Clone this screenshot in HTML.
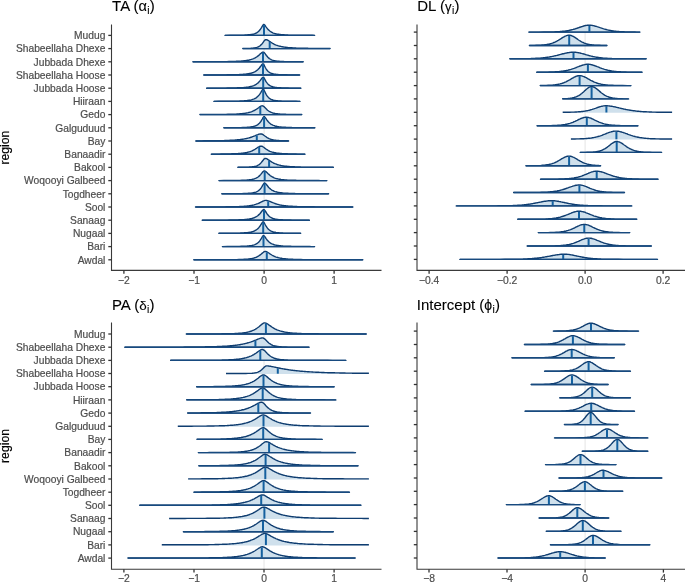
<!DOCTYPE html>
<html lang="en">
<head>
<meta charset="utf-8">
<title>Region posterior distributions</title>
<style>
html,body{margin:0;padding:0;background:#fff;}
body{width:685px;height:583px;overflow:hidden;font-family:"Liberation Sans",sans-serif;}
svg{display:block;}
</style>
</head>
<body>
<svg width="685" height="583" viewBox="0 0 685 583" font-family="Liberation Sans, sans-serif">
<rect width="685" height="583" fill="#ffffff"/>
<g id="panel1">
<text x="112.1" y="11.2" font-size="15" fill="#000" stroke="#000" stroke-width="0.1">TA (<tspan font-size="14.6">α</tspan><tspan font-size="10.3" dx="0.3" dy="2.8">i</tspan><tspan font-size="15" dx="0.3" dy="-2.8">)</tspan></text>
<line x1="264.1" x2="264.1" y1="24.4" y2="270.4" stroke="#e4e4e4" stroke-width="1"/>
<path d="M225,35.4 L230,35.3 L232,35.3 L234,35.3 L236,35.3 L238,35.2 L240,35.2 L242,35.1 L242.8,35.1 L243.5,35.1 L244.2,35.1 L245,35 L245.8,35 L246.5,35 L247.2,34.9 L248,34.8 L248.8,34.8 L249.5,34.7 L250.2,34.6 L251,34.5 L251.8,34.4 L252.5,34.3 L253.2,34.1 L254,33.9 L254.8,33.6 L255.5,33.3 L256.2,33 L257,32.6 L257.8,32 L258.5,31.4 L259.2,30.8 L260,29.8 L260.8,28.7 L261.5,27.6 L262.2,26.3 L263,25 L263.8,24.4 L264.5,24.8 L265.2,25.6 L266,26.8 L266.8,27.9 L267.5,28.8 L268.2,29.6 L269,30.3 L269.8,31 L270.5,31.5 L271.2,32 L272,32.4 L272.8,32.8 L273.5,33.1 L274.2,33.3 L275,33.6 L275.8,33.8 L276.5,33.9 L277.2,34.1 L278,34.2 L278.8,34.3 L279.5,34.4 L280.2,34.5 L281,34.6 L281.8,34.7 L282.5,34.7 L283.2,34.8 L284,34.8 L284.8,34.9 L285.5,34.9 L286.2,35 L287,35 L287.8,35 L288.5,35.1 L289.2,35.1 L290,35.1 L290.8,35.1 L291.5,35.1 L292.2,35.2 L294.2,35.2 L296.2,35.2 L298.2,35.2 L300.2,35.3 L302.2,35.3 L304.2,35.3 L306.2,35.3 L308.2,35.3 L310.2,35.3 L312.2,35.3 L314.2,35.4 L314.6,35.4 L314.6,35.4 L225,35.4 Z" fill="#cfe0ec" stroke="#0f3d70" stroke-width="1.4" stroke-linejoin="round"/>
<line x1="264" x2="264" y1="35" y2="24.9" stroke="#14609f" stroke-width="2.0"/>
<line x1="225" x2="314.6" y1="35.4" y2="35.4" stroke="#174a7f" stroke-width="1.4"/>
<path d="M242.8,48.5 L244.8,48.5 L246.8,48.4 L248.8,48.4 L250.8,48.3 L251.5,48.2 L252.3,48.1 L253,48.1 L253.8,48 L254.5,47.9 L255.3,47.8 L256,47.6 L256.8,47.4 L257.5,47.2 L258.3,46.8 L259,46.5 L259.8,46 L260.5,45.4 L261.3,44.6 L262,43.9 L262.8,42.8 L263.5,41.8 L264.3,40.7 L265,40 L265.8,39.6 L265.9,39.6 L266.5,39.7 L267.3,39.9 L268,40.3 L268.8,40.8 L269.5,41.3 L270.3,41.8 L271,42.3 L271.8,42.8 L272.5,43.3 L273.3,43.7 L274,44.1 L274.8,44.5 L275.5,44.8 L276.3,45.1 L277,45.3 L277.8,45.6 L278.5,45.8 L279.3,46.1 L280,46.2 L280.8,46.4 L281.5,46.6 L282.3,46.7 L283,46.9 L283.8,47 L284.5,47.1 L285.3,47.2 L286,47.3 L286.8,47.4 L287.5,47.5 L288.3,47.6 L289,47.6 L289.8,47.7 L290.5,47.7 L291.3,47.8 L292,47.8 L292.8,47.9 L293.5,47.9 L294.3,48 L295,48 L295.8,48 L296.5,48.1 L297.3,48.1 L298,48.1 L298.8,48.2 L299.5,48.2 L300.3,48.2 L301,48.2 L301.8,48.2 L302.5,48.2 L303.3,48.3 L304,48.3 L304.8,48.3 L305.5,48.3 L306.3,48.3 L307,48.3 L307.8,48.3 L308.5,48.4 L310.5,48.4 L312.5,48.4 L314.5,48.4 L316.5,48.4 L318.5,48.5 L320.5,48.5 L322.5,48.5 L324.5,48.5 L326.5,48.5 L328.5,48.5 L330.1,48.5 L330.1,48.6 L242.8,48.6 Z" fill="#cfe0ec" stroke="#0f3d70" stroke-width="1.4" stroke-linejoin="round"/>
<line x1="269.7" x2="269.7" y1="48.2" y2="41.9" stroke="#14609f" stroke-width="2.0"/>
<line x1="242.8" x2="330.1" y1="48.6" y2="48.6" stroke="#174a7f" stroke-width="1.4"/>
<path d="M192.9,61.8 L197.9,61.8 L202.9,61.7 L204.9,61.7 L206.9,61.7 L208.9,61.7 L210.9,61.7 L212.9,61.7 L214.9,61.7 L216.9,61.7 L218.9,61.7 L220.9,61.6 L222.9,61.6 L224.9,61.6 L226.9,61.6 L228.9,61.5 L229.7,61.5 L230.4,61.5 L231.2,61.5 L231.9,61.5 L232.7,61.5 L233.4,61.4 L234.2,61.4 L234.9,61.4 L235.7,61.4 L236.4,61.3 L237.2,61.3 L237.9,61.3 L238.7,61.2 L239.4,61.2 L240.2,61.1 L240.9,61.1 L241.7,61 L242.4,61 L243.2,60.9 L243.9,60.8 L244.7,60.7 L245.4,60.6 L246.2,60.5 L246.9,60.4 L247.7,60.3 L248.4,60.2 L249.2,60 L249.9,59.8 L250.7,59.6 L251.4,59.4 L252.2,59.1 L252.9,58.9 L253.7,58.6 L254.4,58.2 L255.2,57.8 L255.9,57.4 L256.6,57 L257.4,56.4 L258.1,55.9 L258.9,55.2 L259.6,54.6 L260.4,53.8 L261.1,53.2 L261.9,52.6 L262.6,52.2 L263.2,52.1 L263.4,52.1 L264.1,52.5 L264.9,53.4 L265.6,54.4 L266.4,55.5 L267.1,56.3 L267.9,57.2 L268.6,57.9 L269.4,58.6 L270.1,59 L270.9,59.5 L271.6,59.8 L272.4,60.1 L273.1,60.3 L273.9,60.6 L274.6,60.7 L275.4,60.9 L276.1,61 L276.9,61.1 L277.6,61.2 L278.4,61.2 L279.1,61.3 L279.9,61.4 L280.6,61.4 L281.4,61.4 L282.1,61.5 L282.9,61.5 L283.6,61.5 L284.4,61.6 L286.4,61.6 L288.4,61.6 L290.4,61.7 L292.4,61.7 L294.4,61.7 L296.4,61.7 L298.4,61.7 L300.4,61.8 L303.2,61.8 L303.2,61.8 L192.9,61.8 Z" fill="#cfe0ec" stroke="#0f3d70" stroke-width="1.4" stroke-linejoin="round"/>
<line x1="263" x2="263" y1="61.4" y2="52.6" stroke="#14609f" stroke-width="2.0"/>
<line x1="192.9" x2="303.2" y1="61.8" y2="61.8" stroke="#174a7f" stroke-width="1.4"/>
<path d="M203.7,75 L208.7,75 L213.7,74.9 L215.7,74.9 L217.7,74.9 L219.7,74.9 L221.7,74.9 L223.7,74.9 L225.7,74.9 L227.7,74.8 L229.7,74.8 L231.7,74.8 L233.7,74.7 L234.4,74.7 L235.2,74.7 L235.9,74.7 L236.7,74.6 L237.4,74.6 L238.2,74.6 L238.9,74.6 L239.7,74.5 L240.4,74.5 L241.2,74.5 L241.9,74.4 L242.7,74.4 L243.4,74.3 L244.2,74.2 L244.9,74.2 L245.7,74.1 L246.4,74 L247.2,73.9 L247.9,73.8 L248.7,73.7 L249.4,73.5 L250.2,73.4 L250.9,73.2 L251.7,73 L252.4,72.7 L253.2,72.5 L253.9,72.2 L254.7,71.8 L255.4,71.4 L256.2,70.9 L256.9,70.4 L257.7,69.7 L258.4,69 L259.2,68.2 L259.9,67.3 L260.7,66.3 L261.4,65.3 L262.2,64.3 L262.9,63.8 L263,63.8 L263.7,64.4 L264.4,65.7 L265.2,67.3 L265.9,68.5 L266.7,69.8 L267.4,70.6 L268.2,71.5 L268.9,72 L269.7,72.6 L270.4,72.9 L271.2,73.3 L271.9,73.5 L272.7,73.8 L273.4,73.9 L274.2,74.1 L274.9,74.2 L275.7,74.3 L276.4,74.4 L277.2,74.5 L277.9,74.5 L278.7,74.6 L279.4,74.6 L280.2,74.7 L280.9,74.7 L281.7,74.7 L282.4,74.8 L284.4,74.8 L286.4,74.8 L288.4,74.9 L290.4,74.9 L292.4,74.9 L294.4,74.9 L296.4,75 L299.7,75 L299.7,75 L203.7,75 Z" fill="#cfe0ec" stroke="#0f3d70" stroke-width="1.4" stroke-linejoin="round"/>
<line x1="263" x2="263" y1="74.6" y2="64.3" stroke="#14609f" stroke-width="2.0"/>
<line x1="203.7" x2="299.7" y1="75" y2="75" stroke="#174a7f" stroke-width="1.4"/>
<path d="M206.6,88.2 L211.6,88.1 L213.6,88.1 L215.6,88.1 L217.6,88.1 L219.6,88.1 L221.6,88.1 L223.6,88.1 L225.6,88.1 L227.6,88 L229.6,88 L231.6,88 L233.6,87.9 L234.3,87.9 L235.1,87.9 L235.8,87.9 L236.6,87.9 L237.3,87.8 L238.1,87.8 L238.8,87.8 L239.6,87.8 L240.3,87.7 L241.1,87.7 L241.8,87.7 L242.6,87.6 L243.3,87.6 L244.1,87.5 L244.8,87.4 L245.6,87.4 L246.3,87.3 L247.1,87.2 L247.8,87.1 L248.6,87 L249.3,86.8 L250.1,86.7 L250.8,86.5 L251.6,86.3 L252.3,86.1 L253.1,85.8 L253.8,85.6 L254.6,85.2 L255.3,84.8 L256.1,84.4 L256.9,83.8 L257.6,83.3 L258.4,82.6 L259.1,81.8 L259.9,80.9 L260.6,80 L261.4,78.9 L262.1,78 L262.9,77.3 L263.2,77.2 L263.6,77.4 L264.4,78.5 L265.1,79.8 L265.9,81.3 L266.6,82.4 L267.4,83.4 L268.1,84.2 L268.9,84.9 L269.6,85.4 L270.4,85.9 L271.1,86.2 L271.9,86.5 L272.6,86.8 L273.4,87 L274.1,87.1 L274.9,87.3 L275.6,87.4 L276.4,87.5 L277.1,87.6 L277.9,87.6 L278.6,87.7 L279.4,87.8 L280.1,87.8 L280.9,87.8 L281.6,87.9 L282.4,87.9 L283.1,87.9 L283.9,88 L285.9,88 L287.9,88 L289.9,88.1 L291.9,88.1 L293.9,88.1 L295.9,88.1 L297.9,88.1 L299.9,88.2 L300.9,88.2 L300.9,88.2 L206.6,88.2 Z" fill="#cfe0ec" stroke="#0f3d70" stroke-width="1.4" stroke-linejoin="round"/>
<line x1="263.2" x2="263.2" y1="87.8" y2="77.7" stroke="#14609f" stroke-width="2.0"/>
<line x1="206.6" x2="300.9" y1="88.2" y2="88.2" stroke="#174a7f" stroke-width="1.4"/>
<path d="M213.9,101.4 L218.9,101.3 L220.9,101.3 L222.9,101.3 L224.9,101.3 L226.9,101.3 L228.9,101.3 L230.9,101.2 L232.9,101.2 L234.9,101.2 L236.9,101.1 L237.7,101.1 L238.4,101.1 L239.2,101.1 L239.9,101 L240.7,101 L241.4,101 L242.2,100.9 L242.9,100.9 L243.7,100.9 L244.4,100.8 L245.2,100.7 L245.9,100.7 L246.7,100.6 L247.4,100.5 L248.2,100.4 L248.9,100.3 L249.7,100.2 L250.4,100.1 L251.2,99.9 L251.9,99.7 L252.7,99.4 L253.4,99.2 L254.2,98.9 L254.9,98.5 L255.7,98.1 L256.4,97.6 L257.1,97 L257.9,96.3 L258.6,95.6 L259.4,94.6 L260.1,93.6 L260.9,92.3 L261.6,91.1 L262.4,89.8 L263.1,89.2 L263.2,89.2 L263.9,89.8 L264.6,91.2 L265.4,92.9 L266.1,94.3 L266.9,95.6 L267.6,96.5 L268.4,97.4 L269.1,98.1 L269.9,98.7 L270.6,99.1 L271.4,99.5 L272.1,99.7 L272.9,100 L273.6,100.2 L274.4,100.4 L275.1,100.5 L275.9,100.6 L276.6,100.7 L277.4,100.8 L278.1,100.9 L278.9,100.9 L279.6,101 L280.4,101 L281.1,101 L281.9,101.1 L282.6,101.1 L283.4,101.1 L284.1,101.2 L286.1,101.2 L288.1,101.3 L290.1,101.3 L292.1,101.3 L294.1,101.3 L296.1,101.3 L298.1,101.4 L300,101.4 L300,101.4 L213.9,101.4 Z" fill="#cfe0ec" stroke="#0f3d70" stroke-width="1.4" stroke-linejoin="round"/>
<line x1="263.2" x2="263.2" y1="101" y2="89.7" stroke="#14609f" stroke-width="2.0"/>
<line x1="213.9" x2="300" y1="101.4" y2="101.4" stroke="#174a7f" stroke-width="1.4"/>
<path d="M199.9,114.5 L201.9,114.5 L203.9,114.5 L205.9,114.5 L207.9,114.5 L209.9,114.5 L211.9,114.5 L213.9,114.5 L215.9,114.5 L217.9,114.5 L219.9,114.4 L221.9,114.4 L223.9,114.4 L225.9,114.4 L227.9,114.3 L228.7,114.3 L229.4,114.3 L230.2,114.3 L230.9,114.2 L231.7,114.2 L232.4,114.2 L233.2,114.2 L233.9,114.1 L234.7,114.1 L235.4,114.1 L236.2,114.1 L236.9,114 L237.7,114 L238.4,113.9 L239.2,113.9 L239.9,113.8 L240.7,113.8 L241.4,113.7 L242.2,113.6 L242.9,113.5 L243.7,113.5 L244.4,113.4 L245.2,113.2 L245.9,113.1 L246.7,113 L247.4,112.9 L248.2,112.7 L248.9,112.5 L249.7,112.3 L250.4,112.1 L251.2,111.8 L251.9,111.6 L252.7,111.2 L253.4,110.9 L254.2,110.5 L254.9,110.2 L255.7,109.7 L256.4,109.2 L257.1,108.8 L257.9,108.2 L258.6,107.7 L259.4,107.1 L260.1,106.6 L260.9,106.1 L261.6,105.9 L262.2,105.8 L262.4,105.8 L263.1,106 L263.9,106.6 L264.6,107.3 L265.4,108.1 L266.1,108.8 L266.9,109.6 L267.6,110.2 L268.4,110.8 L269.1,111.3 L269.9,111.7 L270.6,112.1 L271.4,112.4 L272.1,112.7 L272.9,113 L273.6,113.2 L274.4,113.3 L275.1,113.5 L275.9,113.6 L276.6,113.7 L277.4,113.8 L278.1,113.9 L278.9,114 L279.6,114 L280.4,114.1 L281.1,114.1 L281.9,114.2 L282.6,114.2 L283.4,114.3 L284.1,114.3 L284.9,114.3 L285.6,114.3 L286.4,114.4 L288.4,114.4 L290.4,114.4 L292.4,114.5 L294.4,114.5 L296.4,114.5 L298.4,114.5 L300.4,114.5 L301.8,114.5 L301.8,114.6 L199.9,114.6 Z" fill="#cfe0ec" stroke="#0f3d70" stroke-width="1.4" stroke-linejoin="round"/>
<line x1="260.3" x2="260.3" y1="114.2" y2="106.9" stroke="#14609f" stroke-width="2.0"/>
<line x1="199.9" x2="301.8" y1="114.6" y2="114.6" stroke="#174a7f" stroke-width="1.4"/>
<path d="M223.8,127.8 L228.8,127.7 L230.8,127.7 L232.8,127.7 L234.8,127.7 L236.8,127.7 L238.8,127.6 L240.8,127.6 L242.8,127.5 L243.5,127.5 L244.3,127.5 L245,127.4 L245.8,127.4 L246.5,127.4 L247.3,127.3 L248,127.3 L248.8,127.2 L249.5,127.1 L250.3,127 L251,126.9 L251.8,126.8 L252.5,126.7 L253.3,126.5 L254,126.3 L254.8,126.1 L255.5,125.8 L256.3,125.5 L257,125.1 L257.8,124.6 L258.5,124 L259.3,123.3 L260,122.5 L260.8,121.5 L261.5,120.4 L262.3,119 L263,117.7 L263.8,116.7 L264.1,116.6 L264.5,116.7 L265.3,117.6 L266,118.7 L266.8,119.9 L267.5,120.8 L268.3,121.8 L269,122.5 L269.8,123.2 L270.5,123.8 L271.3,124.3 L272,124.7 L272.8,125.1 L273.5,125.4 L274.3,125.7 L275,126 L275.8,126.2 L276.5,126.3 L277.3,126.5 L278,126.6 L278.8,126.8 L279.5,126.9 L280.3,126.9 L281,127 L281.8,127.1 L282.5,127.2 L283.3,127.2 L284,127.3 L284.8,127.3 L285.5,127.3 L286.3,127.4 L287,127.4 L287.8,127.4 L288.5,127.5 L289.3,127.5 L290,127.5 L290.8,127.5 L291.5,127.5 L292.3,127.6 L294.3,127.6 L296.3,127.6 L298.3,127.7 L300.3,127.7 L302.3,127.7 L304.3,127.7 L306.3,127.7 L308.3,127.7 L310.3,127.7 L312.3,127.8 L314.9,127.8 L314.9,127.8 L223.8,127.8 Z" fill="#cfe0ec" stroke="#0f3d70" stroke-width="1.4" stroke-linejoin="round"/>
<line x1="264.1" x2="264.1" y1="127.4" y2="117.1" stroke="#14609f" stroke-width="2.0"/>
<line x1="223.8" x2="314.9" y1="127.8" y2="127.8" stroke="#174a7f" stroke-width="1.4"/>
<path d="M195.8,140.9 L197.8,140.9 L199.8,140.9 L201.8,140.9 L203.8,140.8 L205.8,140.8 L207.8,140.8 L209.8,140.8 L211.8,140.8 L213.8,140.8 L215.8,140.7 L216.5,140.7 L217.3,140.7 L218,140.7 L218.8,140.7 L219.5,140.7 L220.3,140.6 L221,140.6 L221.8,140.6 L222.5,140.6 L223.3,140.6 L224,140.6 L224.8,140.5 L225.5,140.5 L226.3,140.5 L227,140.5 L227.8,140.4 L228.5,140.4 L229.3,140.4 L230,140.3 L230.8,140.3 L231.5,140.3 L232.3,140.2 L233,140.2 L233.8,140.1 L234.5,140.1 L235.3,140 L236,140 L236.8,139.9 L237.5,139.8 L238.3,139.8 L239,139.7 L239.8,139.6 L240.5,139.5 L241.3,139.4 L242,139.3 L242.8,139.2 L243.5,139.1 L244.3,138.9 L245,138.8 L245.8,138.6 L246.5,138.5 L247.3,138.3 L248,138.1 L248.8,137.9 L249.5,137.7 L250.3,137.5 L251,137.2 L251.8,137 L252.5,136.7 L253.3,136.4 L254,136.1 L254.8,135.8 L255.5,135.5 L256.3,135.2 L257,134.9 L257.8,134.6 L258.5,134.3 L259.3,134.1 L260,134 L260.8,133.9 L260.9,133.9 L261.5,134 L262.3,134.2 L263,134.6 L263.8,135.2 L264.5,135.7 L265.3,136.3 L266,136.8 L266.8,137.4 L267.5,137.8 L268.3,138.2 L269,138.6 L269.8,138.9 L270.5,139.2 L271.3,139.4 L272,139.6 L272.8,139.8 L273.5,139.9 L274.3,140.1 L275,140.2 L275.8,140.3 L276.5,140.4 L277.3,140.4 L278,140.5 L278.8,140.5 L279.5,140.6 L280.3,140.6 L281,140.7 L281.8,140.7 L282.5,140.7 L283.3,140.7 L284,140.8 L286,140.8 L288,140.8 L288.6,140.9 L288.6,141 L195.8,141 Z" fill="#cfe0ec" stroke="#0f3d70" stroke-width="1.4" stroke-linejoin="round"/>
<line x1="256.8" x2="256.8" y1="140.6" y2="135.5" stroke="#14609f" stroke-width="2.0"/>
<line x1="195.8" x2="288.6" y1="141" y2="141" stroke="#174a7f" stroke-width="1.4"/>
<path d="M211.3,154.1 L213.3,154.1 L215.3,154.1 L217.3,154.1 L219.3,154.1 L221.3,154 L223.3,154 L225.3,154 L227.3,153.9 L228,153.9 L228.8,153.9 L229.5,153.9 L230.3,153.9 L231,153.9 L231.8,153.8 L232.5,153.8 L233.3,153.8 L234,153.8 L234.8,153.7 L235.5,153.7 L236.3,153.7 L237,153.6 L237.8,153.6 L238.5,153.5 L239.3,153.5 L240,153.4 L240.8,153.4 L241.5,153.3 L242.3,153.2 L243,153.1 L243.8,153 L244.5,152.9 L245.3,152.8 L246,152.7 L246.8,152.5 L247.5,152.3 L248.3,152.1 L249,151.9 L249.8,151.7 L250.5,151.5 L251.3,151.2 L252,150.9 L252.8,150.5 L253.5,150.1 L254.3,149.7 L255,149.3 L255.8,148.7 L256.5,148.3 L257.3,147.7 L258,147.2 L258.8,146.8 L259.5,146.4 L260.3,146.2 L260.9,146.1 L261,146.1 L261.8,146.2 L262.5,146.5 L263.3,147 L264,147.5 L264.8,148.1 L265.5,148.6 L266.3,149.2 L267,149.7 L267.8,150.2 L268.5,150.6 L269.3,151 L270,151.3 L270.8,151.6 L271.5,151.9 L272.3,152.1 L273,152.3 L273.8,152.5 L274.5,152.7 L275.3,152.8 L276,152.9 L276.8,153.1 L277.5,153.2 L278.3,153.3 L279,153.3 L279.8,153.4 L280.5,153.5 L281.3,153.5 L282,153.6 L282.8,153.6 L283.5,153.7 L284.3,153.7 L285,153.8 L285.8,153.8 L286.5,153.8 L287.3,153.8 L288,153.9 L288.8,153.9 L289.5,153.9 L290.3,153.9 L291,153.9 L291.8,154 L293.8,154 L295.8,154 L297.8,154.1 L299.8,154.1 L301.8,154.1 L303.8,154.1 L305,154.1 L305,154.2 L211.3,154.2 Z" fill="#cfe0ec" stroke="#0f3d70" stroke-width="1.4" stroke-linejoin="round"/>
<line x1="259.2" x2="259.2" y1="153.8" y2="147" stroke="#14609f" stroke-width="2.0"/>
<line x1="211.3" x2="305" y1="154.2" y2="154.2" stroke="#174a7f" stroke-width="1.4"/>
<path d="M237.9,167.3 L239.9,167.3 L241.9,167.3 L243.9,167.2 L245.9,167.2 L247.9,167.1 L248.7,167.1 L249.4,167 L250.2,167 L250.9,166.9 L251.7,166.9 L252.4,166.8 L253.2,166.7 L253.9,166.6 L254.7,166.4 L255.4,166.3 L256.1,166.1 L256.9,165.8 L257.6,165.5 L258.4,165 L259.1,164.6 L259.9,164 L260.6,163.3 L261.4,162.4 L262.1,161.5 L262.9,160.5 L263.6,159.6 L264.4,158.8 L265.1,158.4 L265.3,158.4 L265.9,158.5 L266.6,158.7 L267.4,159.1 L268.1,159.6 L268.9,160.1 L269.6,160.6 L270.4,161.2 L271.1,161.6 L271.9,162.1 L272.6,162.5 L273.4,163 L274.1,163.3 L274.9,163.7 L275.6,163.9 L276.4,164.2 L277.1,164.5 L277.9,164.7 L278.6,164.9 L279.4,165.1 L280.1,165.3 L280.9,165.5 L281.6,165.6 L282.4,165.8 L283.1,165.9 L283.9,166 L284.6,166.1 L285.4,166.2 L286.1,166.3 L286.9,166.3 L287.6,166.4 L288.4,166.5 L289.1,166.5 L289.9,166.6 L290.6,166.6 L291.4,166.7 L292.1,166.7 L292.9,166.8 L293.6,166.8 L294.4,166.8 L295.1,166.9 L295.9,166.9 L296.6,166.9 L297.4,167 L298.1,167 L298.9,167 L299.6,167 L300.4,167 L301.1,167.1 L301.9,167.1 L302.6,167.1 L303.4,167.1 L304.1,167.1 L304.9,167.1 L305.6,167.1 L306.4,167.2 L308.4,167.2 L310.4,167.2 L312.4,167.2 L314.4,167.2 L316.4,167.3 L318.4,167.3 L320.4,167.3 L322.4,167.3 L324.4,167.3 L326.4,167.3 L328.4,167.3 L330.4,167.3 L332.4,167.3 L333.3,167.3 L333.3,167.4 L237.9,167.4 Z" fill="#cfe0ec" stroke="#0f3d70" stroke-width="1.4" stroke-linejoin="round"/>
<line x1="269.1" x2="269.1" y1="167" y2="160.8" stroke="#14609f" stroke-width="2.0"/>
<line x1="237.9" x2="333.3" y1="167.4" y2="167.4" stroke="#174a7f" stroke-width="1.4"/>
<path d="M218.9,180.6 L223.9,180.5 L225.9,180.5 L227.9,180.5 L229.9,180.5 L231.9,180.5 L233.9,180.5 L235.9,180.4 L237.9,180.4 L239.9,180.4 L241.9,180.3 L242.7,180.3 L243.4,180.3 L244.2,180.2 L244.9,180.2 L245.7,180.1 L246.4,180.1 L247.2,180 L247.9,180 L248.7,179.9 L249.4,179.8 L250.2,179.7 L250.9,179.6 L251.7,179.5 L252.4,179.3 L253.2,179.2 L253.9,179 L254.7,178.7 L255.4,178.4 L256.1,178.1 L256.9,177.7 L257.6,177.3 L258.4,176.7 L259.1,176.1 L259.9,175.4 L260.6,174.6 L261.4,173.6 L262.1,172.8 L262.9,171.8 L263.6,171.2 L264.4,170.9 L265.1,171.1 L265.9,171.6 L266.6,172.2 L267.4,173 L268.1,173.7 L268.9,174.4 L269.6,175 L270.4,175.7 L271.1,176.2 L271.9,176.7 L272.6,177 L273.4,177.4 L274.1,177.8 L274.9,178.1 L275.6,178.3 L276.4,178.6 L277.1,178.7 L277.9,178.9 L278.6,179.1 L279.4,179.2 L280.1,179.3 L280.9,179.5 L281.6,179.6 L282.4,179.7 L283.1,179.7 L283.9,179.8 L284.6,179.9 L285.4,179.9 L286.1,180 L286.9,180 L287.6,180.1 L288.4,180.1 L289.1,180.1 L289.9,180.2 L290.6,180.2 L291.4,180.2 L292.1,180.2 L292.9,180.3 L293.6,180.3 L294.4,180.3 L295.1,180.3 L295.9,180.3 L296.6,180.4 L298.6,180.4 L300.6,180.4 L302.6,180.4 L304.6,180.5 L306.6,180.5 L308.6,180.5 L310.6,180.5 L312.6,180.5 L314.6,180.5 L316.6,180.5 L318.6,180.5 L320.6,180.6 L325.6,180.6 L326.9,180.6 L326.9,180.6 L218.9,180.6 Z" fill="#cfe0ec" stroke="#0f3d70" stroke-width="1.4" stroke-linejoin="round"/>
<line x1="264.7" x2="264.7" y1="180.2" y2="171.4" stroke="#14609f" stroke-width="2.0"/>
<line x1="218.9" x2="326.9" y1="180.6" y2="180.6" stroke="#174a7f" stroke-width="1.4"/>
<path d="M221.8,193.8 L226.8,193.8 L231.8,193.7 L233.8,193.7 L235.8,193.7 L237.8,193.7 L239.8,193.6 L241.8,193.6 L243.8,193.5 L244.5,193.5 L245.3,193.5 L246,193.5 L246.8,193.4 L247.5,193.4 L248.3,193.3 L249,193.3 L249.8,193.2 L250.5,193.2 L251.3,193.1 L252,193 L252.8,192.9 L253.5,192.7 L254.3,192.5 L255,192.4 L255.8,192.1 L256.5,191.8 L257.3,191.4 L258,191 L258.8,190.4 L259.5,189.8 L260.3,189 L261,188.1 L261.8,186.9 L262.5,185.7 L263.3,184.3 L264,183.3 L264.6,183 L264.8,183 L265.5,183.5 L266.3,184.4 L267,185.3 L267.8,186.3 L268.5,187.2 L269.3,188 L270,188.6 L270.8,189.3 L271.5,189.8 L272.3,190.3 L273,190.6 L273.8,191 L274.5,191.3 L275.3,191.6 L276,191.8 L276.8,192 L277.5,192.2 L278.3,192.4 L279,192.5 L279.8,192.6 L280.5,192.7 L281.3,192.8 L282,192.9 L282.8,193 L283.5,193.1 L284.3,193.1 L285,193.2 L285.8,193.2 L286.5,193.3 L287.3,193.3 L288,193.3 L288.8,193.4 L289.5,193.4 L290.3,193.4 L291,193.5 L291.8,193.5 L292.5,193.5 L293.3,193.5 L294,193.5 L294.8,193.5 L295.5,193.6 L297.5,193.6 L299.5,193.6 L301.5,193.7 L303.5,193.7 L305.5,193.7 L307.5,193.7 L309.5,193.7 L311.5,193.7 L313.5,193.7 L315.5,193.7 L317.5,193.8 L322.5,193.8 L327.5,193.8 L328.6,193.8 L328.6,193.8 L221.8,193.8 Z" fill="#cfe0ec" stroke="#0f3d70" stroke-width="1.4" stroke-linejoin="round"/>
<line x1="264.6" x2="264.6" y1="193.4" y2="183.5" stroke="#14609f" stroke-width="2.0"/>
<line x1="221.8" x2="328.6" y1="193.8" y2="193.8" stroke="#174a7f" stroke-width="1.4"/>
<path d="M195.5,207 L200.5,207 L205.5,207 L210.5,206.9 L212.5,206.9 L214.5,206.9 L216.5,206.9 L218.5,206.9 L220.5,206.9 L222.5,206.9 L224.5,206.9 L226.5,206.8 L228.5,206.8 L230.5,206.8 L232.5,206.8 L234.5,206.7 L235.2,206.7 L236,206.7 L236.8,206.7 L237.5,206.6 L238.2,206.6 L239,206.6 L239.8,206.5 L240.5,206.5 L241.2,206.5 L242,206.4 L242.8,206.4 L243.5,206.4 L244.2,206.3 L245,206.2 L245.8,206.2 L246.5,206.1 L247.2,206 L248,206 L248.8,205.9 L249.5,205.8 L250.2,205.7 L251,205.5 L251.8,205.4 L252.5,205.2 L253.2,205.1 L254,204.9 L254.8,204.6 L255.5,204.4 L256.2,204.2 L257,203.9 L257.8,203.6 L258.5,203.3 L259.2,203 L260,202.6 L260.8,202.2 L261.5,201.8 L262.2,201.5 L263,201.1 L263.8,200.8 L264.5,200.6 L265.2,200.4 L265.9,200.4 L266,200.4 L266.8,200.5 L267.5,200.6 L268.2,200.8 L269,201.1 L269.8,201.4 L270.5,201.7 L271.2,202 L272,202.3 L272.8,202.7 L273.5,202.9 L274.2,203.2 L275,203.5 L275.8,203.8 L276.5,204 L277.2,204.2 L278,204.4 L278.8,204.6 L279.5,204.8 L280.2,205 L281,205.1 L281.8,205.3 L282.5,205.4 L283.2,205.5 L284,205.6 L284.8,205.7 L285.5,205.8 L286.2,205.9 L287,205.9 L287.8,206 L288.5,206.1 L289.2,206.1 L290,206.2 L290.8,206.3 L291.5,206.3 L292.2,206.3 L293,206.4 L293.8,206.4 L294.5,206.4 L295.2,206.5 L296,206.5 L296.8,206.5 L297.5,206.6 L298.2,206.6 L299,206.6 L299.8,206.6 L300.5,206.6 L301.2,206.7 L302,206.7 L302.8,206.7 L303.5,206.7 L304.2,206.7 L305,206.7 L305.8,206.8 L307.8,206.8 L309.8,206.8 L311.8,206.8 L313.8,206.8 L315.8,206.9 L317.8,206.9 L319.8,206.9 L321.8,206.9 L323.8,206.9 L325.8,206.9 L327.8,206.9 L329.8,206.9 L331.8,206.9 L333.8,206.9 L335.8,206.9 L337.8,207 L342.8,207 L347.8,207 L352.8,207 L352.9,207 L352.9,207 L195.5,207 Z" fill="#cfe0ec" stroke="#0f3d70" stroke-width="1.4" stroke-linejoin="round"/>
<line x1="268.2" x2="268.2" y1="206.6" y2="201.3" stroke="#14609f" stroke-width="2.0"/>
<line x1="195.5" x2="352.9" y1="207" y2="207" stroke="#174a7f" stroke-width="1.4"/>
<path d="M202.2,220.2 L207.2,220.2 L212.2,220.2 L217.2,220.1 L219.2,220.1 L221.2,220.1 L223.2,220.1 L225.2,220.1 L227.2,220.1 L229.2,220 L231.2,220 L233.2,220 L235.2,219.9 L235.9,219.9 L236.7,219.9 L237.4,219.9 L238.2,219.9 L238.9,219.8 L239.7,219.8 L240.4,219.8 L241.2,219.7 L241.9,219.7 L242.7,219.7 L243.4,219.6 L244.2,219.6 L244.9,219.5 L245.7,219.4 L246.4,219.4 L247.2,219.3 L247.9,219.2 L248.7,219.1 L249.4,219 L250.2,218.8 L250.9,218.7 L251.7,218.5 L252.4,218.3 L253.2,218 L253.9,217.8 L254.7,217.5 L255.4,217.1 L256.2,216.7 L256.9,216.3 L257.7,215.7 L258.4,215.1 L259.2,214.4 L259.9,213.7 L260.7,212.7 L261.4,211.8 L262.2,210.8 L262.9,210 L263.7,209.5 L263.8,209.5 L264.4,209.8 L265.2,210.9 L265.9,212 L266.7,213.3 L267.4,214.3 L268.2,215.2 L268.9,216 L269.7,216.7 L270.4,217.2 L271.2,217.6 L271.9,218 L272.7,218.3 L273.4,218.6 L274.2,218.8 L274.9,219 L275.7,219.1 L276.4,219.3 L277.2,219.4 L277.9,219.5 L278.7,219.6 L279.4,219.6 L280.2,219.7 L280.9,219.7 L281.7,219.8 L282.4,219.8 L283.2,219.9 L283.9,219.9 L284.7,219.9 L285.4,219.9 L286.2,220 L288.2,220 L290.2,220 L292.2,220.1 L294.2,220.1 L296.2,220.1 L298.2,220.1 L300.2,220.1 L302.2,220.2 L307.2,220.2 L309.4,220.2 L309.4,220.2 L202.2,220.2 Z" fill="#cfe0ec" stroke="#0f3d70" stroke-width="1.4" stroke-linejoin="round"/>
<line x1="264" x2="264" y1="219.8" y2="210" stroke="#14609f" stroke-width="2.0"/>
<line x1="202.2" x2="309.4" y1="220.2" y2="220.2" stroke="#174a7f" stroke-width="1.4"/>
<path d="M218.9,233.3 L220.9,233.3 L222.9,233.3 L224.9,233.3 L226.9,233.3 L228.9,233.3 L230.9,233.3 L232.9,233.2 L234.9,233.2 L236.9,233.1 L237.7,233.1 L238.4,233.1 L239.2,233.1 L239.9,233.1 L240.7,233 L241.4,233 L242.2,233 L242.9,232.9 L243.7,232.9 L244.4,232.8 L245.2,232.8 L245.9,232.7 L246.7,232.7 L247.4,232.6 L248.2,232.5 L248.9,232.4 L249.7,232.3 L250.4,232.1 L251.2,232 L251.9,231.8 L252.7,231.6 L253.4,231.3 L254.2,231 L254.9,230.7 L255.7,230.2 L256.4,229.8 L257.1,229.3 L257.9,228.6 L258.6,227.9 L259.4,226.9 L260.1,226 L260.9,224.7 L261.6,223.6 L262.4,222.4 L263.1,221.8 L263.2,221.8 L263.9,222.3 L264.6,223.5 L265.4,225 L266.1,226.2 L266.9,227.4 L267.6,228.3 L268.4,229.2 L269.1,229.8 L269.9,230.4 L270.6,230.8 L271.4,231.2 L272.1,231.5 L272.9,231.8 L273.6,232 L274.4,232.2 L275.1,232.3 L275.9,232.5 L276.6,232.6 L277.4,232.7 L278.1,232.7 L278.9,232.8 L279.6,232.9 L280.4,232.9 L281.1,233 L281.9,233 L282.6,233 L283.4,233.1 L284.1,233.1 L284.9,233.1 L285.6,233.1 L286.4,233.2 L288.4,233.2 L290.4,233.2 L292.4,233.3 L294.4,233.3 L296.4,233.3 L298.4,233.3 L300.4,233.3 L300.6,233.3 L300.6,233.4 L218.9,233.4 Z" fill="#cfe0ec" stroke="#0f3d70" stroke-width="1.4" stroke-linejoin="round"/>
<line x1="263.2" x2="263.2" y1="233" y2="222.3" stroke="#14609f" stroke-width="2.0"/>
<line x1="218.9" x2="300.6" y1="233.4" y2="233.4" stroke="#174a7f" stroke-width="1.4"/>
<path d="M222.4,246.6 L227.4,246.5 L229.4,246.5 L231.4,246.5 L233.4,246.5 L235.4,246.5 L237.4,246.4 L239.4,246.4 L241.4,246.3 L242.2,246.3 L242.9,246.3 L243.7,246.3 L244.4,246.2 L245.2,246.2 L245.9,246.1 L246.7,246.1 L247.4,246 L248.2,246 L248.9,245.9 L249.7,245.8 L250.4,245.7 L251.2,245.6 L251.9,245.5 L252.7,245.3 L253.4,245.1 L254.2,244.9 L254.9,244.6 L255.7,244.2 L256.4,243.9 L257.1,243.4 L257.9,242.8 L258.6,242.2 L259.4,241.3 L260.1,240.4 L260.9,239.2 L261.6,238 L262.4,236.6 L263.1,235.7 L263.5,235.5 L263.9,235.6 L264.6,236.4 L265.4,237.5 L266.1,238.6 L266.9,239.7 L267.6,240.5 L268.4,241.4 L269.1,242 L269.9,242.6 L270.6,243.1 L271.4,243.6 L272.1,243.9 L272.9,244.2 L273.6,244.5 L274.4,244.8 L275.1,245 L275.9,245.1 L276.6,245.3 L277.4,245.4 L278.1,245.5 L278.9,245.7 L279.6,245.7 L280.4,245.8 L281.1,245.9 L281.9,246 L282.6,246 L283.4,246.1 L284.1,246.1 L284.9,246.1 L285.6,246.2 L286.4,246.2 L287.1,246.2 L287.9,246.3 L288.6,246.3 L289.4,246.3 L290.1,246.3 L290.9,246.3 L291.6,246.4 L293.6,246.4 L295.6,246.4 L297.6,246.5 L299.6,246.5 L301.6,246.5 L303.6,246.5 L305.6,246.5 L307.6,246.5 L309.6,246.5 L311.6,246.6 L314.6,246.6 L314.6,246.6 L222.4,246.6 Z" fill="#cfe0ec" stroke="#0f3d70" stroke-width="1.4" stroke-linejoin="round"/>
<line x1="263.5" x2="263.5" y1="246.2" y2="236" stroke="#14609f" stroke-width="2.0"/>
<line x1="222.4" x2="314.6" y1="246.6" y2="246.6" stroke="#174a7f" stroke-width="1.4"/>
<path d="M193.8,259.8 L198.8,259.8 L203.8,259.8 L208.8,259.8 L213.8,259.8 L218.8,259.7 L220.8,259.7 L222.8,259.7 L224.8,259.7 L226.8,259.7 L228.8,259.7 L230.8,259.7 L232.8,259.6 L234.8,259.6 L236.8,259.6 L238.8,259.5 L239.5,259.5 L240.3,259.5 L241,259.5 L241.8,259.4 L242.5,259.4 L243.3,259.4 L244,259.3 L244.8,259.3 L245.5,259.3 L246.3,259.2 L247,259.1 L247.8,259.1 L248.5,259 L249.3,258.9 L250,258.8 L250.8,258.7 L251.5,258.6 L252.3,258.4 L253,258.3 L253.8,258.1 L254.5,257.8 L255.3,257.6 L256,257.3 L256.8,257 L257.5,256.6 L258.3,256.2 L259,255.7 L259.8,255.2 L260.5,254.6 L261.3,254 L262,253.4 L262.8,252.7 L263.5,252.2 L264.3,251.7 L265,251.5 L265.3,251.5 L265.8,251.5 L266.5,251.7 L267.3,252.1 L268,252.5 L268.8,253 L269.5,253.5 L270.3,254.1 L271,254.5 L271.8,255 L272.5,255.4 L273.3,255.8 L274,256.2 L274.8,256.5 L275.5,256.8 L276.3,257.1 L277,257.3 L277.8,257.5 L278.5,257.7 L279.3,257.9 L280,258.1 L280.8,258.2 L281.5,258.3 L282.3,258.5 L283,258.6 L283.8,258.7 L284.5,258.8 L285.3,258.8 L286,258.9 L286.8,259 L287.5,259 L288.3,259.1 L289,259.1 L289.8,259.2 L290.5,259.2 L291.3,259.3 L292,259.3 L292.8,259.3 L293.5,259.4 L294.3,259.4 L295,259.4 L295.8,259.4 L296.5,259.5 L297.3,259.5 L298,259.5 L298.8,259.5 L299.5,259.5 L300.3,259.5 L301,259.5 L303,259.6 L305,259.6 L307,259.6 L309,259.7 L311,259.7 L313,259.7 L315,259.7 L317,259.7 L319,259.7 L321,259.7 L323,259.7 L325,259.7 L327,259.7 L329,259.8 L334,259.8 L339,259.8 L344,259.8 L349,259.8 L354,259.8 L359,259.8 L362.8,259.8 L362.8,259.8 L193.8,259.8 Z" fill="#cfe0ec" stroke="#0f3d70" stroke-width="1.4" stroke-linejoin="round"/>
<line x1="266.8" x2="266.8" y1="259.4" y2="252.4" stroke="#14609f" stroke-width="2.0"/>
<line x1="193.8" x2="362.8" y1="259.8" y2="259.8" stroke="#174a7f" stroke-width="1.4"/>
<path d="M111.5,24.4 V270.4 H381.5" fill="none" stroke="#3a3a3a" stroke-width="1.1"/>
<line x1="108.3" x2="111.5" y1="35.4" y2="35.4" stroke="#333" stroke-width="1.3"/>
<text x="105.4" y="39.1" font-size="10.25" fill="#4d4d4d" stroke="#4d4d4d" stroke-width="0.2" text-anchor="end">Mudug</text>
<line x1="108.3" x2="111.5" y1="48.6" y2="48.6" stroke="#333" stroke-width="1.3"/>
<text x="105.4" y="52.3" font-size="10.25" fill="#4d4d4d" stroke="#4d4d4d" stroke-width="0.2" text-anchor="end">Shabeellaha Dhexe</text>
<line x1="108.3" x2="111.5" y1="61.8" y2="61.8" stroke="#333" stroke-width="1.3"/>
<text x="105.4" y="65.5" font-size="10.25" fill="#4d4d4d" stroke="#4d4d4d" stroke-width="0.2" text-anchor="end">Jubbada Dhexe</text>
<line x1="108.3" x2="111.5" y1="75" y2="75" stroke="#333" stroke-width="1.3"/>
<text x="105.4" y="78.7" font-size="10.25" fill="#4d4d4d" stroke="#4d4d4d" stroke-width="0.2" text-anchor="end">Shabeellaha Hoose</text>
<line x1="108.3" x2="111.5" y1="88.2" y2="88.2" stroke="#333" stroke-width="1.3"/>
<text x="105.4" y="91.9" font-size="10.25" fill="#4d4d4d" stroke="#4d4d4d" stroke-width="0.2" text-anchor="end">Jubbada Hoose</text>
<line x1="108.3" x2="111.5" y1="101.4" y2="101.4" stroke="#333" stroke-width="1.3"/>
<text x="105.4" y="105.1" font-size="10.25" fill="#4d4d4d" stroke="#4d4d4d" stroke-width="0.2" text-anchor="end">Hiiraan</text>
<line x1="108.3" x2="111.5" y1="114.6" y2="114.6" stroke="#333" stroke-width="1.3"/>
<text x="105.4" y="118.3" font-size="10.25" fill="#4d4d4d" stroke="#4d4d4d" stroke-width="0.2" text-anchor="end">Gedo</text>
<line x1="108.3" x2="111.5" y1="127.8" y2="127.8" stroke="#333" stroke-width="1.3"/>
<text x="105.4" y="131.5" font-size="10.25" fill="#4d4d4d" stroke="#4d4d4d" stroke-width="0.2" text-anchor="end">Galguduud</text>
<line x1="108.3" x2="111.5" y1="141" y2="141" stroke="#333" stroke-width="1.3"/>
<text x="105.4" y="144.7" font-size="10.25" fill="#4d4d4d" stroke="#4d4d4d" stroke-width="0.2" text-anchor="end">Bay</text>
<line x1="108.3" x2="111.5" y1="154.2" y2="154.2" stroke="#333" stroke-width="1.3"/>
<text x="105.4" y="157.9" font-size="10.25" fill="#4d4d4d" stroke="#4d4d4d" stroke-width="0.2" text-anchor="end">Banaadir</text>
<line x1="108.3" x2="111.5" y1="167.4" y2="167.4" stroke="#333" stroke-width="1.3"/>
<text x="105.4" y="171.1" font-size="10.25" fill="#4d4d4d" stroke="#4d4d4d" stroke-width="0.2" text-anchor="end">Bakool</text>
<line x1="108.3" x2="111.5" y1="180.6" y2="180.6" stroke="#333" stroke-width="1.3"/>
<text x="105.4" y="184.3" font-size="10.25" fill="#4d4d4d" stroke="#4d4d4d" stroke-width="0.2" text-anchor="end">Woqooyi Galbeed</text>
<line x1="108.3" x2="111.5" y1="193.8" y2="193.8" stroke="#333" stroke-width="1.3"/>
<text x="105.4" y="197.5" font-size="10.25" fill="#4d4d4d" stroke="#4d4d4d" stroke-width="0.2" text-anchor="end">Togdheer</text>
<line x1="108.3" x2="111.5" y1="207" y2="207" stroke="#333" stroke-width="1.3"/>
<text x="105.4" y="210.7" font-size="10.25" fill="#4d4d4d" stroke="#4d4d4d" stroke-width="0.2" text-anchor="end">Sool</text>
<line x1="108.3" x2="111.5" y1="220.2" y2="220.2" stroke="#333" stroke-width="1.3"/>
<text x="105.4" y="223.9" font-size="10.25" fill="#4d4d4d" stroke="#4d4d4d" stroke-width="0.2" text-anchor="end">Sanaag</text>
<line x1="108.3" x2="111.5" y1="233.4" y2="233.4" stroke="#333" stroke-width="1.3"/>
<text x="105.4" y="237.1" font-size="10.25" fill="#4d4d4d" stroke="#4d4d4d" stroke-width="0.2" text-anchor="end">Nugaal</text>
<line x1="108.3" x2="111.5" y1="246.6" y2="246.6" stroke="#333" stroke-width="1.3"/>
<text x="105.4" y="250.3" font-size="10.25" fill="#4d4d4d" stroke="#4d4d4d" stroke-width="0.2" text-anchor="end">Bari</text>
<line x1="108.3" x2="111.5" y1="259.8" y2="259.8" stroke="#333" stroke-width="1.3"/>
<text x="105.4" y="263.5" font-size="10.25" fill="#4d4d4d" stroke="#4d4d4d" stroke-width="0.2" text-anchor="end">Awdal</text>
<line x1="123.9" x2="123.9" y1="270.4" y2="273.7" stroke="#333" stroke-width="1.3"/>
<text x="123.9" y="283.5" font-size="10.3" fill="#4d4d4d" stroke="#4d4d4d" stroke-width="0.2" text-anchor="middle">−2</text>
<line x1="194.0" x2="194.0" y1="270.4" y2="273.7" stroke="#333" stroke-width="1.3"/>
<text x="194.0" y="283.5" font-size="10.3" fill="#4d4d4d" stroke="#4d4d4d" stroke-width="0.2" text-anchor="middle">−1</text>
<line x1="264.1" x2="264.1" y1="270.4" y2="273.7" stroke="#333" stroke-width="1.3"/>
<text x="264.1" y="283.5" font-size="10.3" fill="#4d4d4d" stroke="#4d4d4d" stroke-width="0.2" text-anchor="middle">0</text>
<line x1="334.1" x2="334.1" y1="270.4" y2="273.7" stroke="#333" stroke-width="1.3"/>
<text x="334.1" y="283.5" font-size="10.3" fill="#4d4d4d" stroke="#4d4d4d" stroke-width="0.2" text-anchor="middle">1</text>
<text transform="translate(9.1,147.6) rotate(-90)" font-size="12.2" fill="#000" stroke="#000" stroke-width="0.2" text-anchor="middle">region</text>
</g>
<g id="panel2">
<text x="417.2" y="11.2" font-size="15" fill="#000" stroke="#000" stroke-width="0.1">DL (<tspan font-size="13.2">γ</tspan><tspan font-size="10.3" dx="0.3" dy="2.8">i</tspan><tspan font-size="15" dx="0.3" dy="-2.8">)</tspan></text>
<line x1="585.1" x2="585.1" y1="24.4" y2="270.4" stroke="#e4e4e4" stroke-width="1"/>
<path d="M528.8,32.1 L533.8,32.1 L538.8,32.1 L543.8,32 L545.8,32 L547.8,32 L549.8,32 L551.8,31.9 L553.8,31.9 L555.8,31.8 L556.6,31.8 L557.3,31.7 L558.1,31.7 L558.8,31.6 L559.6,31.6 L560.3,31.5 L561.1,31.5 L561.8,31.4 L562.6,31.3 L563.3,31.3 L564.1,31.2 L564.8,31.1 L565.6,31 L566.3,30.9 L567.1,30.7 L567.8,30.6 L568.6,30.5 L569.3,30.3 L570.1,30.2 L570.8,30 L571.6,29.8 L572.3,29.6 L573.1,29.4 L573.8,29.2 L574.6,29 L575.3,28.8 L576.1,28.5 L576.8,28.3 L577.6,28 L578.3,27.8 L579.1,27.5 L579.8,27.2 L580.6,27 L581.3,26.7 L582.1,26.5 L582.8,26.3 L583.6,26 L584.3,25.8 L585.1,25.7 L585.8,25.5 L586.6,25.4 L587.3,25.3 L588.1,25.2 L588.8,25.2 L589.2,25.2 L589.6,25.2 L590.3,25.2 L591.1,25.3 L591.8,25.4 L592.6,25.5 L593.3,25.6 L594.1,25.8 L594.8,26 L595.6,26.2 L596.3,26.4 L597.1,26.7 L597.8,26.9 L598.6,27.2 L599.3,27.4 L600.1,27.7 L600.8,27.9 L601.6,28.2 L602.3,28.4 L603.1,28.7 L603.8,28.9 L604.6,29.1 L605.3,29.3 L606.1,29.5 L606.8,29.7 L607.6,29.9 L608.3,30.1 L609.1,30.2 L609.8,30.4 L610.6,30.5 L611.3,30.7 L612.1,30.8 L612.8,30.9 L613.6,31 L614.3,31.1 L615.1,31.2 L615.8,31.3 L616.6,31.4 L617.3,31.4 L618.1,31.5 L618.8,31.5 L619.6,31.6 L620.3,31.6 L621.1,31.7 L621.8,31.7 L622.6,31.8 L623.3,31.8 L624.1,31.8 L624.8,31.9 L626.8,31.9 L628.8,32 L630.8,32 L632.8,32 L634.8,32 L636.8,32.1 L640,32.1 L640,32.1 L528.8,32.1 Z" fill="#cfe0ec" stroke="#0f3d70" stroke-width="1.4" stroke-linejoin="round"/>
<line x1="589.4" x2="589.4" y1="31.7" y2="25.7" stroke="#14609f" stroke-width="2.0"/>
<line x1="528.8" x2="640" y1="32.1" y2="32.1" stroke="#174a7f" stroke-width="1.4"/>
<path d="M529.4,45.4 L534.4,45.4 L536.4,45.3 L538.4,45.2 L540.4,45.1 L541.1,45.1 L541.9,45 L542.6,45 L543.4,44.9 L544.1,44.9 L544.9,44.8 L545.6,44.7 L546.4,44.6 L547.1,44.4 L547.9,44.3 L548.6,44.2 L549.4,44 L550.1,43.8 L550.9,43.6 L551.6,43.4 L552.4,43.1 L553.1,42.9 L553.9,42.5 L554.6,42.3 L555.4,41.9 L556.1,41.5 L556.9,41.1 L557.6,40.7 L558.4,40.3 L559.1,39.8 L559.9,39.3 L560.6,38.9 L561.4,38.4 L562.1,37.9 L562.9,37.4 L563.6,37 L564.4,36.6 L565.1,36.2 L565.9,35.9 L566.6,35.6 L567.4,35.4 L568.1,35.3 L568.9,35.2 L569.2,35.2 L569.6,35.2 L570.4,35.3 L571.1,35.5 L571.9,35.8 L572.6,36.1 L573.4,36.5 L574.1,36.9 L574.9,37.4 L575.6,37.9 L576.4,38.4 L577.1,38.9 L577.9,39.5 L578.6,40 L579.4,40.5 L580.1,40.9 L580.9,41.4 L581.6,41.8 L582.4,42.2 L583.1,42.5 L583.9,42.9 L584.6,43.2 L585.4,43.4 L586.1,43.7 L586.9,43.9 L587.6,44.1 L588.4,44.3 L589.1,44.4 L589.9,44.6 L590.6,44.7 L591.4,44.8 L592.1,44.9 L592.9,44.9 L593.6,45 L594.4,45.1 L595.1,45.1 L595.9,45.2 L596.6,45.2 L597.4,45.3 L599.4,45.3 L601.4,45.4 L603.4,45.4 L605.4,45.4 L607,45.4 L607,45.5 L529.4,45.5 Z" fill="#cfe0ec" stroke="#0f3d70" stroke-width="1.4" stroke-linejoin="round"/>
<line x1="569.2" x2="569.2" y1="45.1" y2="35.7" stroke="#14609f" stroke-width="2.0"/>
<line x1="529.4" x2="607" y1="45.5" y2="45.5" stroke="#174a7f" stroke-width="1.4"/>
<path d="M509.8,58.8 L514.8,58.8 L519.8,58.8 L521.8,58.7 L523.8,58.7 L525.8,58.7 L527.8,58.6 L529.8,58.6 L530.5,58.6 L531.3,58.5 L532,58.5 L532.8,58.5 L533.5,58.5 L534.3,58.4 L535,58.4 L535.8,58.3 L536.5,58.3 L537.3,58.3 L538,58.2 L538.8,58.2 L539.5,58.1 L540.3,58.1 L541,58 L541.8,57.9 L542.5,57.9 L543.3,57.8 L544,57.7 L544.8,57.6 L545.5,57.5 L546.3,57.4 L547,57.3 L547.8,57.2 L548.5,57.1 L549.3,57 L550,56.8 L550.8,56.7 L551.5,56.6 L552.3,56.4 L553,56.3 L553.8,56.1 L554.5,55.9 L555.3,55.7 L556,55.6 L556.8,55.4 L557.5,55.2 L558.3,55 L559,54.8 L559.8,54.6 L560.5,54.4 L561.3,54.2 L562,54 L562.8,53.8 L563.5,53.7 L564.3,53.5 L565,53.3 L565.8,53.1 L566.5,53 L567.3,52.8 L568,52.7 L568.8,52.6 L569.5,52.5 L570.3,52.4 L571,52.3 L571.8,52.2 L572.5,52.2 L573.3,52.2 L573.5,52.2 L574,52.2 L574.8,52.2 L575.5,52.3 L576.3,52.4 L577,52.5 L577.8,52.6 L578.5,52.7 L579.3,52.9 L580,53 L580.8,53.2 L581.5,53.4 L582.3,53.6 L583,53.8 L583.8,54 L584.5,54.2 L585.3,54.5 L586,54.7 L586.8,54.9 L587.5,55.1 L588.3,55.3 L589,55.5 L589.8,55.7 L590.5,55.9 L591.3,56.1 L592,56.3 L592.8,56.5 L593.5,56.6 L594.3,56.8 L595,56.9 L595.8,57.1 L596.5,57.2 L597.3,57.3 L598,57.4 L598.8,57.5 L599.5,57.6 L600.3,57.7 L601,57.8 L601.8,57.9 L602.5,58 L603.3,58.1 L604,58.1 L604.8,58.2 L605.5,58.2 L606.3,58.3 L607,58.3 L607.8,58.4 L608.5,58.4 L609.3,58.5 L610,58.5 L610.8,58.5 L611.5,58.5 L612.3,58.6 L613,58.6 L615,58.7 L617,58.7 L619,58.7 L621,58.8 L623,58.8 L625,58.8 L627,58.8 L632,58.8 L637,58.8 L642,58.8 L646.2,58.8 L646.2,58.8 L509.8,58.8 Z" fill="#cfe0ec" stroke="#0f3d70" stroke-width="1.4" stroke-linejoin="round"/>
<line x1="573.5" x2="573.5" y1="58.4" y2="52.7" stroke="#14609f" stroke-width="2.0"/>
<line x1="509.8" x2="646.2" y1="58.8" y2="58.8" stroke="#174a7f" stroke-width="1.4"/>
<path d="M536.7,72.2 L541.7,72.2 L543.7,72.1 L545.7,72.1 L547.7,72.1 L549.7,72 L551.7,72 L553.7,71.9 L554.5,71.9 L555.2,71.8 L556,71.8 L556.7,71.7 L557.5,71.7 L558.2,71.6 L559,71.6 L559.7,71.5 L560.5,71.4 L561.2,71.3 L562,71.2 L562.7,71.1 L563.5,71 L564.2,70.9 L565,70.8 L565.7,70.7 L566.5,70.5 L567.2,70.4 L568,70.2 L568.7,70 L569.5,69.8 L570.2,69.6 L571,69.4 L571.7,69.1 L572.5,68.9 L573.2,68.6 L574,68.4 L574.7,68.1 L575.5,67.8 L576.2,67.5 L577,67.2 L577.7,66.9 L578.5,66.6 L579.2,66.3 L580,66 L580.7,65.8 L581.5,65.5 L582.2,65.3 L583,65 L583.7,64.9 L584.5,64.7 L585.2,64.5 L586,64.4 L586.7,64.3 L587.5,64.3 L587.9,64.3 L588.2,64.3 L589,64.3 L589.7,64.4 L590.5,64.5 L591.2,64.7 L592,64.8 L592.7,65 L593.5,65.3 L594.2,65.5 L595,65.8 L595.7,66 L596.5,66.3 L597.2,66.6 L598,66.9 L598.7,67.2 L599.5,67.5 L600.2,67.8 L601,68.1 L601.7,68.4 L602.5,68.7 L603.2,68.9 L604,69.2 L604.7,69.4 L605.5,69.6 L606.2,69.8 L607,70 L607.7,70.2 L608.5,70.4 L609.2,70.5 L610,70.7 L610.7,70.8 L611.5,70.9 L612.2,71.1 L613,71.2 L613.7,71.3 L614.5,71.4 L615.2,71.4 L616,71.5 L616.7,71.6 L617.5,71.6 L618.2,71.7 L619,71.7 L619.7,71.8 L620.5,71.8 L621.2,71.9 L622,71.9 L622.7,71.9 L623.5,72 L625.5,72 L627.5,72.1 L629.5,72.1 L631.5,72.1 L633.5,72.2 L635.5,72.2 L640.5,72.2 L642.1,72.2 L642.1,72.2 L536.7,72.2 Z" fill="#cfe0ec" stroke="#0f3d70" stroke-width="1.4" stroke-linejoin="round"/>
<line x1="587.9" x2="587.9" y1="71.8" y2="64.8" stroke="#14609f" stroke-width="2.0"/>
<line x1="536.7" x2="642.1" y1="72.2" y2="72.2" stroke="#174a7f" stroke-width="1.4"/>
<path d="M540.2,85.5 L542.2,85.5 L544.2,85.5 L546.2,85.4 L548.2,85.3 L550.2,85.2 L551,85.2 L551.7,85.1 L552.5,85.1 L553.2,85 L554,84.9 L554.7,84.9 L555.5,84.8 L556.2,84.7 L557,84.5 L557.7,84.4 L558.5,84.2 L559.2,84.1 L560,83.9 L560.7,83.7 L561.5,83.5 L562.2,83.3 L563,83 L563.7,82.8 L564.5,82.4 L565.2,82.1 L566,81.8 L566.7,81.4 L567.5,81 L568.2,80.6 L569,80.2 L569.7,79.8 L570.5,79.3 L571.2,78.9 L572,78.4 L572.7,78 L573.5,77.6 L574.2,77.2 L575,76.8 L575.7,76.5 L576.5,76.2 L577.2,76 L578,75.8 L578.7,75.7 L579.5,75.7 L579.6,75.7 L580.2,75.7 L581,75.8 L581.7,75.9 L582.5,76.1 L583.2,76.4 L584,76.7 L584.7,77 L585.5,77.4 L586.2,77.7 L587,78.2 L587.7,78.6 L588.5,79 L589.2,79.4 L590,79.9 L590.7,80.3 L591.5,80.7 L592.2,81 L593,81.4 L593.7,81.8 L594.5,82.1 L595.2,82.4 L596,82.7 L596.7,83 L597.5,83.2 L598.2,83.5 L599,83.7 L599.7,83.9 L600.5,84 L601.2,84.2 L602,84.4 L602.7,84.5 L603.5,84.6 L604.2,84.7 L605,84.8 L605.7,84.9 L606.5,85 L607.2,85 L608,85.1 L608.7,85.1 L609.5,85.2 L610.2,85.2 L611,85.3 L611.7,85.3 L612.5,85.3 L614.5,85.4 L616.5,85.5 L618.5,85.5 L620.5,85.5 L622.5,85.5 L627.5,85.6 L631,85.6 L631,85.6 L540.2,85.6 Z" fill="#cfe0ec" stroke="#0f3d70" stroke-width="1.4" stroke-linejoin="round"/>
<line x1="579.6" x2="579.6" y1="85.2" y2="76.2" stroke="#14609f" stroke-width="2.0"/>
<line x1="540.2" x2="631" y1="85.6" y2="85.6" stroke="#174a7f" stroke-width="1.4"/>
<path d="M562.7,98.8 L564.7,98.7 L566.7,98.6 L567.5,98.6 L568.2,98.5 L569,98.4 L569.7,98.4 L570.5,98.2 L571.2,98.1 L572,98 L572.7,97.8 L573.5,97.7 L574.2,97.5 L575,97.2 L575.7,97 L576.5,96.7 L577.2,96.3 L578,95.9 L578.7,95.6 L579.5,95.1 L580.2,94.6 L581,94 L581.7,93.5 L582.5,92.8 L583.2,92.2 L584,91.5 L584.7,90.8 L585.5,90.1 L586.2,89.4 L587,88.8 L587.7,88.2 L588.5,87.6 L589.2,87.2 L590,86.9 L590.7,86.7 L591.5,86.6 L591.6,86.6 L592.2,86.6 L593,86.8 L593.7,87 L594.5,87.4 L595.2,87.8 L596,88.4 L596.7,88.9 L597.5,89.5 L598.2,90.1 L599,90.8 L599.7,91.4 L600.5,92.1 L601.2,92.7 L602,93.3 L602.7,93.8 L603.5,94.4 L604.2,94.8 L605,95.3 L605.7,95.7 L606.5,96.1 L607.2,96.4 L608,96.7 L608.7,97 L609.5,97.2 L610.2,97.4 L611,97.7 L611.7,97.8 L612.5,98 L613.2,98.1 L614,98.2 L614.7,98.3 L615.5,98.4 L616.2,98.5 L617,98.5 L617.7,98.6 L618.5,98.6 L619.2,98.7 L620,98.7 L622,98.8 L624,98.9 L626,98.9 L628,98.9 L628.6,98.9 L628.6,98.9 L562.7,98.9 Z" fill="#cfe0ec" stroke="#0f3d70" stroke-width="1.4" stroke-linejoin="round"/>
<line x1="591.6" x2="591.6" y1="98.5" y2="87.1" stroke="#14609f" stroke-width="2.0"/>
<line x1="562.7" x2="628.6" y1="98.9" y2="98.9" stroke="#174a7f" stroke-width="1.4"/>
<path d="M562.7,112.3 L567.7,112.2 L569.7,112.2 L571.7,112.1 L573.7,112.1 L575.7,112 L576.5,112 L577.2,111.9 L578,111.9 L578.7,111.8 L579.5,111.8 L580.2,111.7 L581,111.6 L581.7,111.5 L582.5,111.5 L583.2,111.4 L584,111.3 L584.7,111.1 L585.5,111 L586.2,110.9 L587,110.7 L587.7,110.6 L588.5,110.4 L589.2,110.2 L590,110 L590.7,109.8 L591.5,109.6 L592.2,109.4 L593,109.1 L593.7,108.9 L594.5,108.6 L595.2,108.4 L596,108.1 L596.7,107.8 L597.5,107.5 L598.2,107.3 L599,107 L599.7,106.8 L600.5,106.6 L601.2,106.4 L602,106.2 L602.7,106.1 L603.5,105.9 L604.2,105.9 L605,105.8 L605.6,105.8 L605.7,105.8 L606.5,105.8 L607.2,105.8 L608,105.9 L608.7,105.9 L609.5,106 L610.2,106.1 L611,106.2 L611.7,106.3 L612.5,106.4 L613.2,106.6 L614,106.7 L614.7,106.9 L615.5,107 L616.2,107.2 L617,107.4 L617.7,107.6 L618.5,107.7 L619.2,107.9 L620,108.1 L620.7,108.3 L621.5,108.5 L622.2,108.6 L623,108.8 L623.7,109 L624.5,109.1 L625.2,109.3 L626,109.5 L626.7,109.6 L627.5,109.8 L628.2,109.9 L629,110 L629.7,110.2 L630.5,110.3 L631.2,110.4 L632,110.5 L632.7,110.6 L633.5,110.8 L634.2,110.8 L635,110.9 L635.7,111 L636.5,111.1 L637.2,111.2 L638,111.3 L638.7,111.3 L639.5,111.4 L640.2,111.5 L641,111.5 L641.7,111.6 L642.5,111.6 L643.2,111.7 L644,111.7 L644.7,111.8 L645.5,111.8 L646.2,111.8 L647,111.9 L647.7,111.9 L648.5,111.9 L649.2,112 L650,112 L650.7,112 L651.5,112 L652.2,112.1 L653,112.1 L655,112.1 L657,112.2 L659,112.2 L661,112.2 L663,112.2 L665,112.3 L667,112.3 L669,112.3 L672.1,112.3 L672.1,112.8 L562.7,112.8 Z" fill="#cfe0ec" stroke="none"/>
<line x1="606.4" x2="606.4" y1="112.5" y2="106.3" stroke="#14609f" stroke-width="2.0"/>
<path d="M562.7,112.3 L567.7,112.2 L569.7,112.2 L571.7,112.1 L573.7,112.1 L575.7,112 L576.5,112 L577.2,111.9 L578,111.9 L578.7,111.8 L579.5,111.8 L580.2,111.7 L581,111.6 L581.7,111.5 L582.5,111.5 L583.2,111.4 L584,111.3 L584.7,111.1 L585.5,111 L586.2,110.9 L587,110.7 L587.7,110.6 L588.5,110.4 L589.2,110.2 L590,110 L590.7,109.8 L591.5,109.6 L592.2,109.4 L593,109.1 L593.7,108.9 L594.5,108.6 L595.2,108.4 L596,108.1 L596.7,107.8 L597.5,107.5 L598.2,107.3 L599,107 L599.7,106.8 L600.5,106.6 L601.2,106.4 L602,106.2 L602.7,106.1 L603.5,105.9 L604.2,105.9 L605,105.8 L605.6,105.8 L605.7,105.8 L606.5,105.8 L607.2,105.8 L608,105.9 L608.7,105.9 L609.5,106 L610.2,106.1 L611,106.2 L611.7,106.3 L612.5,106.4 L613.2,106.6 L614,106.7 L614.7,106.9 L615.5,107 L616.2,107.2 L617,107.4 L617.7,107.6 L618.5,107.7 L619.2,107.9 L620,108.1 L620.7,108.3 L621.5,108.5 L622.2,108.6 L623,108.8 L623.7,109 L624.5,109.1 L625.2,109.3 L626,109.5 L626.7,109.6 L627.5,109.8 L628.2,109.9 L629,110 L629.7,110.2 L630.5,110.3 L631.2,110.4 L632,110.5 L632.7,110.6 L633.5,110.8 L634.2,110.8 L635,110.9 L635.7,111 L636.5,111.1 L637.2,111.2 L638,111.3 L638.7,111.3 L639.5,111.4 L640.2,111.5 L641,111.5 L641.7,111.6 L642.5,111.6 L643.2,111.7 L644,111.7 L644.7,111.8 L645.5,111.8 L646.2,111.8 L647,111.9 L647.7,111.9 L648.5,111.9 L649.2,112 L650,112 L650.7,112 L651.5,112 L652.2,112.1 L653,112.1 L655,112.1 L657,112.2 L659,112.2 L661,112.2 L663,112.2 L665,112.3 L667,112.3 L669,112.3 L672.1,112.3" fill="none" stroke="#0f3d70" stroke-width="1.4" stroke-linejoin="round"/>
<path d="M537,125.7 L542,125.7 L547,125.6 L549,125.6 L551,125.6 L553,125.5 L555,125.5 L557,125.4 L557.8,125.3 L558.5,125.3 L559.2,125.2 L560,125.2 L560.8,125.1 L561.5,125 L562.2,124.9 L563,124.8 L563.8,124.7 L564.5,124.6 L565.2,124.5 L566,124.3 L566.8,124.2 L567.5,124 L568.2,123.8 L569,123.6 L569.8,123.4 L570.5,123.2 L571.2,122.9 L572,122.6 L572.8,122.3 L573.5,122 L574.2,121.7 L575,121.4 L575.8,121 L576.5,120.6 L577.2,120.3 L578,119.9 L578.8,119.5 L579.5,119.2 L580.2,118.9 L581,118.5 L581.8,118.2 L582.5,118 L583.2,117.7 L584,117.5 L584.8,117.4 L585.5,117.3 L586.2,117.3 L586.3,117.3 L587,117.3 L587.8,117.4 L588.5,117.5 L589.2,117.7 L590,117.9 L590.8,118.2 L591.5,118.5 L592.2,118.8 L593,119.2 L593.8,119.6 L594.5,119.9 L595.2,120.3 L596,120.7 L596.8,121 L597.5,121.4 L598.2,121.7 L599,122.1 L599.8,122.4 L600.5,122.7 L601.2,122.9 L602,123.2 L602.8,123.5 L603.5,123.7 L604.2,123.9 L605,124.1 L605.8,124.2 L606.5,124.4 L607.2,124.5 L608,124.6 L608.8,124.8 L609.5,124.9 L610.2,124.9 L611,125 L611.8,125.1 L612.5,125.2 L613.2,125.2 L614,125.3 L614.8,125.3 L615.5,125.4 L616.2,125.4 L617,125.4 L619,125.5 L621,125.6 L623,125.6 L625,125.6 L627,125.6 L632,125.7 L637,125.7 L638,125.7 L638,125.7 L537,125.7 Z" fill="#cfe0ec" stroke="#0f3d70" stroke-width="1.4" stroke-linejoin="round"/>
<line x1="586.8" x2="586.8" y1="125.3" y2="117.8" stroke="#14609f" stroke-width="2.0"/>
<line x1="537" x2="638" y1="125.7" y2="125.7" stroke="#174a7f" stroke-width="1.4"/>
<path d="M570.9,139 L572.9,139 L574.9,139 L576.9,138.9 L578.9,138.9 L580.9,138.8 L581.6,138.8 L582.4,138.7 L583.1,138.7 L583.9,138.7 L584.6,138.6 L585.4,138.6 L586.1,138.5 L586.9,138.5 L587.6,138.4 L588.4,138.3 L589.1,138.2 L589.9,138.2 L590.6,138.1 L591.4,138 L592.1,137.8 L592.9,137.7 L593.6,137.6 L594.4,137.4 L595.1,137.3 L595.9,137.1 L596.6,136.9 L597.4,136.7 L598.1,136.5 L598.9,136.3 L599.6,136.1 L600.4,135.8 L601.1,135.6 L601.9,135.3 L602.6,135 L603.4,134.7 L604.1,134.4 L604.9,134.1 L605.6,133.8 L606.4,133.5 L607.1,133.2 L607.9,132.9 L608.6,132.6 L609.4,132.3 L610.1,132.1 L610.9,131.9 L611.6,131.7 L612.4,131.5 L613.1,131.3 L613.9,131.2 L614.6,131.1 L615.4,131.1 L615.7,131.1 L616.1,131.1 L616.9,131.1 L617.6,131.2 L618.4,131.3 L619.1,131.4 L619.9,131.6 L620.6,131.8 L621.4,132 L622.1,132.2 L622.9,132.4 L623.6,132.7 L624.4,132.9 L625.1,133.2 L625.9,133.5 L626.6,133.7 L627.4,134 L628.1,134.3 L628.9,134.6 L629.6,134.8 L630.4,135.1 L631.1,135.4 L631.9,135.6 L632.6,135.8 L633.4,136.1 L634.1,136.3 L634.9,136.5 L635.6,136.7 L636.4,136.9 L637.1,137 L637.9,137.2 L638.6,137.3 L639.4,137.5 L640.1,137.6 L640.9,137.7 L641.6,137.8 L642.4,137.9 L643.1,138 L643.9,138.1 L644.6,138.2 L645.4,138.3 L646.1,138.4 L646.9,138.4 L647.6,138.5 L648.4,138.5 L649.1,138.6 L649.9,138.6 L650.6,138.7 L651.4,138.7 L652.1,138.7 L652.9,138.8 L653.6,138.8 L654.4,138.8 L656.4,138.9 L658.4,138.9 L660.4,139 L662.4,139 L664.4,139 L666.4,139 L671.4,139 L672.1,139 L672.1,139.6 L570.9,139.6 Z" fill="#cfe0ec" stroke="none"/>
<line x1="616.4" x2="616.4" y1="139.3" y2="131.6" stroke="#14609f" stroke-width="2.0"/>
<path d="M570.9,139 L572.9,139 L574.9,139 L576.9,138.9 L578.9,138.9 L580.9,138.8 L581.6,138.8 L582.4,138.7 L583.1,138.7 L583.9,138.7 L584.6,138.6 L585.4,138.6 L586.1,138.5 L586.9,138.5 L587.6,138.4 L588.4,138.3 L589.1,138.2 L589.9,138.2 L590.6,138.1 L591.4,138 L592.1,137.8 L592.9,137.7 L593.6,137.6 L594.4,137.4 L595.1,137.3 L595.9,137.1 L596.6,136.9 L597.4,136.7 L598.1,136.5 L598.9,136.3 L599.6,136.1 L600.4,135.8 L601.1,135.6 L601.9,135.3 L602.6,135 L603.4,134.7 L604.1,134.4 L604.9,134.1 L605.6,133.8 L606.4,133.5 L607.1,133.2 L607.9,132.9 L608.6,132.6 L609.4,132.3 L610.1,132.1 L610.9,131.9 L611.6,131.7 L612.4,131.5 L613.1,131.3 L613.9,131.2 L614.6,131.1 L615.4,131.1 L615.7,131.1 L616.1,131.1 L616.9,131.1 L617.6,131.2 L618.4,131.3 L619.1,131.4 L619.9,131.6 L620.6,131.8 L621.4,132 L622.1,132.2 L622.9,132.4 L623.6,132.7 L624.4,132.9 L625.1,133.2 L625.9,133.5 L626.6,133.7 L627.4,134 L628.1,134.3 L628.9,134.6 L629.6,134.8 L630.4,135.1 L631.1,135.4 L631.9,135.6 L632.6,135.8 L633.4,136.1 L634.1,136.3 L634.9,136.5 L635.6,136.7 L636.4,136.9 L637.1,137 L637.9,137.2 L638.6,137.3 L639.4,137.5 L640.1,137.6 L640.9,137.7 L641.6,137.8 L642.4,137.9 L643.1,138 L643.9,138.1 L644.6,138.2 L645.4,138.3 L646.1,138.4 L646.9,138.4 L647.6,138.5 L648.4,138.5 L649.1,138.6 L649.9,138.6 L650.6,138.7 L651.4,138.7 L652.1,138.7 L652.9,138.8 L653.6,138.8 L654.4,138.8 L656.4,138.9 L658.4,138.9 L660.4,139 L662.4,139 L664.4,139 L666.4,139 L671.4,139 L672.1,139" fill="none" stroke="#0f3d70" stroke-width="1.4" stroke-linejoin="round"/>
<path d="M580.2,152.4 L585.2,152.4 L587.2,152.3 L589.2,152.3 L591.2,152.2 L592,152.1 L592.7,152.1 L593.5,152 L594.2,151.9 L595,151.9 L595.7,151.8 L596.5,151.6 L597.2,151.5 L598,151.4 L598.7,151.2 L599.5,151 L600.2,150.8 L601,150.6 L601.7,150.3 L602.5,150 L603.2,149.6 L604,149.2 L604.7,148.9 L605.5,148.4 L606.2,147.9 L607,147.4 L607.7,146.8 L608.5,146.2 L609.2,145.6 L610,145 L610.7,144.4 L611.5,143.8 L612.2,143.3 L613,142.8 L613.7,142.4 L614.5,142 L615.2,141.7 L616,141.5 L616.7,141.5 L617.5,141.5 L618.2,141.7 L619,141.9 L619.7,142.2 L620.5,142.6 L621.2,142.9 L622,143.4 L622.7,143.9 L623.5,144.5 L624.2,145 L625,145.5 L625.7,146 L626.5,146.6 L627.2,147.1 L628,147.6 L628.7,148 L629.5,148.5 L630.2,148.8 L631,149.2 L631.7,149.5 L632.5,149.9 L633.2,150.1 L634,150.4 L634.7,150.6 L635.5,150.9 L636.2,151 L637,151.2 L637.7,151.4 L638.5,151.5 L639.2,151.6 L640,151.7 L640.7,151.8 L641.5,151.9 L642.2,151.9 L643,152 L643.7,152.1 L644.5,152.1 L645.2,152.2 L646,152.2 L648,152.3 L650,152.3 L652,152.4 L654,152.4 L659,152.4 L661.6,152.4 L661.6,152.4 L580.2,152.4 Z" fill="#cfe0ec" stroke="#0f3d70" stroke-width="1.4" stroke-linejoin="round"/>
<line x1="616.7" x2="616.7" y1="152" y2="142" stroke="#14609f" stroke-width="2.0"/>
<line x1="580.2" x2="661.6" y1="152.4" y2="152.4" stroke="#174a7f" stroke-width="1.4"/>
<path d="M525.9,165.8 L530.9,165.7 L532.9,165.7 L534.9,165.7 L536.9,165.6 L538.9,165.6 L540.9,165.5 L541.6,165.4 L542.4,165.3 L543.1,165.3 L543.9,165.2 L544.6,165.1 L545.4,165 L546.1,165 L546.9,164.8 L547.6,164.7 L548.4,164.6 L549.1,164.4 L549.9,164.2 L550.6,164.1 L551.4,163.8 L552.1,163.6 L552.9,163.3 L553.6,163.1 L554.4,162.8 L555.1,162.5 L555.9,162.1 L556.6,161.8 L557.4,161.3 L558.1,161 L558.9,160.5 L559.6,160.1 L560.4,159.6 L561.1,159.2 L561.9,158.7 L562.6,158.3 L563.4,157.9 L564.1,157.5 L564.9,157.1 L565.6,156.8 L566.4,156.5 L567.1,156.3 L567.9,156.2 L568.6,156.1 L569.1,156.1 L569.4,156.1 L570.1,156.2 L570.9,156.3 L571.6,156.5 L572.4,156.8 L573.1,157.1 L573.9,157.4 L574.6,157.8 L575.4,158.2 L576.1,158.7 L576.9,159.1 L577.6,159.6 L578.4,160.1 L579.1,160.5 L579.9,160.9 L580.6,161.3 L581.4,161.7 L582.1,162.1 L582.9,162.5 L583.6,162.8 L584.4,163.1 L585.1,163.4 L585.9,163.6 L586.6,163.8 L587.4,164.1 L588.1,164.3 L588.9,164.4 L589.6,164.6 L590.4,164.7 L591.1,164.9 L591.9,165 L592.6,165.1 L593.4,165.2 L594.1,165.2 L594.9,165.3 L595.6,165.4 L596.4,165.4 L597.1,165.5 L597.9,165.5 L598.6,165.5 L599.4,165.6 L600.6,165.6 L600.6,165.8 L525.9,165.8 Z" fill="#cfe0ec" stroke="#0f3d70" stroke-width="1.4" stroke-linejoin="round"/>
<line x1="569.1" x2="569.1" y1="165.4" y2="156.6" stroke="#14609f" stroke-width="2.0"/>
<line x1="525.9" x2="600.6" y1="165.8" y2="165.8" stroke="#174a7f" stroke-width="1.4"/>
<path d="M540.5,179.2 L545.5,179.2 L550.5,179.1 L555.5,179.1 L557.5,179.1 L559.5,179 L561.5,179 L563.5,178.9 L564.2,178.9 L565,178.8 L565.8,178.8 L566.5,178.8 L567.2,178.7 L568,178.7 L568.8,178.6 L569.5,178.5 L570.2,178.5 L571,178.4 L571.8,178.3 L572.5,178.2 L573.2,178.1 L574,178 L574.8,177.8 L575.5,177.7 L576.2,177.5 L577,177.4 L577.8,177.2 L578.5,177 L579.2,176.8 L580,176.6 L580.8,176.3 L581.5,176.1 L582.2,175.8 L583,175.5 L583.8,175.2 L584.5,174.9 L585.2,174.6 L586,174.3 L586.8,174 L587.5,173.7 L588.2,173.4 L589,173 L589.8,172.7 L590.5,172.4 L591.2,172.2 L592,171.9 L592.8,171.7 L593.5,171.5 L594.2,171.4 L595,171.3 L595.8,171.2 L596.5,171.2 L597.2,171.2 L598,171.3 L598.8,171.4 L599.5,171.5 L600.2,171.6 L601,171.8 L601.8,172 L602.5,172.2 L603.2,172.4 L604,172.7 L604.8,173 L605.5,173.2 L606.2,173.5 L607,173.8 L607.8,174.1 L608.5,174.4 L609.2,174.6 L610,174.9 L610.8,175.2 L611.5,175.5 L612.2,175.7 L613,176 L613.8,176.2 L614.5,176.4 L615.2,176.6 L616,176.8 L616.8,177 L617.5,177.2 L618.2,177.3 L619,177.5 L619.8,177.6 L620.5,177.8 L621.2,177.9 L622,178 L622.8,178.1 L623.5,178.2 L624.2,178.3 L625,178.4 L625.8,178.4 L626.5,178.5 L627.2,178.6 L628,178.6 L628.8,178.7 L629.5,178.7 L630.2,178.8 L631,178.8 L631.8,178.8 L632.5,178.9 L633.2,178.9 L634,178.9 L636,179 L638,179 L640,179.1 L642,179.1 L644,179.1 L646,179.1 L651,179.1 L656,179.2 L658.1,179.2 L658.1,179.2 L540.5,179.2 Z" fill="#cfe0ec" stroke="#0f3d70" stroke-width="1.4" stroke-linejoin="round"/>
<line x1="596.7" x2="596.7" y1="178.8" y2="171.7" stroke="#14609f" stroke-width="2.0"/>
<line x1="540.5" x2="658.1" y1="179.2" y2="179.2" stroke="#174a7f" stroke-width="1.4"/>
<path d="M513.6,192.5 L518.6,192.5 L523.6,192.5 L528.6,192.5 L533.6,192.5 L535.6,192.4 L537.6,192.4 L539.6,192.4 L541.6,192.3 L543.6,192.3 L544.4,192.2 L545.1,192.2 L545.9,192.2 L546.6,192.1 L547.4,192.1 L548.1,192 L548.9,192 L549.6,191.9 L550.4,191.8 L551.1,191.8 L551.9,191.7 L552.6,191.6 L553.4,191.5 L554.1,191.4 L554.9,191.3 L555.6,191.2 L556.4,191.1 L557.1,191 L557.9,190.8 L558.6,190.7 L559.4,190.5 L560.1,190.3 L560.9,190.1 L561.6,189.9 L562.4,189.7 L563.1,189.5 L563.9,189.3 L564.6,189 L565.4,188.8 L566.1,188.5 L566.9,188.2 L567.6,188 L568.4,187.7 L569.1,187.4 L569.9,187.1 L570.6,186.9 L571.4,186.6 L572.1,186.4 L572.9,186.1 L573.6,185.9 L574.4,185.7 L575.1,185.5 L575.9,185.3 L576.6,185.2 L577.4,185.1 L578.1,185 L578.9,185 L579.4,185 L579.6,185 L580.4,185 L581.1,185.1 L581.9,185.2 L582.6,185.4 L583.4,185.6 L584.1,185.8 L584.9,186.1 L585.6,186.4 L586.4,186.7 L587.1,187 L587.9,187.3 L588.6,187.6 L589.4,188 L590.1,188.3 L590.9,188.6 L591.6,188.9 L592.4,189.2 L593.1,189.4 L593.9,189.7 L594.6,190 L595.4,190.2 L596.1,190.4 L596.9,190.6 L597.6,190.8 L598.4,191 L599.1,191.1 L599.9,191.3 L600.6,191.4 L601.4,191.5 L602.1,191.6 L602.9,191.7 L603.6,191.8 L604.4,191.9 L605.1,192 L605.9,192 L606.6,192.1 L607.4,192.1 L608.1,192.2 L608.9,192.2 L609.6,192.3 L610.4,192.3 L611.1,192.3 L613.1,192.4 L615.1,192.4 L617.1,192.5 L619.1,192.5 L621.1,192.5 L624.5,192.5 L624.5,192.5 L513.6,192.5 Z" fill="#cfe0ec" stroke="#0f3d70" stroke-width="1.4" stroke-linejoin="round"/>
<line x1="579.4" x2="579.4" y1="192.1" y2="185.5" stroke="#14609f" stroke-width="2.0"/>
<line x1="513.6" x2="624.5" y1="192.5" y2="192.5" stroke="#174a7f" stroke-width="1.4"/>
<path d="M456.2,205.9 L461.2,205.9 L466.2,205.9 L471.2,205.9 L476.2,205.9 L481.2,205.9 L486.2,205.9 L491.2,205.9 L496.2,205.9 L498.2,205.8 L500.2,205.8 L502.2,205.8 L504.2,205.8 L506.2,205.7 L508.2,205.7 L510.2,205.6 L511,205.6 L511.7,205.6 L512.5,205.6 L513.2,205.5 L514,205.5 L514.7,205.5 L515.5,205.4 L516.2,205.4 L517,205.4 L517.7,205.3 L518.5,205.3 L519.2,205.2 L520,205.2 L520.7,205.1 L521.5,205.1 L522.2,205 L523,204.9 L523.7,204.9 L524.5,204.8 L525.2,204.7 L526,204.6 L526.7,204.5 L527.5,204.4 L528.2,204.3 L529,204.2 L529.7,204.1 L530.5,204 L531.2,203.9 L532,203.7 L532.7,203.6 L533.5,203.4 L534.2,203.3 L535,203.2 L535.7,203 L536.5,202.9 L537.2,202.7 L538,202.6 L538.7,202.4 L539.5,202.3 L540.2,202.1 L541,202 L541.7,201.8 L542.5,201.7 L543.2,201.5 L544,201.4 L544.7,201.3 L545.5,201.2 L546.2,201.1 L547,201 L547.7,200.9 L548.5,200.8 L549.2,200.8 L550,200.7 L550.7,200.7 L551.5,200.7 L551.6,200.7 L552.2,200.7 L553,200.7 L553.7,200.8 L554.5,200.8 L555.2,200.9 L556,201 L556.7,201.1 L557.5,201.2 L558.2,201.3 L559,201.5 L559.7,201.6 L560.5,201.7 L561.2,201.9 L562,202.1 L562.7,202.2 L563.5,202.4 L564.2,202.5 L565,202.7 L565.7,202.9 L566.5,203 L567.2,203.2 L568,203.3 L568.7,203.5 L569.5,203.6 L570.2,203.8 L571,203.9 L571.7,204 L572.5,204.2 L573.2,204.3 L574,204.4 L574.7,204.5 L575.5,204.6 L576.2,204.7 L577,204.8 L577.7,204.9 L578.5,204.9 L579.2,205 L580,205.1 L580.7,205.1 L581.5,205.2 L582.2,205.3 L583,205.3 L583.7,205.4 L584.5,205.4 L585.2,205.4 L586,205.5 L586.7,205.5 L587.5,205.5 L588.2,205.6 L589,205.6 L589.7,205.6 L590.5,205.7 L591.2,205.7 L593.2,205.7 L595.2,205.8 L597.2,205.8 L599.2,205.8 L601.2,205.8 L603.2,205.9 L605.2,205.9 L610.2,205.9 L615.2,205.9 L620.2,205.9 L625.2,205.9 L630.2,205.9 L631.8,205.9 L631.8,205.9 L456.2,205.9 Z" fill="#cfe0ec" stroke="#0f3d70" stroke-width="1.4" stroke-linejoin="round"/>
<line x1="552.7" x2="552.7" y1="205.5" y2="201.2" stroke="#14609f" stroke-width="2.0"/>
<line x1="456.2" x2="631.8" y1="205.9" y2="205.9" stroke="#174a7f" stroke-width="1.4"/>
<path d="M517.7,219.3 L522.7,219.3 L527.7,219.3 L532.7,219.2 L537.7,219.2 L539.7,219.2 L541.7,219.1 L543.7,219.1 L545.7,219 L546.5,218.9 L547.2,218.9 L548,218.9 L548.7,218.8 L549.5,218.8 L550.2,218.7 L551,218.6 L551.7,218.6 L552.5,218.5 L553.2,218.4 L554,218.3 L554.7,218.2 L555.5,218.1 L556.2,218 L557,217.8 L557.7,217.7 L558.5,217.5 L559.2,217.4 L560,217.2 L560.7,217 L561.5,216.7 L562.2,216.5 L563,216.3 L563.7,216 L564.5,215.8 L565.2,215.5 L566,215.2 L566.7,214.9 L567.5,214.6 L568.2,214.3 L569,214 L569.7,213.7 L570.5,213.3 L571.2,213.1 L572,212.7 L572.7,212.5 L573.5,212.2 L574.2,212 L575,211.8 L575.7,211.6 L576.5,211.4 L577.2,211.3 L578,211.2 L578.7,211.2 L579,211.2 L579.5,211.2 L580.2,211.3 L581,211.3 L581.7,211.5 L582.5,211.6 L583.2,211.8 L584,212 L584.7,212.2 L585.5,212.5 L586.2,212.8 L587,213.1 L587.7,213.4 L588.5,213.7 L589.2,214 L590,214.3 L590.7,214.6 L591.5,214.9 L592.2,215.2 L593,215.5 L593.7,215.8 L594.5,216.1 L595.2,216.3 L596,216.5 L596.7,216.7 L597.5,217 L598.2,217.2 L599,217.3 L599.7,217.5 L600.5,217.7 L601.2,217.8 L602,218 L602.7,218.1 L603.5,218.2 L604.2,218.3 L605,218.4 L605.7,218.5 L606.5,218.6 L607.2,218.6 L608,218.7 L608.7,218.7 L609.5,218.8 L610.2,218.8 L611,218.9 L611.7,218.9 L612.5,219 L613.2,219 L614,219 L614.7,219.1 L616.7,219.1 L618.7,219.2 L620.7,219.2 L622.7,219.2 L624.7,219.2 L629.7,219.3 L634.7,219.3 L636.8,219.3 L636.8,219.3 L517.7,219.3 Z" fill="#cfe0ec" stroke="#0f3d70" stroke-width="1.4" stroke-linejoin="round"/>
<line x1="579" x2="579" y1="218.9" y2="211.7" stroke="#14609f" stroke-width="2.0"/>
<line x1="517.7" x2="636.8" y1="219.3" y2="219.3" stroke="#174a7f" stroke-width="1.4"/>
<path d="M538.2,232.6 L543.2,232.6 L548.2,232.6 L550.2,232.5 L552.2,232.5 L554.2,232.4 L556.2,232.3 L557,232.3 L557.7,232.2 L558.5,232.1 L559.2,232.1 L560,232 L560.7,231.9 L561.5,231.8 L562.2,231.7 L563,231.6 L563.7,231.5 L564.5,231.3 L565.2,231.2 L566,231 L566.7,230.8 L567.5,230.6 L568.2,230.4 L569,230.1 L569.7,229.9 L570.5,229.6 L571.2,229.3 L572,229 L572.7,228.7 L573.5,228.3 L574.2,228 L575,227.6 L575.7,227.2 L576.5,226.8 L577.2,226.5 L578,226.1 L578.7,225.8 L579.5,225.4 L580.2,225.2 L581,224.9 L581.7,224.7 L582.5,224.6 L583.2,224.5 L584,224.4 L584.3,224.4 L584.7,224.4 L585.5,224.5 L586.2,224.6 L587,224.8 L587.7,224.9 L588.5,225.2 L589.2,225.5 L590,225.8 L590.7,226.1 L591.5,226.5 L592.2,226.9 L593,227.3 L593.7,227.6 L594.5,228 L595.2,228.3 L596,228.7 L596.7,229 L597.5,229.4 L598.2,229.6 L599,229.9 L599.7,230.2 L600.5,230.4 L601.2,230.6 L602,230.9 L602.7,231 L603.5,231.2 L604.2,231.4 L605,231.5 L605.7,231.6 L606.5,231.7 L607.2,231.8 L608,231.9 L608.7,232 L609.5,232.1 L610.2,232.2 L611,232.2 L611.7,232.3 L612.5,232.3 L613.2,232.4 L614,232.4 L614.7,232.4 L616.7,232.5 L618.7,232.5 L620.7,232.6 L622.7,232.6 L624.7,232.6 L629.7,232.6 L629.8,232.6 L629.8,232.6 L538.2,232.6 Z" fill="#cfe0ec" stroke="#0f3d70" stroke-width="1.4" stroke-linejoin="round"/>
<line x1="584.3" x2="584.3" y1="232.2" y2="224.9" stroke="#14609f" stroke-width="2.0"/>
<line x1="538.2" x2="629.8" y1="232.6" y2="232.6" stroke="#174a7f" stroke-width="1.4"/>
<path d="M527.1,246 L532.1,246 L537.1,246 L542.1,246 L547.1,246 L552.1,245.9 L554.1,245.9 L556.1,245.8 L558.1,245.7 L558.9,245.7 L559.6,245.6 L560.4,245.6 L561.1,245.5 L561.9,245.5 L562.6,245.4 L563.4,245.3 L564.1,245.3 L564.9,245.2 L565.6,245.1 L566.4,244.9 L567.1,244.8 L567.9,244.7 L568.6,244.6 L569.4,244.4 L570.1,244.2 L570.9,244 L571.6,243.8 L572.4,243.6 L573.1,243.4 L573.9,243.1 L574.6,242.8 L575.4,242.5 L576.1,242.3 L576.9,241.9 L577.6,241.6 L578.4,241.3 L579.1,241 L579.9,240.6 L580.6,240.3 L581.4,239.9 L582.1,239.6 L582.9,239.3 L583.6,239.1 L584.4,238.8 L585.1,238.6 L585.9,238.4 L586.6,238.3 L587.4,238.2 L588.1,238.1 L588.6,238.1 L588.9,238.1 L589.6,238.1 L590.4,238.2 L591.1,238.3 L591.9,238.5 L592.6,238.7 L593.4,238.9 L594.1,239.1 L594.9,239.4 L595.6,239.7 L596.4,240 L597.1,240.3 L597.9,240.6 L598.6,240.9 L599.4,241.2 L600.1,241.5 L600.9,241.8 L601.6,242.1 L602.4,242.4 L603.1,242.7 L603.9,243 L604.6,243.2 L605.4,243.4 L606.1,243.6 L606.9,243.9 L607.6,244 L608.4,244.2 L609.1,244.4 L609.9,244.5 L610.6,244.7 L611.4,244.8 L612.1,244.9 L612.9,245 L613.6,245.1 L614.4,245.2 L615.1,245.3 L615.9,245.4 L616.6,245.4 L617.4,245.5 L618.1,245.5 L618.9,245.6 L619.6,245.6 L620.4,245.7 L621.1,245.7 L621.9,245.8 L622.6,245.8 L624.6,245.8 L626.6,245.9 L628.6,245.9 L630.6,245.9 L632.6,246 L634.6,246 L639.6,246 L644.6,246 L649.6,246 L651.4,246 L651.4,246 L527.1,246 Z" fill="#cfe0ec" stroke="#0f3d70" stroke-width="1.4" stroke-linejoin="round"/>
<line x1="588.6" x2="588.6" y1="245.6" y2="238.6" stroke="#14609f" stroke-width="2.0"/>
<line x1="527.1" x2="651.4" y1="246" y2="246" stroke="#174a7f" stroke-width="1.4"/>
<path d="M459.9,259.4 L464.9,259.4 L469.9,259.4 L474.9,259.4 L479.9,259.4 L484.9,259.4 L489.9,259.4 L494.9,259.4 L499.9,259.4 L504.9,259.3 L509.9,259.3 L511.9,259.3 L513.9,259.3 L515.9,259.2 L517.9,259.2 L519.9,259.1 L521.9,259.1 L522.7,259.1 L523.4,259 L524.2,259 L524.9,259 L525.7,258.9 L526.4,258.9 L527.2,258.9 L527.9,258.8 L528.7,258.8 L529.4,258.8 L530.2,258.7 L530.9,258.7 L531.7,258.6 L532.4,258.5 L533.2,258.5 L533.9,258.4 L534.7,258.3 L535.4,258.3 L536.2,258.2 L536.9,258.1 L537.7,258 L538.4,258 L539.2,257.9 L539.9,257.8 L540.7,257.7 L541.4,257.6 L542.2,257.4 L542.9,257.3 L543.7,257.2 L544.4,257.1 L545.2,256.9 L545.9,256.8 L546.7,256.7 L547.4,256.5 L548.2,256.4 L548.9,256.3 L549.7,256.1 L550.4,256 L551.2,255.8 L551.9,255.7 L552.7,255.5 L553.4,255.4 L554.2,255.3 L554.9,255.1 L555.7,255 L556.4,254.9 L557.2,254.8 L557.9,254.7 L558.7,254.6 L559.4,254.5 L560.2,254.4 L560.9,254.3 L561.7,254.3 L562.4,254.2 L563.2,254.2 L563.9,254.2 L564.4,254.2 L564.7,254.2 L565.4,254.2 L566.2,254.2 L566.9,254.3 L567.7,254.4 L568.4,254.4 L569.2,254.5 L569.9,254.6 L570.7,254.8 L571.4,254.9 L572.2,255 L572.9,255.2 L573.7,255.3 L574.4,255.5 L575.2,255.6 L575.9,255.8 L576.7,256 L577.4,256.1 L578.2,256.3 L578.9,256.4 L579.7,256.6 L580.4,256.7 L581.2,256.9 L581.9,257 L582.7,257.2 L583.4,257.3 L584.2,257.4 L584.9,257.6 L585.7,257.7 L586.4,257.8 L587.2,257.9 L587.9,258 L588.7,258.1 L589.4,258.2 L590.2,258.3 L590.9,258.4 L591.7,258.4 L592.4,258.5 L593.2,258.6 L593.9,258.6 L594.7,258.7 L595.4,258.8 L596.2,258.8 L596.9,258.8 L597.7,258.9 L598.4,258.9 L599.2,259 L599.9,259 L600.7,259 L601.4,259.1 L602.2,259.1 L602.9,259.1 L603.7,259.1 L604.4,259.2 L606.4,259.2 L608.4,259.2 L610.4,259.3 L612.4,259.3 L614.4,259.3 L616.4,259.3 L618.4,259.3 L623.4,259.4 L628.4,259.4 L633.4,259.4 L638.4,259.4 L643.4,259.4 L648.4,259.4 L653.4,259.4 L657.5,259.4 L657.5,259.4 L459.9,259.4 Z" fill="#cfe0ec" stroke="#0f3d70" stroke-width="1.4" stroke-linejoin="round"/>
<line x1="563.2" x2="563.2" y1="259" y2="254.7" stroke="#14609f" stroke-width="2.0"/>
<line x1="459.9" x2="657.5" y1="259.4" y2="259.4" stroke="#174a7f" stroke-width="1.4"/>
<path d="M417.0,24.4 V270.4 H685" fill="none" stroke="#3a3a3a" stroke-width="1.1"/>
<line x1="413.8" x2="417.0" y1="32.1" y2="32.1" stroke="#333" stroke-width="1.3"/>
<line x1="413.8" x2="417.0" y1="45.5" y2="45.5" stroke="#333" stroke-width="1.3"/>
<line x1="413.8" x2="417.0" y1="58.8" y2="58.8" stroke="#333" stroke-width="1.3"/>
<line x1="413.8" x2="417.0" y1="72.2" y2="72.2" stroke="#333" stroke-width="1.3"/>
<line x1="413.8" x2="417.0" y1="85.6" y2="85.6" stroke="#333" stroke-width="1.3"/>
<line x1="413.8" x2="417.0" y1="98.9" y2="98.9" stroke="#333" stroke-width="1.3"/>
<line x1="413.8" x2="417.0" y1="112.3" y2="112.3" stroke="#333" stroke-width="1.3"/>
<line x1="413.8" x2="417.0" y1="125.7" y2="125.7" stroke="#333" stroke-width="1.3"/>
<line x1="413.8" x2="417.0" y1="139.1" y2="139.1" stroke="#333" stroke-width="1.3"/>
<line x1="413.8" x2="417.0" y1="152.4" y2="152.4" stroke="#333" stroke-width="1.3"/>
<line x1="413.8" x2="417.0" y1="165.8" y2="165.8" stroke="#333" stroke-width="1.3"/>
<line x1="413.8" x2="417.0" y1="179.2" y2="179.2" stroke="#333" stroke-width="1.3"/>
<line x1="413.8" x2="417.0" y1="192.5" y2="192.5" stroke="#333" stroke-width="1.3"/>
<line x1="413.8" x2="417.0" y1="205.9" y2="205.9" stroke="#333" stroke-width="1.3"/>
<line x1="413.8" x2="417.0" y1="219.3" y2="219.3" stroke="#333" stroke-width="1.3"/>
<line x1="413.8" x2="417.0" y1="232.6" y2="232.6" stroke="#333" stroke-width="1.3"/>
<line x1="413.8" x2="417.0" y1="246" y2="246" stroke="#333" stroke-width="1.3"/>
<line x1="413.8" x2="417.0" y1="259.4" y2="259.4" stroke="#333" stroke-width="1.3"/>
<line x1="429.1" x2="429.1" y1="270.4" y2="273.7" stroke="#333" stroke-width="1.3"/>
<text x="429.1" y="283.5" font-size="10.3" fill="#4d4d4d" stroke="#4d4d4d" stroke-width="0.2" text-anchor="middle">−0.4</text>
<line x1="507.1" x2="507.1" y1="270.4" y2="273.7" stroke="#333" stroke-width="1.3"/>
<text x="507.1" y="283.5" font-size="10.3" fill="#4d4d4d" stroke="#4d4d4d" stroke-width="0.2" text-anchor="middle">−0.2</text>
<line x1="585.1" x2="585.1" y1="270.4" y2="273.7" stroke="#333" stroke-width="1.3"/>
<text x="585.1" y="283.5" font-size="10.3" fill="#4d4d4d" stroke="#4d4d4d" stroke-width="0.2" text-anchor="middle">0.0</text>
<line x1="663.1" x2="663.1" y1="270.4" y2="273.7" stroke="#333" stroke-width="1.3"/>
<text x="663.1" y="283.5" font-size="10.3" fill="#4d4d4d" stroke="#4d4d4d" stroke-width="0.2" text-anchor="middle">0.2</text>
</g>
<g id="panel3">
<text x="111.9" y="309.7" font-size="15" fill="#000" stroke="#000" stroke-width="0.1">PA (<tspan font-size="13.4">δ</tspan><tspan font-size="10.3" dx="0.3" dy="2.8">i</tspan><tspan font-size="15" dx="0.3" dy="-2.8">)</tspan></text>
<line x1="264.0" x2="264.0" y1="322.4" y2="569.3" stroke="#e4e4e4" stroke-width="1"/>
<path d="M186.3,334 L191.3,334 L196.3,334 L201.3,334 L206.3,333.9 L208.3,333.9 L210.3,333.9 L212.3,333.9 L214.3,333.9 L216.3,333.9 L218.3,333.9 L220.3,333.9 L222.3,333.8 L224.3,333.8 L226.3,333.8 L228.3,333.7 L229,333.7 L229.8,333.7 L230.5,333.7 L231.3,333.7 L232,333.6 L232.8,333.6 L233.5,333.6 L234.3,333.6 L235,333.5 L235.8,333.5 L236.5,333.5 L237.3,333.4 L238,333.4 L238.8,333.3 L239.5,333.3 L240.3,333.2 L241,333.1 L241.8,333.1 L242.5,333 L243.3,332.9 L244,332.8 L244.8,332.7 L245.5,332.6 L246.3,332.4 L247,332.3 L247.8,332.1 L248.5,331.9 L249.3,331.7 L250,331.5 L250.8,331.3 L251.5,331 L252.3,330.7 L253,330.4 L253.8,330.1 L254.5,329.7 L255.3,329.3 L256,328.8 L256.8,328.3 L257.5,327.8 L258.3,327.2 L259,326.7 L259.8,326 L260.5,325.4 L261.3,324.7 L262,324.1 L262.8,323.6 L263.5,323.2 L264.3,322.9 L264.7,322.9 L265,322.9 L265.8,323.1 L266.5,323.4 L267.3,323.8 L268,324.3 L268.8,324.9 L269.5,325.4 L270.3,325.9 L271,326.4 L271.8,327 L272.5,327.4 L273.3,327.9 L274,328.3 L274.8,328.8 L275.5,329.1 L276.3,329.5 L277,329.8 L277.8,330.1 L278.5,330.4 L279.3,330.6 L280,330.9 L280.8,331.1 L281.5,331.3 L282.3,331.5 L283,331.7 L283.8,331.8 L284.5,332 L285.3,332.1 L286,332.3 L286.8,332.4 L287.5,332.5 L288.3,332.6 L289,332.7 L289.8,332.8 L290.5,332.9 L291.3,332.9 L292,333 L292.8,333.1 L293.5,333.1 L294.3,333.2 L295,333.2 L295.8,333.3 L296.5,333.3 L297.3,333.4 L298,333.4 L298.8,333.4 L299.5,333.5 L300.3,333.5 L301,333.5 L301.8,333.6 L302.5,333.6 L303.3,333.6 L304,333.6 L304.8,333.6 L305.5,333.7 L306.3,333.7 L307,333.7 L307.8,333.7 L308.5,333.7 L309.3,333.7 L310,333.8 L312,333.8 L314,333.8 L316,333.8 L318,333.8 L320,333.9 L322,333.9 L324,333.9 L326,333.9 L328,333.9 L330,333.9 L332,333.9 L334,333.9 L336,333.9 L338,333.9 L340,333.9 L342,334 L347,334 L352,334 L357,334 L362,334 L366.3,334 L366.3,334 L186.3,334 Z" fill="#cfe0ec" stroke="#0f3d70" stroke-width="1.4" stroke-linejoin="round"/>
<line x1="265.9" x2="265.9" y1="333.6" y2="323.6" stroke="#14609f" stroke-width="2.0"/>
<line x1="186.3" x2="366.3" y1="334" y2="334" stroke="#174a7f" stroke-width="1.4"/>
<path d="M124.8,347.2 L129.8,347.2 L134.8,347.1 L139.8,347.1 L144.8,347.1 L149.8,347.1 L154.8,347.1 L156.8,347.1 L158.8,347.1 L160.8,347.1 L162.8,347.1 L164.8,347.1 L166.8,347.1 L168.8,347.1 L170.8,347.1 L172.8,347.1 L174.8,347.1 L176.8,347.1 L178.8,347.1 L180.8,347.1 L182.8,347.1 L184.8,347 L186.8,347 L188.8,347 L190.8,347 L192.8,347 L194.8,347 L196.8,347 L198.8,346.9 L200.8,346.9 L201.6,346.9 L202.3,346.9 L203.1,346.9 L203.8,346.9 L204.6,346.9 L205.3,346.8 L206.1,346.8 L206.8,346.8 L207.6,346.8 L208.3,346.8 L209.1,346.8 L209.8,346.8 L210.6,346.7 L211.3,346.7 L212.1,346.7 L212.8,346.7 L213.6,346.7 L214.3,346.6 L215.1,346.6 L215.8,346.6 L216.6,346.6 L217.3,346.5 L218.1,346.5 L218.8,346.5 L219.6,346.5 L220.3,346.4 L221.1,346.4 L221.8,346.4 L222.6,346.3 L223.3,346.3 L224.1,346.2 L224.8,346.2 L225.6,346.2 L226.3,346.1 L227.1,346.1 L227.8,346 L228.6,345.9 L229.3,345.9 L230.1,345.8 L230.8,345.8 L231.6,345.7 L232.3,345.6 L233.1,345.5 L233.8,345.5 L234.6,345.4 L235.3,345.3 L236.1,345.2 L236.8,345.1 L237.6,345 L238.3,344.9 L239.1,344.8 L239.8,344.7 L240.6,344.5 L241.3,344.4 L242.1,344.2 L242.8,344.1 L243.6,343.9 L244.3,343.8 L245.1,343.6 L245.8,343.4 L246.6,343.2 L247.3,343 L248.1,342.8 L248.8,342.6 L249.6,342.4 L250.3,342.1 L251.1,341.9 L251.8,341.6 L252.6,341.3 L253.3,341 L254.1,340.7 L254.8,340.4 L255.6,340.1 L256.3,339.8 L257.1,339.5 L257.8,339.2 L258.6,338.9 L259.3,338.6 L260.1,338.3 L260.8,338.1 L261.6,338 L262.3,337.9 L262.6,337.9 L263.1,338 L263.8,338.3 L264.6,338.8 L265.3,339.5 L266.1,340.3 L266.8,341 L267.6,341.9 L268.3,342.5 L269.1,343.2 L269.8,343.7 L270.6,344.2 L271.3,344.6 L272.1,345 L272.8,345.3 L273.6,345.6 L274.3,345.8 L275.1,346 L275.8,346.2 L276.6,346.3 L277.3,346.4 L278.1,346.5 L278.8,346.6 L279.6,346.7 L280.3,346.8 L281.1,346.8 L281.8,346.9 L282.6,346.9 L283.3,346.9 L284.1,347 L286.1,347 L288.1,347.1 L290.1,347.1 L292.1,347.1 L294.1,347.1 L296.1,347.1 L298.1,347.1 L303.1,347.2 L308.1,347.2 L309.1,347.2 L309.1,347.2 L124.8,347.2 Z" fill="#cfe0ec" stroke="#0f3d70" stroke-width="1.4" stroke-linejoin="round"/>
<line x1="255.4" x2="255.4" y1="346.8" y2="340.7" stroke="#14609f" stroke-width="2.0"/>
<line x1="124.8" x2="309.1" y1="347.2" y2="347.2" stroke="#174a7f" stroke-width="1.4"/>
<path d="M170.7,360.3 L175.7,360.3 L180.7,360.3 L185.7,360.3 L190.7,360.3 L192.7,360.3 L194.7,360.3 L196.7,360.3 L198.7,360.3 L200.7,360.3 L202.7,360.3 L204.7,360.3 L206.7,360.2 L208.7,360.2 L210.7,360.2 L212.7,360.2 L214.7,360.2 L216.7,360.1 L218.7,360.1 L220.7,360.1 L221.4,360.1 L222.2,360 L222.9,360 L223.7,360 L224.4,360 L225.2,360 L225.9,359.9 L226.7,359.9 L227.4,359.9 L228.2,359.9 L228.9,359.8 L229.7,359.8 L230.4,359.8 L231.2,359.7 L231.9,359.7 L232.7,359.6 L233.4,359.6 L234.2,359.5 L234.9,359.5 L235.7,359.4 L236.4,359.3 L237.2,359.2 L237.9,359.2 L238.7,359.1 L239.4,359 L240.2,358.9 L240.9,358.8 L241.7,358.6 L242.4,358.5 L243.2,358.4 L243.9,358.2 L244.7,358 L245.4,357.9 L246.2,357.7 L246.9,357.5 L247.7,357.2 L248.4,357 L249.2,356.7 L249.9,356.4 L250.7,356.1 L251.4,355.8 L252.2,355.4 L252.9,355 L253.7,354.6 L254.4,354.2 L255.2,353.7 L255.9,353.2 L256.7,352.6 L257.4,352.1 L258.2,351.5 L258.9,351 L259.7,350.5 L260.4,350.1 L261.2,349.7 L261.9,349.5 L262.4,349.5 L262.7,349.5 L263.4,349.8 L264.2,350.3 L264.9,350.9 L265.7,351.8 L266.4,352.5 L267.2,353.4 L267.9,354.1 L268.7,354.8 L269.4,355.4 L270.2,356 L270.9,356.5 L271.7,357 L272.4,357.3 L273.2,357.7 L273.9,358 L274.7,358.3 L275.4,358.5 L276.2,358.8 L276.9,358.9 L277.7,359.1 L278.4,359.2 L279.2,359.4 L279.9,359.5 L280.7,359.6 L281.4,359.6 L282.2,359.7 L282.9,359.8 L283.7,359.8 L284.4,359.9 L285.2,359.9 L285.9,360 L286.7,360 L287.4,360 L288.2,360.1 L288.9,360.1 L289.7,360.1 L291.7,360.2 L293.7,360.2 L295.7,360.2 L297.7,360.3 L299.7,360.3 L301.7,360.3 L303.7,360.3 L305.7,360.3 L307.7,360.3 L312.7,360.3 L317.7,360.3 L322.7,360.3 L327.7,360.3 L332.7,360.4 L337.7,360.4 L342.7,360.4 L345.9,360.4 L345.9,360.4 L170.7,360.4 Z" fill="#cfe0ec" stroke="#0f3d70" stroke-width="1.4" stroke-linejoin="round"/>
<line x1="260.3" x2="260.3" y1="360" y2="350.6" stroke="#14609f" stroke-width="2.0"/>
<line x1="170.7" x2="345.9" y1="360.4" y2="360.4" stroke="#174a7f" stroke-width="1.4"/>
<path d="M226,373.5 L231,373.5 L236,373.5 L241,373.5 L246,373.5 L248,373.4 L250,373.4 L252,373.3 L252.8,373.2 L253.5,373.1 L254.2,373 L255,372.9 L255.8,372.8 L256.5,372.6 L257.2,372.4 L258,372.1 L258.8,371.7 L259.5,371.4 L260.2,370.9 L261,370.3 L261.8,369.6 L262.5,368.9 L263.2,368.2 L264,367.4 L264.8,366.7 L265.5,366.2 L266.2,365.9 L266.6,365.9 L267,365.9 L267.8,365.9 L268.5,366 L269.2,366.1 L270,366.2 L270.8,366.3 L271.5,366.5 L272.2,366.6 L273,366.8 L273.8,366.9 L274.5,367.1 L275.2,367.2 L276,367.4 L276.8,367.6 L277.5,367.7 L278.2,367.9 L279,368 L279.8,368.2 L280.5,368.3 L281.2,368.5 L282,368.6 L282.8,368.8 L283.5,368.9 L284.2,369 L285,369.2 L285.8,369.3 L286.5,369.4 L287.2,369.5 L288,369.6 L288.8,369.8 L289.5,369.9 L290.2,370 L291,370.1 L291.8,370.2 L292.5,370.3 L293.2,370.4 L294,370.5 L294.8,370.5 L295.5,370.6 L296.2,370.7 L297,370.8 L297.8,370.9 L298.5,370.9 L299.2,371 L300,371.1 L300.8,371.2 L301.5,371.2 L302.2,371.3 L303,371.4 L303.8,371.4 L304.5,371.5 L305.2,371.5 L306,371.6 L306.8,371.6 L307.5,371.7 L308.2,371.7 L309,371.8 L309.8,371.9 L310.5,371.9 L311.2,371.9 L312,372 L312.8,372 L313.5,372.1 L314.2,372.1 L315,372.1 L315.8,372.2 L316.5,372.2 L317.2,372.3 L318,372.3 L318.8,372.3 L319.5,372.4 L320.2,372.4 L321,372.4 L321.8,372.5 L322.5,372.5 L323.2,372.5 L324,372.5 L324.8,372.6 L325.5,372.6 L326.2,372.6 L327,372.6 L327.8,372.7 L328.5,372.7 L329.2,372.7 L330,372.7 L330.8,372.7 L331.5,372.8 L332.2,372.8 L333,372.8 L333.8,372.8 L334.5,372.8 L335.2,372.9 L336,372.9 L336.8,372.9 L337.5,372.9 L338.2,372.9 L339,372.9 L339.8,373 L340.5,373 L341.2,373 L342,373 L342.8,373 L343.5,373 L344.2,373 L345,373 L345.8,373.1 L346.5,373.1 L347.2,373.1 L348,373.1 L348.8,373.1 L349.5,373.1 L350.2,373.1 L351,373.1 L351.8,373.1 L352.5,373.2 L353.2,373.2 L354,373.2 L354.8,373.2 L355.5,373.2 L356.2,373.2 L357,373.2 L357.8,373.2 L358.5,373.2 L359.2,373.2 L360,373.2 L360.8,373.2 L361.5,373.2 L362.2,373.2 L363,373.3 L363.8,373.3 L364.5,373.3 L365.2,373.3 L366,373.3 L366.8,373.3 L367.5,373.3 L368.2,373.3 L368.9,373.3 L368.9,374 L226,374 Z" fill="#cfe0ec" stroke="none"/>
<line x1="277.8" x2="277.8" y1="373.7" y2="368.3" stroke="#14609f" stroke-width="2.0"/>
<path d="M226,373.5 L231,373.5 L236,373.5 L241,373.5 L246,373.5 L248,373.4 L250,373.4 L252,373.3 L252.8,373.2 L253.5,373.1 L254.2,373 L255,372.9 L255.8,372.8 L256.5,372.6 L257.2,372.4 L258,372.1 L258.8,371.7 L259.5,371.4 L260.2,370.9 L261,370.3 L261.8,369.6 L262.5,368.9 L263.2,368.2 L264,367.4 L264.8,366.7 L265.5,366.2 L266.2,365.9 L266.6,365.9 L267,365.9 L267.8,365.9 L268.5,366 L269.2,366.1 L270,366.2 L270.8,366.3 L271.5,366.5 L272.2,366.6 L273,366.8 L273.8,366.9 L274.5,367.1 L275.2,367.2 L276,367.4 L276.8,367.6 L277.5,367.7 L278.2,367.9 L279,368 L279.8,368.2 L280.5,368.3 L281.2,368.5 L282,368.6 L282.8,368.8 L283.5,368.9 L284.2,369 L285,369.2 L285.8,369.3 L286.5,369.4 L287.2,369.5 L288,369.6 L288.8,369.8 L289.5,369.9 L290.2,370 L291,370.1 L291.8,370.2 L292.5,370.3 L293.2,370.4 L294,370.5 L294.8,370.5 L295.5,370.6 L296.2,370.7 L297,370.8 L297.8,370.9 L298.5,370.9 L299.2,371 L300,371.1 L300.8,371.2 L301.5,371.2 L302.2,371.3 L303,371.4 L303.8,371.4 L304.5,371.5 L305.2,371.5 L306,371.6 L306.8,371.6 L307.5,371.7 L308.2,371.7 L309,371.8 L309.8,371.9 L310.5,371.9 L311.2,371.9 L312,372 L312.8,372 L313.5,372.1 L314.2,372.1 L315,372.1 L315.8,372.2 L316.5,372.2 L317.2,372.3 L318,372.3 L318.8,372.3 L319.5,372.4 L320.2,372.4 L321,372.4 L321.8,372.5 L322.5,372.5 L323.2,372.5 L324,372.5 L324.8,372.6 L325.5,372.6 L326.2,372.6 L327,372.6 L327.8,372.7 L328.5,372.7 L329.2,372.7 L330,372.7 L330.8,372.7 L331.5,372.8 L332.2,372.8 L333,372.8 L333.8,372.8 L334.5,372.8 L335.2,372.9 L336,372.9 L336.8,372.9 L337.5,372.9 L338.2,372.9 L339,372.9 L339.8,373 L340.5,373 L341.2,373 L342,373 L342.8,373 L343.5,373 L344.2,373 L345,373 L345.8,373.1 L346.5,373.1 L347.2,373.1 L348,373.1 L348.8,373.1 L349.5,373.1 L350.2,373.1 L351,373.1 L351.8,373.1 L352.5,373.2 L353.2,373.2 L354,373.2 L354.8,373.2 L355.5,373.2 L356.2,373.2 L357,373.2 L357.8,373.2 L358.5,373.2 L359.2,373.2 L360,373.2 L360.8,373.2 L361.5,373.2 L362.2,373.2 L363,373.3 L363.8,373.3 L364.5,373.3 L365.2,373.3 L366,373.3 L366.8,373.3 L367.5,373.3 L368.2,373.3 L368.9,373.3" fill="none" stroke="#0f3d70" stroke-width="1.4" stroke-linejoin="round"/>
<path d="M196.6,386.7 L198.6,386.6 L200.6,386.6 L202.6,386.6 L204.6,386.6 L206.6,386.6 L208.6,386.6 L210.6,386.6 L212.6,386.6 L214.6,386.5 L216.6,386.5 L218.6,386.5 L220.6,386.5 L221.3,386.4 L222.1,386.4 L222.8,386.4 L223.6,386.4 L224.3,386.4 L225.1,386.4 L225.8,386.3 L226.6,386.3 L227.3,386.3 L228.1,386.3 L228.8,386.2 L229.6,386.2 L230.3,386.2 L231.1,386.1 L231.8,386.1 L232.6,386 L233.3,386 L234.1,385.9 L234.8,385.9 L235.6,385.8 L236.3,385.8 L237.1,385.7 L237.8,385.6 L238.6,385.5 L239.3,385.5 L240.1,385.4 L240.8,385.3 L241.6,385.1 L242.3,385 L243.1,384.9 L243.8,384.8 L244.6,384.6 L245.3,384.4 L246.1,384.2 L246.8,384 L247.6,383.8 L248.3,383.6 L249.1,383.3 L249.8,383.1 L250.6,382.7 L251.3,382.4 L252.1,382.1 L252.8,381.7 L253.6,381.3 L254.3,380.9 L255.1,380.4 L255.8,379.9 L256.6,379.3 L257.4,378.7 L258.1,378.2 L258.9,377.5 L259.6,376.9 L260.4,376.3 L261.1,375.8 L261.9,375.3 L262.6,375 L263.4,374.9 L263.5,374.9 L264.1,375 L264.9,375.3 L265.6,375.7 L266.4,376.3 L267.1,376.9 L267.9,377.6 L268.6,378.2 L269.4,378.9 L270.1,379.4 L270.9,380 L271.6,380.5 L272.4,381.1 L273.1,381.5 L273.9,382 L274.6,382.3 L275.4,382.7 L276.1,383 L276.9,383.4 L277.6,383.6 L278.4,383.9 L279.1,384.1 L279.9,384.3 L280.6,384.5 L281.4,384.7 L282.1,384.9 L282.9,385 L283.6,385.1 L284.4,385.3 L285.1,385.4 L285.9,385.5 L286.6,385.6 L287.4,385.7 L288.1,385.7 L288.9,385.8 L289.6,385.9 L290.4,385.9 L291.1,386 L291.9,386 L292.6,386.1 L293.4,386.1 L294.1,386.2 L294.9,386.2 L295.6,386.2 L296.4,386.3 L297.1,386.3 L297.9,386.3 L298.6,386.4 L299.4,386.4 L300.1,386.4 L300.9,386.4 L301.6,386.4 L302.4,386.4 L303.1,386.5 L303.9,386.5 L305.9,386.5 L307.9,386.5 L309.9,386.6 L311.9,386.6 L313.9,386.6 L315.9,386.6 L317.9,386.6 L319.9,386.6 L321.9,386.6 L323.9,386.6 L325.9,386.7 L327.9,386.7 L329.9,386.7 L331.9,386.7 L334.2,386.7 L334.2,386.7 L196.6,386.7 Z" fill="#cfe0ec" stroke="#0f3d70" stroke-width="1.4" stroke-linejoin="round"/>
<line x1="263.5" x2="263.5" y1="386.3" y2="375.4" stroke="#14609f" stroke-width="2.0"/>
<line x1="196.6" x2="334.2" y1="386.7" y2="386.7" stroke="#174a7f" stroke-width="1.4"/>
<path d="M186.7,399.8 L188.7,399.8 L190.7,399.8 L192.7,399.8 L194.7,399.8 L196.7,399.8 L198.7,399.8 L200.7,399.8 L202.7,399.8 L204.7,399.7 L206.7,399.7 L208.7,399.7 L210.7,399.7 L212.7,399.7 L214.7,399.6 L215.4,399.6 L216.2,399.6 L216.9,399.6 L217.7,399.6 L218.4,399.6 L219.2,399.5 L219.9,399.5 L220.7,399.5 L221.4,399.5 L222.2,399.4 L222.9,399.4 L223.7,399.4 L224.4,399.4 L225.2,399.3 L225.9,399.3 L226.7,399.3 L227.4,399.2 L228.2,399.2 L228.9,399.2 L229.7,399.1 L230.4,399.1 L231.2,399 L231.9,399 L232.7,398.9 L233.4,398.8 L234.2,398.8 L234.9,398.7 L235.7,398.6 L236.4,398.5 L237.2,398.4 L237.9,398.3 L238.7,398.2 L239.4,398.1 L240.2,398 L240.9,397.9 L241.7,397.7 L242.4,397.6 L243.2,397.4 L243.9,397.2 L244.7,397 L245.4,396.8 L246.2,396.6 L246.9,396.4 L247.7,396.1 L248.4,395.9 L249.2,395.6 L249.9,395.3 L250.7,394.9 L251.4,394.6 L252.2,394.2 L252.9,393.8 L253.7,393.3 L254.4,392.9 L255.2,392.4 L255.9,391.9 L256.7,391.4 L257.4,390.8 L258.2,390.3 L258.9,389.7 L259.7,389.2 L260.4,388.7 L261.2,388.3 L261.9,388.1 L262.7,388 L263.4,388.1 L264.2,388.5 L264.9,388.9 L265.7,389.6 L266.4,390.2 L267.2,390.9 L267.9,391.6 L268.7,392.3 L269.4,392.9 L270.2,393.5 L270.9,394 L271.7,394.6 L272.4,395 L273.2,395.5 L273.9,395.8 L274.7,396.2 L275.4,396.5 L276.2,396.8 L276.9,397.1 L277.7,397.4 L278.4,397.6 L279.2,397.8 L279.9,397.9 L280.7,398.1 L281.4,398.3 L282.2,398.4 L282.9,398.5 L283.7,398.6 L284.4,398.7 L285.2,398.8 L285.9,398.9 L286.7,399 L287.4,399.1 L288.2,399.1 L288.9,399.2 L289.7,399.2 L290.4,399.3 L291.2,399.3 L291.9,399.4 L292.7,399.4 L293.4,399.4 L294.2,399.5 L294.9,399.5 L295.7,399.5 L296.4,399.6 L297.2,399.6 L297.9,399.6 L298.7,399.6 L299.4,399.6 L300.2,399.7 L302.2,399.7 L304.2,399.7 L306.2,399.7 L308.2,399.8 L310.2,399.8 L312.2,399.8 L314.2,399.8 L316.2,399.8 L318.2,399.8 L320.2,399.8 L322.2,399.8 L324.2,399.8 L326.2,399.9 L331.2,399.9 L335.9,399.9 L335.9,399.9 L186.7,399.9 Z" fill="#cfe0ec" stroke="#0f3d70" stroke-width="1.4" stroke-linejoin="round"/>
<line x1="262.7" x2="262.7" y1="399.5" y2="388.5" stroke="#14609f" stroke-width="2.0"/>
<line x1="186.7" x2="335.9" y1="399.9" y2="399.9" stroke="#174a7f" stroke-width="1.4"/>
<path d="M187.6,413 L189.6,412.9 L191.6,412.9 L193.6,412.9 L195.6,412.9 L197.6,412.9 L199.6,412.9 L201.6,412.8 L203.6,412.8 L204.3,412.8 L205.1,412.8 L205.8,412.8 L206.6,412.8 L207.3,412.8 L208.1,412.8 L208.8,412.7 L209.6,412.7 L210.3,412.7 L211.1,412.7 L211.8,412.7 L212.6,412.7 L213.3,412.6 L214.1,412.6 L214.8,412.6 L215.6,412.6 L216.3,412.6 L217.1,412.5 L217.8,412.5 L218.6,412.5 L219.3,412.4 L220.1,412.4 L220.8,412.4 L221.6,412.3 L222.3,412.3 L223.1,412.3 L223.8,412.2 L224.6,412.2 L225.3,412.1 L226.1,412.1 L226.8,412 L227.6,412 L228.3,411.9 L229.1,411.9 L229.8,411.8 L230.6,411.7 L231.3,411.7 L232.1,411.6 L232.8,411.5 L233.6,411.4 L234.3,411.3 L235.1,411.2 L235.8,411.1 L236.6,411 L237.3,410.9 L238.1,410.8 L238.8,410.6 L239.6,410.5 L240.3,410.4 L241.1,410.2 L241.8,410 L242.6,409.8 L243.3,409.7 L244.1,409.5 L244.8,409.3 L245.6,409 L246.3,408.8 L247.1,408.5 L247.8,408.3 L248.6,408 L249.3,407.7 L250.1,407.4 L250.8,407.1 L251.6,406.7 L252.3,406.4 L253.1,406 L253.8,405.6 L254.6,405.2 L255.3,404.8 L256.1,404.3 L256.9,403.9 L257.6,403.5 L258.4,403.1 L259.1,402.8 L259.9,402.5 L260.6,402.3 L261.4,402.2 L261.5,402.2 L262.1,402.3 L262.9,402.7 L263.6,403.3 L264.4,404 L265.1,404.8 L265.9,405.7 L266.6,406.4 L267.4,407.2 L268.1,407.9 L268.9,408.5 L269.6,409 L270.4,409.6 L271.1,410 L271.9,410.4 L272.6,410.7 L273.4,411 L274.1,411.3 L274.9,411.5 L275.6,411.7 L276.4,411.8 L277.1,412 L277.9,412.1 L278.6,412.2 L279.4,412.3 L280.1,412.4 L280.9,412.5 L281.6,412.5 L282.4,412.6 L283.1,412.6 L283.9,412.7 L284.6,412.7 L285.4,412.8 L286.1,412.8 L286.9,412.8 L287.6,412.8 L289.6,412.9 L291.6,412.9 L293.6,413 L295.6,413 L297.6,413 L299.6,413 L301.6,413 L303.6,413 L305.6,413 L310.5,413 L310.5,413.1 L187.6,413.1 Z" fill="#cfe0ec" stroke="#0f3d70" stroke-width="1.4" stroke-linejoin="round"/>
<line x1="258.3" x2="258.3" y1="412.7" y2="403.6" stroke="#14609f" stroke-width="2.0"/>
<line x1="187.6" x2="310.5" y1="413.1" y2="413.1" stroke="#174a7f" stroke-width="1.4"/>
<path d="M177.8,426.2 L179.8,426.2 L181.8,426.2 L183.8,426.2 L185.8,426.2 L187.8,426.2 L189.8,426.2 L191.8,426.2 L193.8,426.1 L195.8,426.1 L197.8,426.1 L199.8,426.1 L201.8,426.1 L203.8,426.1 L205.8,426.1 L207.8,426 L209.8,426 L211.8,426 L212.5,426 L213.3,426 L214,426 L214.8,425.9 L215.5,425.9 L216.3,425.9 L217,425.9 L217.8,425.9 L218.5,425.9 L219.3,425.8 L220,425.8 L220.8,425.8 L221.5,425.8 L222.3,425.7 L223,425.7 L223.8,425.7 L224.5,425.7 L225.3,425.6 L226,425.6 L226.8,425.6 L227.5,425.5 L228.3,425.5 L229,425.4 L229.8,425.4 L230.5,425.3 L231.3,425.3 L232,425.2 L232.8,425.2 L233.5,425.1 L234.3,425 L235,425 L235.8,424.9 L236.5,424.8 L237.3,424.7 L238,424.6 L238.8,424.5 L239.5,424.4 L240.3,424.3 L241,424.1 L241.8,424 L242.5,423.8 L243.3,423.7 L244,423.5 L244.8,423.3 L245.5,423.1 L246.3,422.9 L247,422.7 L247.8,422.5 L248.5,422.2 L249.3,422 L250,421.7 L250.8,421.4 L251.5,421.1 L252.3,420.7 L253,420.3 L253.8,419.9 L254.5,419.5 L255.3,419.1 L256,418.7 L256.8,418.2 L257.5,417.7 L258.3,417.2 L259,416.7 L259.8,416.2 L260.5,415.8 L261.3,415.4 L262,415.1 L262.8,414.9 L263.2,414.9 L263.5,414.9 L264.3,415.1 L265,415.3 L265.8,415.7 L266.5,416.1 L267.3,416.6 L268,417.1 L268.8,417.6 L269.5,418 L270.3,418.5 L271,418.9 L271.8,419.4 L272.5,419.8 L273.3,420.2 L274,420.5 L274.8,420.9 L275.5,421.2 L276.3,421.5 L277,421.8 L277.8,422.1 L278.5,422.3 L279.3,422.6 L280,422.8 L280.8,423 L281.5,423.2 L282.3,423.4 L283,423.6 L283.8,423.7 L284.5,423.9 L285.3,424 L286,424.2 L286.8,424.3 L287.5,424.4 L288.3,424.5 L289,424.6 L289.8,424.7 L290.5,424.8 L291.3,424.9 L292,425 L292.8,425 L293.5,425.1 L294.3,425.2 L295,425.2 L295.8,425.3 L296.5,425.3 L297.3,425.4 L298,425.4 L298.8,425.5 L299.5,425.5 L300.3,425.6 L301,425.6 L301.8,425.6 L302.5,425.7 L303.3,425.7 L304,425.7 L304.8,425.7 L305.5,425.8 L306.3,425.8 L307,425.8 L307.8,425.8 L308.5,425.8 L309.3,425.9 L310,425.9 L310.8,425.9 L311.5,425.9 L312.3,425.9 L313,425.9 L313.8,426 L314.5,426 L315.3,426 L316,426 L316.8,426 L317.5,426 L319.5,426 L321.5,426.1 L323.5,426.1 L325.5,426.1 L327.5,426.1 L329.5,426.1 L331.5,426.1 L333.5,426.1 L335.5,426.2 L337.5,426.2 L339.5,426.2 L341.5,426.2 L343.5,426.2 L345.5,426.2 L347.5,426.2 L349.5,426.2 L351.5,426.2 L353.5,426.2 L355.5,426.2 L360.5,426.2 L365.5,426.2 L368.9,426.2 L368.9,426.8 L177.8,426.8 Z" fill="#cfe0ec" stroke="none"/>
<line x1="263.5" x2="263.5" y1="426.5" y2="415.4" stroke="#14609f" stroke-width="2.0"/>
<path d="M177.8,426.2 L179.8,426.2 L181.8,426.2 L183.8,426.2 L185.8,426.2 L187.8,426.2 L189.8,426.2 L191.8,426.2 L193.8,426.1 L195.8,426.1 L197.8,426.1 L199.8,426.1 L201.8,426.1 L203.8,426.1 L205.8,426.1 L207.8,426 L209.8,426 L211.8,426 L212.5,426 L213.3,426 L214,426 L214.8,425.9 L215.5,425.9 L216.3,425.9 L217,425.9 L217.8,425.9 L218.5,425.9 L219.3,425.8 L220,425.8 L220.8,425.8 L221.5,425.8 L222.3,425.7 L223,425.7 L223.8,425.7 L224.5,425.7 L225.3,425.6 L226,425.6 L226.8,425.6 L227.5,425.5 L228.3,425.5 L229,425.4 L229.8,425.4 L230.5,425.3 L231.3,425.3 L232,425.2 L232.8,425.2 L233.5,425.1 L234.3,425 L235,425 L235.8,424.9 L236.5,424.8 L237.3,424.7 L238,424.6 L238.8,424.5 L239.5,424.4 L240.3,424.3 L241,424.1 L241.8,424 L242.5,423.8 L243.3,423.7 L244,423.5 L244.8,423.3 L245.5,423.1 L246.3,422.9 L247,422.7 L247.8,422.5 L248.5,422.2 L249.3,422 L250,421.7 L250.8,421.4 L251.5,421.1 L252.3,420.7 L253,420.3 L253.8,419.9 L254.5,419.5 L255.3,419.1 L256,418.7 L256.8,418.2 L257.5,417.7 L258.3,417.2 L259,416.7 L259.8,416.2 L260.5,415.8 L261.3,415.4 L262,415.1 L262.8,414.9 L263.2,414.9 L263.5,414.9 L264.3,415.1 L265,415.3 L265.8,415.7 L266.5,416.1 L267.3,416.6 L268,417.1 L268.8,417.6 L269.5,418 L270.3,418.5 L271,418.9 L271.8,419.4 L272.5,419.8 L273.3,420.2 L274,420.5 L274.8,420.9 L275.5,421.2 L276.3,421.5 L277,421.8 L277.8,422.1 L278.5,422.3 L279.3,422.6 L280,422.8 L280.8,423 L281.5,423.2 L282.3,423.4 L283,423.6 L283.8,423.7 L284.5,423.9 L285.3,424 L286,424.2 L286.8,424.3 L287.5,424.4 L288.3,424.5 L289,424.6 L289.8,424.7 L290.5,424.8 L291.3,424.9 L292,425 L292.8,425 L293.5,425.1 L294.3,425.2 L295,425.2 L295.8,425.3 L296.5,425.3 L297.3,425.4 L298,425.4 L298.8,425.5 L299.5,425.5 L300.3,425.6 L301,425.6 L301.8,425.6 L302.5,425.7 L303.3,425.7 L304,425.7 L304.8,425.7 L305.5,425.8 L306.3,425.8 L307,425.8 L307.8,425.8 L308.5,425.8 L309.3,425.9 L310,425.9 L310.8,425.9 L311.5,425.9 L312.3,425.9 L313,425.9 L313.8,426 L314.5,426 L315.3,426 L316,426 L316.8,426 L317.5,426 L319.5,426 L321.5,426.1 L323.5,426.1 L325.5,426.1 L327.5,426.1 L329.5,426.1 L331.5,426.1 L333.5,426.1 L335.5,426.2 L337.5,426.2 L339.5,426.2 L341.5,426.2 L343.5,426.2 L345.5,426.2 L347.5,426.2 L349.5,426.2 L351.5,426.2 L353.5,426.2 L355.5,426.2 L360.5,426.2 L365.5,426.2 L368.9,426.2" fill="none" stroke="#0f3d70" stroke-width="1.4" stroke-linejoin="round"/>
<path d="M197,439.3 L199,439.3 L201,439.3 L203,439.3 L205,439.3 L207,439.3 L209,439.2 L211,439.2 L213,439.2 L215,439.2 L215.8,439.2 L216.5,439.1 L217.2,439.1 L218,439.1 L218.8,439.1 L219.5,439.1 L220.2,439.1 L221,439 L221.8,439 L222.5,439 L223.2,439 L224,439 L224.8,438.9 L225.5,438.9 L226.2,438.9 L227,438.8 L227.8,438.8 L228.5,438.8 L229.2,438.7 L230,438.7 L230.8,438.6 L231.5,438.6 L232.2,438.5 L233,438.5 L233.8,438.4 L234.5,438.3 L235.2,438.3 L236,438.2 L236.8,438.1 L237.5,438 L238.2,437.9 L239,437.8 L239.8,437.7 L240.5,437.6 L241.2,437.5 L242,437.3 L242.8,437.2 L243.5,437 L244.2,436.9 L245,436.7 L245.8,436.5 L246.5,436.3 L247.2,436 L248,435.8 L248.8,435.5 L249.5,435.2 L250.2,435 L251,434.6 L251.8,434.2 L252.5,433.9 L253.2,433.5 L254,433.1 L254.8,432.6 L255.5,432.2 L256.2,431.7 L257,431.1 L257.8,430.6 L258.5,430.1 L259.2,429.6 L260,429 L260.8,428.5 L261.5,428.1 L262.2,427.9 L263,427.7 L263.2,427.7 L263.8,427.8 L264.5,428 L265.2,428.5 L266,429.1 L266.8,429.8 L267.5,430.4 L268.2,431.1 L269,431.8 L269.8,432.4 L270.5,433 L271.2,433.5 L272,434.1 L272.8,434.6 L273.5,435 L274.2,435.3 L275,435.7 L275.8,436.1 L276.5,436.3 L277.2,436.6 L278,436.9 L278.8,437.1 L279.5,437.3 L280.2,437.5 L281,437.6 L281.8,437.8 L282.5,437.9 L283.2,438.1 L284,438.2 L284.8,438.3 L285.5,438.4 L286.2,438.5 L287,438.5 L287.8,438.6 L288.5,438.7 L289.2,438.7 L290,438.8 L290.8,438.8 L291.5,438.9 L292.2,438.9 L293,439 L293.8,439 L294.5,439 L295.2,439 L296,439.1 L296.8,439.1 L297.5,439.1 L298.2,439.1 L299,439.2 L299.8,439.2 L300.5,439.2 L301.2,439.2 L303.2,439.2 L305.2,439.3 L307.2,439.3 L309.2,439.3 L311.2,439.3 L313.2,439.3 L315.2,439.3 L317.2,439.4 L319.2,439.4 L321.2,439.4 L322.2,439.4 L322.2,439.4 L197,439.4 Z" fill="#cfe0ec" stroke="#0f3d70" stroke-width="1.4" stroke-linejoin="round"/>
<line x1="263.2" x2="263.2" y1="439" y2="428.2" stroke="#14609f" stroke-width="2.0"/>
<line x1="197" x2="322.2" y1="439.4" y2="439.4" stroke="#174a7f" stroke-width="1.4"/>
<path d="M198.3,452.6 L203.3,452.6 L205.3,452.6 L207.3,452.6 L209.3,452.5 L211.3,452.5 L213.3,452.5 L215.3,452.5 L217.3,452.5 L219.3,452.5 L221.3,452.5 L223.3,452.5 L225.3,452.4 L227.3,452.4 L229.3,452.4 L230,452.3 L230.8,452.3 L231.5,452.3 L232.3,452.3 L233,452.3 L233.8,452.2 L234.5,452.2 L235.3,452.2 L236,452.1 L236.8,452.1 L237.5,452.1 L238.3,452 L239,452 L239.8,451.9 L240.5,451.9 L241.3,451.8 L242,451.7 L242.8,451.7 L243.5,451.6 L244.3,451.5 L245,451.4 L245.8,451.3 L246.5,451.2 L247.3,451.1 L248,450.9 L248.8,450.8 L249.5,450.6 L250.3,450.4 L251,450.2 L251.8,450 L252.5,449.7 L253.3,449.5 L254,449.2 L254.8,448.8 L255.5,448.5 L256.3,448.1 L257,447.7 L257.8,447.2 L258.5,446.8 L259.3,446.2 L260,445.7 L260.8,445.1 L261.5,444.5 L262.3,443.8 L263,443.3 L263.8,442.7 L264.5,442.2 L265.3,441.9 L266,441.7 L266.2,441.7 L266.8,441.7 L267.5,441.9 L268.3,442.2 L269,442.5 L269.8,442.9 L270.5,443.3 L271.3,443.8 L272,444.2 L272.8,444.7 L273.5,445.1 L274.3,445.5 L275,445.9 L275.8,446.3 L276.5,446.6 L277.3,447 L278,447.3 L278.8,447.6 L279.5,447.9 L280.3,448.2 L281,448.4 L281.8,448.7 L282.5,448.9 L283.3,449.1 L284,449.3 L284.8,449.5 L285.5,449.7 L286.3,449.8 L287,450 L287.8,450.1 L288.5,450.3 L289.3,450.4 L290,450.5 L290.8,450.6 L291.5,450.7 L292.3,450.9 L293,450.9 L293.8,451 L294.5,451.1 L295.3,451.2 L296,451.3 L296.8,451.4 L297.5,451.4 L298.3,451.5 L299,451.5 L299.8,451.6 L300.5,451.6 L301.3,451.7 L302,451.7 L302.8,451.8 L303.5,451.8 L304.3,451.9 L305,451.9 L305.8,451.9 L306.5,452 L307.3,452 L308,452 L308.8,452.1 L309.5,452.1 L310.3,452.1 L311,452.1 L311.8,452.2 L312.5,452.2 L313.3,452.2 L314,452.2 L314.8,452.2 L315.5,452.2 L316.3,452.3 L317,452.3 L317.8,452.3 L318.5,452.3 L319.3,452.3 L320,452.3 L320.8,452.3 L321.5,452.4 L322.3,452.4 L323,452.4 L325,452.4 L327,452.4 L329,452.4 L331,452.4 L333,452.5 L335,452.5 L337,452.5 L339,452.5 L341,452.5 L343,452.5 L345,452.5 L347,452.5 L349,452.5 L351,452.5 L353,452.5 L355,452.6 L355.5,452.6 L355.5,452.6 L198.3,452.6 Z" fill="#cfe0ec" stroke="#0f3d70" stroke-width="1.4" stroke-linejoin="round"/>
<line x1="269.1" x2="269.1" y1="452.2" y2="443.1" stroke="#14609f" stroke-width="2.0"/>
<line x1="198.3" x2="355.5" y1="452.6" y2="452.6" stroke="#174a7f" stroke-width="1.4"/>
<path d="M198.8,465.7 L200.8,465.7 L202.8,465.7 L204.8,465.7 L206.8,465.7 L208.8,465.7 L210.8,465.7 L212.8,465.6 L214.8,465.6 L216.8,465.6 L218.8,465.6 L220.8,465.5 L221.5,465.5 L222.3,465.5 L223,465.5 L223.8,465.5 L224.5,465.5 L225.3,465.4 L226,465.4 L226.8,465.4 L227.5,465.4 L228.3,465.4 L229,465.3 L229.8,465.3 L230.5,465.3 L231.3,465.2 L232,465.2 L232.8,465.2 L233.5,465.1 L234.3,465.1 L235,465 L235.8,465 L236.5,464.9 L237.3,464.9 L238,464.8 L238.8,464.7 L239.5,464.7 L240.3,464.6 L241,464.5 L241.8,464.4 L242.5,464.3 L243.3,464.1 L244,464 L244.8,463.9 L245.5,463.8 L246.3,463.6 L247,463.4 L247.8,463.2 L248.5,463 L249.3,462.8 L250,462.6 L250.8,462.3 L251.5,462 L252.3,461.7 L253,461.4 L253.8,461 L254.5,460.7 L255.3,460.3 L256,459.9 L256.8,459.4 L257.5,458.9 L258.3,458.3 L259,457.8 L259.8,457.2 L260.5,456.7 L261.3,456.1 L262,455.6 L262.8,455 L263.5,454.7 L264.3,454.4 L265,454.3 L265.8,454.4 L266.5,454.6 L267.3,454.9 L268,455.3 L268.8,455.8 L269.5,456.2 L270.3,456.8 L271,457.2 L271.8,457.7 L272.5,458.1 L273.3,458.6 L274,459 L274.8,459.4 L275.5,459.8 L276.3,460.2 L277,460.5 L277.8,460.8 L278.5,461.1 L279.3,461.4 L280,461.6 L280.8,461.9 L281.5,462.1 L282.3,462.3 L283,462.5 L283.8,462.7 L284.5,462.9 L285.3,463.1 L286,463.2 L286.8,463.4 L287.5,463.5 L288.3,463.7 L289,463.8 L289.8,463.9 L290.5,464 L291.3,464.1 L292,464.2 L292.8,464.3 L293.5,464.4 L294.3,464.5 L295,464.5 L295.8,464.6 L296.5,464.7 L297.3,464.7 L298,464.8 L298.8,464.8 L299.5,464.9 L300.3,464.9 L301,465 L301.8,465 L302.5,465.1 L303.3,465.1 L304,465.1 L304.8,465.2 L305.5,465.2 L306.3,465.2 L307,465.3 L307.8,465.3 L308.5,465.3 L309.3,465.3 L310,465.3 L310.8,465.4 L311.5,465.4 L312.3,465.4 L313,465.4 L313.8,465.4 L314.5,465.5 L315.3,465.5 L316,465.5 L316.8,465.5 L317.5,465.5 L318.3,465.5 L319,465.5 L319.8,465.5 L320.5,465.6 L322.5,465.6 L324.5,465.6 L326.5,465.6 L328.5,465.6 L330.5,465.6 L332.5,465.7 L334.5,465.7 L336.5,465.7 L338.5,465.7 L340.5,465.7 L342.5,465.7 L344.5,465.7 L346.5,465.7 L348.5,465.7 L350.5,465.7 L352.5,465.7 L354.5,465.7 L356.5,465.7 L358.1,465.7 L358.1,465.8 L198.8,465.8 Z" fill="#cfe0ec" stroke="#0f3d70" stroke-width="1.4" stroke-linejoin="round"/>
<line x1="265.6" x2="265.6" y1="465.4" y2="454.8" stroke="#14609f" stroke-width="2.0"/>
<line x1="198.8" x2="358.1" y1="465.8" y2="465.8" stroke="#174a7f" stroke-width="1.4"/>
<path d="M188.1,478.9 L190.1,478.9 L192.1,478.9 L194.1,478.9 L196.1,478.9 L198.1,478.9 L200.1,478.9 L202.1,478.8 L204.1,478.8 L206.1,478.8 L208.1,478.8 L210.1,478.8 L212.1,478.7 L214.1,478.7 L214.8,478.7 L215.6,478.7 L216.3,478.7 L217.1,478.7 L217.8,478.7 L218.6,478.6 L219.3,478.6 L220.1,478.6 L220.8,478.6 L221.6,478.6 L222.3,478.5 L223.1,478.5 L223.8,478.5 L224.6,478.5 L225.3,478.4 L226.1,478.4 L226.8,478.4 L227.6,478.4 L228.3,478.3 L229.1,478.3 L229.8,478.2 L230.6,478.2 L231.3,478.2 L232.1,478.1 L232.8,478.1 L233.6,478 L234.3,477.9 L235.1,477.9 L235.8,477.8 L236.6,477.7 L237.3,477.7 L238.1,477.6 L238.8,477.5 L239.6,477.4 L240.3,477.3 L241.1,477.2 L241.8,477.1 L242.6,476.9 L243.3,476.8 L244.1,476.7 L244.8,476.5 L245.6,476.3 L246.3,476.2 L247.1,476 L247.8,475.8 L248.6,475.5 L249.3,475.3 L250.1,475.1 L250.8,474.8 L251.6,474.5 L252.3,474.2 L253.1,473.9 L253.8,473.5 L254.6,473.2 L255.3,472.8 L256.1,472.3 L256.9,471.9 L257.6,471.4 L258.4,470.9 L259.1,470.4 L259.9,469.9 L260.6,469.4 L261.4,468.8 L262.1,468.4 L262.9,467.9 L263.6,467.5 L264.4,467.2 L265.1,467.1 L265.3,467.1 L265.9,467.1 L266.6,467.3 L267.4,467.6 L268.1,467.9 L268.9,468.4 L269.6,468.8 L270.4,469.2 L271.1,469.7 L271.9,470.1 L272.6,470.6 L273.4,471 L274.1,471.4 L274.9,471.8 L275.6,472.2 L276.4,472.5 L277.1,472.9 L277.9,473.2 L278.6,473.5 L279.4,473.8 L280.1,474.1 L280.9,474.3 L281.6,474.6 L282.4,474.8 L283.1,475 L283.9,475.2 L284.6,475.4 L285.4,475.6 L286.1,475.8 L286.9,476 L287.6,476.1 L288.4,476.3 L289.1,476.4 L289.9,476.5 L290.6,476.7 L291.4,476.8 L292.1,476.9 L292.9,477 L293.6,477.1 L294.4,477.2 L295.1,477.3 L295.9,477.4 L296.6,477.4 L297.4,477.5 L298.1,477.6 L298.9,477.7 L299.6,477.7 L300.4,477.8 L301.1,477.8 L301.9,477.9 L302.6,477.9 L303.4,478 L304.1,478 L304.9,478.1 L305.6,478.1 L306.4,478.2 L307.1,478.2 L307.9,478.2 L308.6,478.3 L309.4,478.3 L310.1,478.3 L310.9,478.4 L311.6,478.4 L312.4,478.4 L313.1,478.4 L313.9,478.5 L314.6,478.5 L315.4,478.5 L316.1,478.5 L316.9,478.5 L317.6,478.6 L318.4,478.6 L319.1,478.6 L319.9,478.6 L320.6,478.6 L321.4,478.6 L322.1,478.6 L322.9,478.7 L323.6,478.7 L324.4,478.7 L325.1,478.7 L325.9,478.7 L326.6,478.7 L327.4,478.7 L328.1,478.7 L328.9,478.7 L330.9,478.8 L332.9,478.8 L334.9,478.8 L336.9,478.8 L338.9,478.8 L340.9,478.8 L342.9,478.8 L344.9,478.9 L346.9,478.9 L348.9,478.9 L350.9,478.9 L352.9,478.9 L354.9,478.9 L356.9,478.9 L358.9,478.9 L360.9,478.9 L362.9,478.9 L364.9,478.9 L366.9,478.9 L368.9,478.9 L368.9,479.5 L188.1,479.5 Z" fill="#cfe0ec" stroke="none"/>
<line x1="265.3" x2="265.3" y1="479.2" y2="467.6" stroke="#14609f" stroke-width="2.0"/>
<path d="M188.1,478.9 L190.1,478.9 L192.1,478.9 L194.1,478.9 L196.1,478.9 L198.1,478.9 L200.1,478.9 L202.1,478.8 L204.1,478.8 L206.1,478.8 L208.1,478.8 L210.1,478.8 L212.1,478.7 L214.1,478.7 L214.8,478.7 L215.6,478.7 L216.3,478.7 L217.1,478.7 L217.8,478.7 L218.6,478.6 L219.3,478.6 L220.1,478.6 L220.8,478.6 L221.6,478.6 L222.3,478.5 L223.1,478.5 L223.8,478.5 L224.6,478.5 L225.3,478.4 L226.1,478.4 L226.8,478.4 L227.6,478.4 L228.3,478.3 L229.1,478.3 L229.8,478.2 L230.6,478.2 L231.3,478.2 L232.1,478.1 L232.8,478.1 L233.6,478 L234.3,477.9 L235.1,477.9 L235.8,477.8 L236.6,477.7 L237.3,477.7 L238.1,477.6 L238.8,477.5 L239.6,477.4 L240.3,477.3 L241.1,477.2 L241.8,477.1 L242.6,476.9 L243.3,476.8 L244.1,476.7 L244.8,476.5 L245.6,476.3 L246.3,476.2 L247.1,476 L247.8,475.8 L248.6,475.5 L249.3,475.3 L250.1,475.1 L250.8,474.8 L251.6,474.5 L252.3,474.2 L253.1,473.9 L253.8,473.5 L254.6,473.2 L255.3,472.8 L256.1,472.3 L256.9,471.9 L257.6,471.4 L258.4,470.9 L259.1,470.4 L259.9,469.9 L260.6,469.4 L261.4,468.8 L262.1,468.4 L262.9,467.9 L263.6,467.5 L264.4,467.2 L265.1,467.1 L265.3,467.1 L265.9,467.1 L266.6,467.3 L267.4,467.6 L268.1,467.9 L268.9,468.4 L269.6,468.8 L270.4,469.2 L271.1,469.7 L271.9,470.1 L272.6,470.6 L273.4,471 L274.1,471.4 L274.9,471.8 L275.6,472.2 L276.4,472.5 L277.1,472.9 L277.9,473.2 L278.6,473.5 L279.4,473.8 L280.1,474.1 L280.9,474.3 L281.6,474.6 L282.4,474.8 L283.1,475 L283.9,475.2 L284.6,475.4 L285.4,475.6 L286.1,475.8 L286.9,476 L287.6,476.1 L288.4,476.3 L289.1,476.4 L289.9,476.5 L290.6,476.7 L291.4,476.8 L292.1,476.9 L292.9,477 L293.6,477.1 L294.4,477.2 L295.1,477.3 L295.9,477.4 L296.6,477.4 L297.4,477.5 L298.1,477.6 L298.9,477.7 L299.6,477.7 L300.4,477.8 L301.1,477.8 L301.9,477.9 L302.6,477.9 L303.4,478 L304.1,478 L304.9,478.1 L305.6,478.1 L306.4,478.2 L307.1,478.2 L307.9,478.2 L308.6,478.3 L309.4,478.3 L310.1,478.3 L310.9,478.4 L311.6,478.4 L312.4,478.4 L313.1,478.4 L313.9,478.5 L314.6,478.5 L315.4,478.5 L316.1,478.5 L316.9,478.5 L317.6,478.6 L318.4,478.6 L319.1,478.6 L319.9,478.6 L320.6,478.6 L321.4,478.6 L322.1,478.6 L322.9,478.7 L323.6,478.7 L324.4,478.7 L325.1,478.7 L325.9,478.7 L326.6,478.7 L327.4,478.7 L328.1,478.7 L328.9,478.7 L330.9,478.8 L332.9,478.8 L334.9,478.8 L336.9,478.8 L338.9,478.8 L340.9,478.8 L342.9,478.8 L344.9,478.9 L346.9,478.9 L348.9,478.9 L350.9,478.9 L352.9,478.9 L354.9,478.9 L356.9,478.9 L358.9,478.9 L360.9,478.9 L362.9,478.9 L364.9,478.9 L366.9,478.9 L368.9,478.9" fill="none" stroke="#0f3d70" stroke-width="1.4" stroke-linejoin="round"/>
<path d="M193.9,492.1 L195.9,492.1 L197.9,492.1 L199.9,492.1 L201.9,492 L203.9,492 L205.9,492 L207.9,492 L209.9,492 L211.9,492 L213.9,491.9 L215.9,491.9 L217.9,491.9 L218.7,491.9 L219.4,491.9 L220.2,491.8 L220.9,491.8 L221.7,491.8 L222.4,491.8 L223.2,491.8 L223.9,491.7 L224.7,491.7 L225.4,491.7 L226.2,491.7 L226.9,491.6 L227.7,491.6 L228.4,491.6 L229.2,491.5 L229.9,491.5 L230.7,491.5 L231.4,491.4 L232.2,491.4 L232.9,491.3 L233.7,491.3 L234.4,491.2 L235.2,491.2 L235.9,491.1 L236.7,491 L237.4,490.9 L238.2,490.8 L238.9,490.8 L239.7,490.7 L240.4,490.6 L241.2,490.4 L241.9,490.3 L242.7,490.2 L243.4,490 L244.2,489.9 L244.9,489.7 L245.7,489.5 L246.4,489.3 L247.2,489.1 L247.9,488.9 L248.7,488.6 L249.4,488.4 L250.2,488.1 L250.9,487.8 L251.7,487.5 L252.4,487.1 L253.2,486.7 L253.9,486.4 L254.7,485.9 L255.4,485.5 L256.1,485 L256.9,484.5 L257.6,484 L258.4,483.4 L259.1,482.9 L259.9,482.3 L260.6,481.8 L261.4,481.3 L262.1,480.9 L262.9,480.7 L263.6,480.6 L264.4,480.7 L265.1,480.9 L265.9,481.4 L266.6,481.8 L267.4,482.4 L268.1,482.9 L268.9,483.5 L269.6,484 L270.4,484.6 L271.1,485 L271.9,485.5 L272.6,486 L273.4,486.4 L274.1,486.8 L274.9,487.2 L275.6,487.5 L276.4,487.9 L277.1,488.1 L277.9,488.4 L278.6,488.7 L279.4,488.9 L280.1,489.2 L280.9,489.4 L281.6,489.6 L282.4,489.7 L283.1,489.9 L283.9,490.1 L284.6,490.2 L285.4,490.3 L286.1,490.5 L286.9,490.6 L287.6,490.7 L288.4,490.8 L289.1,490.9 L289.9,490.9 L290.6,491 L291.4,491.1 L292.1,491.2 L292.9,491.2 L293.6,491.3 L294.4,491.3 L295.1,491.4 L295.9,491.4 L296.6,491.5 L297.4,491.5 L298.1,491.6 L298.9,491.6 L299.6,491.6 L300.4,491.7 L301.1,491.7 L301.9,491.7 L302.6,491.7 L303.4,491.8 L304.1,491.8 L304.9,491.8 L305.6,491.8 L306.4,491.8 L307.1,491.8 L307.9,491.9 L308.6,491.9 L309.4,491.9 L310.1,491.9 L310.9,491.9 L312.9,491.9 L314.9,492 L316.9,492 L318.9,492 L320.9,492 L322.9,492 L324.9,492 L326.9,492.1 L328.9,492.1 L330.9,492.1 L332.9,492.1 L334.9,492.1 L336.9,492.1 L338.9,492.1 L340.9,492.1 L342.9,492.1 L344.9,492.1 L349.4,492.1 L349.4,492.2 L193.9,492.2 Z" fill="#cfe0ec" stroke="#0f3d70" stroke-width="1.4" stroke-linejoin="round"/>
<line x1="263.6" x2="263.6" y1="491.8" y2="481.1" stroke="#14609f" stroke-width="2.0"/>
<line x1="193.9" x2="349.4" y1="492.2" y2="492.2" stroke="#174a7f" stroke-width="1.4"/>
<path d="M139.7,505.3 L144.7,505.3 L149.7,505.3 L154.7,505.3 L159.7,505.3 L164.7,505.3 L169.7,505.3 L174.7,505.3 L176.7,505.3 L178.7,505.3 L180.7,505.3 L182.7,505.3 L184.7,505.3 L186.7,505.2 L188.7,505.2 L190.7,505.2 L192.7,505.2 L194.7,505.2 L196.7,505.2 L198.7,505.2 L200.7,505.2 L202.7,505.2 L204.7,505.1 L206.7,505.1 L208.7,505.1 L210.7,505.1 L211.4,505.1 L212.2,505 L212.9,505 L213.7,505 L214.4,505 L215.2,505 L215.9,505 L216.7,504.9 L217.4,504.9 L218.2,504.9 L218.9,504.9 L219.7,504.9 L220.4,504.8 L221.2,504.8 L221.9,504.8 L222.7,504.8 L223.4,504.7 L224.2,504.7 L224.9,504.7 L225.7,504.6 L226.4,504.6 L227.2,504.6 L227.9,504.5 L228.7,504.5 L229.4,504.4 L230.2,504.4 L230.9,504.3 L231.7,504.2 L232.4,504.2 L233.2,504.1 L233.9,504 L234.7,504 L235.4,503.9 L236.2,503.8 L236.9,503.7 L237.7,503.6 L238.4,503.5 L239.2,503.4 L239.9,503.3 L240.7,503.1 L241.4,503 L242.2,502.9 L242.9,502.7 L243.7,502.5 L244.4,502.4 L245.2,502.2 L245.9,502 L246.7,501.8 L247.4,501.6 L248.2,501.3 L248.9,501.1 L249.7,500.8 L250.4,500.5 L251.2,500.2 L251.9,499.9 L252.7,499.5 L253.4,499.2 L254.2,498.8 L254.9,498.4 L255.7,497.9 L256.4,497.5 L257.2,497.1 L257.9,496.7 L258.7,496.2 L259.4,495.8 L260.2,495.4 L260.9,495.2 L261.7,495 L262.4,494.9 L263.2,495 L263.9,495.2 L264.7,495.5 L265.4,495.9 L266.2,496.4 L266.9,496.8 L267.7,497.3 L268.4,497.7 L269.2,498.2 L269.9,498.6 L270.7,499 L271.4,499.4 L272.2,499.8 L272.9,500.1 L273.7,500.5 L274.4,500.8 L275.2,501.1 L275.9,501.3 L276.7,501.6 L277.4,501.8 L278.2,502.1 L278.9,502.3 L279.7,502.5 L280.4,502.6 L281.2,502.8 L281.9,503 L282.7,503.1 L283.4,503.3 L284.2,503.4 L284.9,503.5 L285.7,503.6 L286.4,503.7 L287.2,503.8 L287.9,503.9 L288.7,504 L289.4,504.1 L290.2,504.2 L290.9,504.2 L291.7,504.3 L292.4,504.4 L293.2,504.4 L293.9,504.5 L294.7,504.5 L295.4,504.6 L296.2,504.6 L296.9,504.6 L297.7,504.7 L298.4,504.7 L299.2,504.8 L299.9,504.8 L300.7,504.8 L301.4,504.8 L302.2,504.9 L302.9,504.9 L303.7,504.9 L304.4,504.9 L305.2,505 L305.9,505 L306.7,505 L307.4,505 L308.2,505 L308.9,505 L309.7,505 L310.4,505.1 L311.2,505.1 L311.9,505.1 L312.7,505.1 L314.7,505.1 L316.7,505.1 L318.7,505.2 L320.7,505.2 L322.7,505.2 L324.7,505.2 L326.7,505.2 L328.7,505.2 L330.7,505.2 L332.7,505.2 L334.7,505.3 L336.7,505.3 L338.7,505.3 L340.7,505.3 L342.7,505.3 L344.7,505.3 L346.7,505.3 L348.7,505.3 L353.7,505.3 L358.7,505.3 L361,505.3 L361,505.3 L139.7,505.3 Z" fill="#cfe0ec" stroke="#0f3d70" stroke-width="1.4" stroke-linejoin="round"/>
<line x1="261.2" x2="261.2" y1="504.9" y2="495.6" stroke="#14609f" stroke-width="2.0"/>
<line x1="139.7" x2="361" y1="505.3" y2="505.3" stroke="#174a7f" stroke-width="1.4"/>
<path d="M169.1,518.5 L174.1,518.5 L179.1,518.5 L181.1,518.5 L183.1,518.5 L185.1,518.5 L187.1,518.4 L189.1,518.4 L191.1,518.4 L193.1,518.4 L195.1,518.4 L197.1,518.4 L199.1,518.4 L201.1,518.4 L203.1,518.4 L205.1,518.4 L207.1,518.3 L209.1,518.3 L211.1,518.3 L213.1,518.3 L215.1,518.2 L215.8,518.2 L216.6,518.2 L217.3,518.2 L218.1,518.2 L218.8,518.2 L219.6,518.2 L220.3,518.1 L221.1,518.1 L221.8,518.1 L222.6,518.1 L223.3,518.1 L224.1,518 L224.8,518 L225.6,518 L226.3,517.9 L227.1,517.9 L227.8,517.9 L228.6,517.8 L229.3,517.8 L230.1,517.8 L230.8,517.7 L231.6,517.7 L232.3,517.6 L233.1,517.6 L233.8,517.5 L234.6,517.4 L235.3,517.4 L236.1,517.3 L236.8,517.2 L237.6,517.1 L238.3,517 L239.1,516.9 L239.8,516.8 L240.6,516.7 L241.3,516.6 L242.1,516.5 L242.8,516.3 L243.6,516.2 L244.3,516 L245.1,515.8 L245.8,515.7 L246.6,515.5 L247.3,515.3 L248.1,515 L248.8,514.8 L249.6,514.5 L250.3,514.2 L251.1,513.9 L251.8,513.6 L252.6,513.3 L253.3,512.9 L254.1,512.5 L254.8,512.1 L255.6,511.7 L256.4,511.2 L257.1,510.7 L257.9,510.2 L258.6,509.7 L259.4,509.1 L260.1,508.7 L260.9,508.1 L261.6,507.7 L262.4,507.4 L263.1,507.2 L263.8,507.1 L263.9,507.1 L264.6,507.2 L265.4,507.4 L266.1,507.6 L266.9,508 L267.6,508.4 L268.4,508.8 L269.1,509.2 L269.9,509.7 L270.6,510.1 L271.4,510.5 L272.1,510.9 L272.9,511.3 L273.6,511.7 L274.4,512 L275.1,512.3 L275.9,512.7 L276.6,513 L277.4,513.3 L278.1,513.5 L278.9,513.8 L279.6,514 L280.4,514.3 L281.1,514.5 L281.9,514.7 L282.6,514.9 L283.4,515.1 L284.1,515.3 L284.9,515.4 L285.6,515.6 L286.4,515.7 L287.1,515.9 L287.9,516 L288.6,516.1 L289.4,516.3 L290.1,516.4 L290.9,516.5 L291.6,516.6 L292.4,516.7 L293.1,516.8 L293.9,516.9 L294.6,516.9 L295.4,517 L296.1,517.1 L296.9,517.2 L297.6,517.2 L298.4,517.3 L299.1,517.3 L299.9,517.4 L300.6,517.4 L301.4,517.5 L302.1,517.5 L302.9,517.6 L303.6,517.6 L304.4,517.7 L305.1,517.7 L305.9,517.7 L306.6,517.8 L307.4,517.8 L308.1,517.8 L308.9,517.9 L309.6,517.9 L310.4,517.9 L311.1,518 L311.9,518 L312.6,518 L313.4,518 L314.1,518 L314.9,518.1 L315.6,518.1 L316.4,518.1 L317.1,518.1 L317.9,518.1 L318.6,518.1 L319.4,518.2 L320.1,518.2 L320.9,518.2 L321.6,518.2 L322.4,518.2 L323.1,518.2 L323.9,518.2 L324.6,518.2 L325.4,518.2 L326.1,518.3 L326.9,518.3 L327.6,518.3 L329.6,518.3 L331.6,518.3 L333.6,518.3 L335.6,518.3 L337.6,518.4 L339.6,518.4 L341.6,518.4 L343.6,518.4 L345.6,518.4 L347.6,518.4 L349.6,518.4 L351.6,518.4 L353.6,518.4 L355.6,518.4 L357.6,518.4 L359.6,518.4 L361.6,518.4 L363.6,518.5 L365.6,518.5 L367.6,518.5 L368.9,518.5 L368.9,519 L169.1,519 Z" fill="#cfe0ec" stroke="none"/>
<line x1="264.4" x2="264.4" y1="518.7" y2="507.6" stroke="#14609f" stroke-width="2.0"/>
<path d="M169.1,518.5 L174.1,518.5 L179.1,518.5 L181.1,518.5 L183.1,518.5 L185.1,518.5 L187.1,518.4 L189.1,518.4 L191.1,518.4 L193.1,518.4 L195.1,518.4 L197.1,518.4 L199.1,518.4 L201.1,518.4 L203.1,518.4 L205.1,518.4 L207.1,518.3 L209.1,518.3 L211.1,518.3 L213.1,518.3 L215.1,518.2 L215.8,518.2 L216.6,518.2 L217.3,518.2 L218.1,518.2 L218.8,518.2 L219.6,518.2 L220.3,518.1 L221.1,518.1 L221.8,518.1 L222.6,518.1 L223.3,518.1 L224.1,518 L224.8,518 L225.6,518 L226.3,517.9 L227.1,517.9 L227.8,517.9 L228.6,517.8 L229.3,517.8 L230.1,517.8 L230.8,517.7 L231.6,517.7 L232.3,517.6 L233.1,517.6 L233.8,517.5 L234.6,517.4 L235.3,517.4 L236.1,517.3 L236.8,517.2 L237.6,517.1 L238.3,517 L239.1,516.9 L239.8,516.8 L240.6,516.7 L241.3,516.6 L242.1,516.5 L242.8,516.3 L243.6,516.2 L244.3,516 L245.1,515.8 L245.8,515.7 L246.6,515.5 L247.3,515.3 L248.1,515 L248.8,514.8 L249.6,514.5 L250.3,514.2 L251.1,513.9 L251.8,513.6 L252.6,513.3 L253.3,512.9 L254.1,512.5 L254.8,512.1 L255.6,511.7 L256.4,511.2 L257.1,510.7 L257.9,510.2 L258.6,509.7 L259.4,509.1 L260.1,508.7 L260.9,508.1 L261.6,507.7 L262.4,507.4 L263.1,507.2 L263.8,507.1 L263.9,507.1 L264.6,507.2 L265.4,507.4 L266.1,507.6 L266.9,508 L267.6,508.4 L268.4,508.8 L269.1,509.2 L269.9,509.7 L270.6,510.1 L271.4,510.5 L272.1,510.9 L272.9,511.3 L273.6,511.7 L274.4,512 L275.1,512.3 L275.9,512.7 L276.6,513 L277.4,513.3 L278.1,513.5 L278.9,513.8 L279.6,514 L280.4,514.3 L281.1,514.5 L281.9,514.7 L282.6,514.9 L283.4,515.1 L284.1,515.3 L284.9,515.4 L285.6,515.6 L286.4,515.7 L287.1,515.9 L287.9,516 L288.6,516.1 L289.4,516.3 L290.1,516.4 L290.9,516.5 L291.6,516.6 L292.4,516.7 L293.1,516.8 L293.9,516.9 L294.6,516.9 L295.4,517 L296.1,517.1 L296.9,517.2 L297.6,517.2 L298.4,517.3 L299.1,517.3 L299.9,517.4 L300.6,517.4 L301.4,517.5 L302.1,517.5 L302.9,517.6 L303.6,517.6 L304.4,517.7 L305.1,517.7 L305.9,517.7 L306.6,517.8 L307.4,517.8 L308.1,517.8 L308.9,517.9 L309.6,517.9 L310.4,517.9 L311.1,518 L311.9,518 L312.6,518 L313.4,518 L314.1,518 L314.9,518.1 L315.6,518.1 L316.4,518.1 L317.1,518.1 L317.9,518.1 L318.6,518.1 L319.4,518.2 L320.1,518.2 L320.9,518.2 L321.6,518.2 L322.4,518.2 L323.1,518.2 L323.9,518.2 L324.6,518.2 L325.4,518.2 L326.1,518.3 L326.9,518.3 L327.6,518.3 L329.6,518.3 L331.6,518.3 L333.6,518.3 L335.6,518.3 L337.6,518.4 L339.6,518.4 L341.6,518.4 L343.6,518.4 L345.6,518.4 L347.6,518.4 L349.6,518.4 L351.6,518.4 L353.6,518.4 L355.6,518.4 L357.6,518.4 L359.6,518.4 L361.6,518.4 L363.6,518.5 L365.6,518.5 L367.6,518.5 L368.9,518.5" fill="none" stroke="#0f3d70" stroke-width="1.4" stroke-linejoin="round"/>
<path d="M183.4,531.6 L185.4,531.6 L187.4,531.6 L189.4,531.6 L191.4,531.6 L193.4,531.6 L195.4,531.6 L197.4,531.6 L199.4,531.6 L201.4,531.6 L203.4,531.6 L205.4,531.5 L207.4,531.5 L209.4,531.5 L211.4,531.5 L213.4,531.5 L215.4,531.4 L216.2,531.4 L216.9,531.4 L217.7,531.4 L218.4,531.4 L219.2,531.4 L219.9,531.3 L220.7,531.3 L221.4,531.3 L222.2,531.3 L222.9,531.3 L223.7,531.2 L224.4,531.2 L225.2,531.2 L225.9,531.1 L226.7,531.1 L227.4,531.1 L228.2,531 L228.9,531 L229.7,531 L230.4,530.9 L231.2,530.9 L231.9,530.8 L232.7,530.8 L233.4,530.7 L234.2,530.6 L234.9,530.6 L235.7,530.5 L236.4,530.4 L237.2,530.3 L237.9,530.2 L238.7,530.1 L239.4,530 L240.2,529.9 L240.9,529.8 L241.7,529.7 L242.4,529.5 L243.2,529.4 L243.9,529.2 L244.7,529 L245.4,528.9 L246.2,528.6 L246.9,528.4 L247.7,528.2 L248.4,527.9 L249.2,527.7 L249.9,527.4 L250.7,527.1 L251.4,526.7 L252.2,526.4 L252.9,526 L253.7,525.6 L254.4,525.2 L255.2,524.7 L255.9,524.3 L256.6,523.8 L257.4,523.2 L258.1,522.7 L258.9,522.2 L259.6,521.7 L260.4,521.2 L261.1,520.8 L261.9,520.5 L262.6,520.3 L263,520.3 L263.4,520.3 L264.1,520.5 L264.9,520.8 L265.6,521.2 L266.4,521.7 L267.1,522.2 L267.9,522.8 L268.6,523.3 L269.4,523.9 L270.1,524.3 L270.9,524.9 L271.6,525.3 L272.4,525.7 L273.1,526.1 L273.9,526.5 L274.6,526.9 L275.4,527.2 L276.1,527.5 L276.9,527.8 L277.6,528.1 L278.4,528.3 L279.1,528.5 L279.9,528.8 L280.6,529 L281.4,529.2 L282.1,529.3 L282.9,529.5 L283.6,529.6 L284.4,529.8 L285.1,529.9 L285.9,530 L286.6,530.1 L287.4,530.2 L288.1,530.3 L288.9,530.4 L289.6,530.5 L290.4,530.6 L291.1,530.6 L291.9,530.7 L292.6,530.8 L293.4,530.8 L294.1,530.9 L294.9,530.9 L295.6,531 L296.4,531 L297.1,531.1 L297.9,531.1 L298.6,531.1 L299.4,531.2 L300.1,531.2 L300.9,531.2 L301.6,531.2 L302.4,531.3 L303.1,531.3 L303.9,531.3 L304.6,531.3 L305.4,531.3 L306.1,531.4 L306.9,531.4 L307.6,531.4 L308.4,531.4 L309.1,531.4 L309.9,531.4 L310.6,531.4 L311.4,531.5 L313.4,531.5 L315.4,531.5 L317.4,531.5 L319.4,531.5 L321.4,531.6 L323.4,531.6 L325.4,531.6 L327.4,531.6 L329.4,531.6 L331.4,531.6 L333.3,531.6 L333.3,531.7 L183.4,531.7 Z" fill="#cfe0ec" stroke="#0f3d70" stroke-width="1.4" stroke-linejoin="round"/>
<line x1="263" x2="263" y1="531.3" y2="520.8" stroke="#14609f" stroke-width="2.0"/>
<line x1="183.4" x2="333.3" y1="531.7" y2="531.7" stroke="#174a7f" stroke-width="1.4"/>
<path d="M161.8,544.8 L166.8,544.8 L171.8,544.8 L173.8,544.8 L175.8,544.8 L177.8,544.8 L179.8,544.8 L181.8,544.8 L183.8,544.8 L185.8,544.8 L187.8,544.8 L189.8,544.8 L191.8,544.8 L193.8,544.8 L195.8,544.7 L197.8,544.7 L199.8,544.7 L201.8,544.7 L203.8,544.7 L205.8,544.7 L207.8,544.7 L209.8,544.6 L210.5,544.6 L211.3,544.6 L212,544.6 L212.8,544.6 L213.5,544.6 L214.3,544.6 L215,544.5 L215.8,544.5 L216.5,544.5 L217.3,544.5 L218,544.5 L218.8,544.5 L219.5,544.4 L220.3,544.4 L221,544.4 L221.8,544.4 L222.5,544.3 L223.3,544.3 L224,544.3 L224.8,544.3 L225.5,544.2 L226.3,544.2 L227,544.2 L227.8,544.1 L228.5,544.1 L229.3,544 L230,544 L230.8,543.9 L231.5,543.9 L232.3,543.8 L233,543.8 L233.8,543.7 L234.5,543.6 L235.3,543.6 L236,543.5 L236.8,543.4 L237.5,543.3 L238.3,543.2 L239,543.1 L239.8,543 L240.5,542.9 L241.3,542.8 L242,542.7 L242.8,542.5 L243.5,542.4 L244.3,542.2 L245,542 L245.8,541.9 L246.5,541.7 L247.3,541.5 L248,541.3 L248.8,541 L249.5,540.8 L250.3,540.5 L251,540.2 L251.8,539.9 L252.5,539.6 L253.3,539.3 L254,539 L254.8,538.6 L255.5,538.2 L256.3,537.8 L257,537.3 L257.8,536.9 L258.5,536.4 L259.3,535.9 L260,535.5 L260.8,535 L261.5,534.5 L262.3,534.1 L263,533.8 L263.8,533.5 L264.5,533.4 L264.7,533.4 L265.3,533.4 L266,533.6 L266.8,533.9 L267.5,534.2 L268.3,534.6 L269,535 L269.8,535.4 L270.5,535.8 L271.3,536.3 L272,536.7 L272.8,537.1 L273.5,537.5 L274.3,537.9 L275,538.2 L275.8,538.6 L276.5,538.9 L277.3,539.2 L278,539.5 L278.8,539.8 L279.5,540 L280.3,540.3 L281,540.5 L281.8,540.8 L282.5,541 L283.3,541.2 L284,541.4 L284.8,541.6 L285.5,541.7 L286.3,541.9 L287,542 L287.8,542.2 L288.5,542.3 L289.3,542.5 L290,542.6 L290.8,542.7 L291.5,542.8 L292.3,542.9 L293,543 L293.8,543.1 L294.5,543.2 L295.3,543.3 L296,543.3 L296.8,543.4 L297.5,543.5 L298.3,543.6 L299,543.6 L299.8,543.7 L300.5,543.7 L301.3,543.8 L302,543.8 L302.8,543.9 L303.5,543.9 L304.3,544 L305,544 L305.8,544.1 L306.5,544.1 L307.3,544.1 L308,544.2 L308.8,544.2 L309.5,544.2 L310.3,544.2 L311,544.3 L311.8,544.3 L312.5,544.3 L313.3,544.3 L314,544.4 L314.8,544.4 L315.5,544.4 L316.3,544.4 L317,544.4 L317.8,544.5 L318.5,544.5 L319.3,544.5 L320,544.5 L320.8,544.5 L321.5,544.5 L322.3,544.5 L323,544.6 L323.8,544.6 L324.5,544.6 L325.3,544.6 L326,544.6 L326.8,544.6 L327.5,544.6 L328.3,544.6 L330.3,544.7 L332.3,544.7 L334.3,544.7 L336.3,544.7 L338.3,544.7 L340.3,544.7 L342.3,544.7 L344.3,544.8 L346.3,544.8 L348.3,544.8 L350.3,544.8 L352.3,544.8 L354.3,544.8 L356.3,544.8 L358.3,544.8 L360.3,544.8 L362.3,544.8 L364.3,544.8 L366.3,544.8 L368.3,544.8 L368.9,544.8 L368.9,545.4 L161.8,545.4 Z" fill="#cfe0ec" stroke="none"/>
<line x1="265.9" x2="265.9" y1="545.1" y2="534.1" stroke="#14609f" stroke-width="2.0"/>
<path d="M161.8,544.8 L166.8,544.8 L171.8,544.8 L173.8,544.8 L175.8,544.8 L177.8,544.8 L179.8,544.8 L181.8,544.8 L183.8,544.8 L185.8,544.8 L187.8,544.8 L189.8,544.8 L191.8,544.8 L193.8,544.8 L195.8,544.7 L197.8,544.7 L199.8,544.7 L201.8,544.7 L203.8,544.7 L205.8,544.7 L207.8,544.7 L209.8,544.6 L210.5,544.6 L211.3,544.6 L212,544.6 L212.8,544.6 L213.5,544.6 L214.3,544.6 L215,544.5 L215.8,544.5 L216.5,544.5 L217.3,544.5 L218,544.5 L218.8,544.5 L219.5,544.4 L220.3,544.4 L221,544.4 L221.8,544.4 L222.5,544.3 L223.3,544.3 L224,544.3 L224.8,544.3 L225.5,544.2 L226.3,544.2 L227,544.2 L227.8,544.1 L228.5,544.1 L229.3,544 L230,544 L230.8,543.9 L231.5,543.9 L232.3,543.8 L233,543.8 L233.8,543.7 L234.5,543.6 L235.3,543.6 L236,543.5 L236.8,543.4 L237.5,543.3 L238.3,543.2 L239,543.1 L239.8,543 L240.5,542.9 L241.3,542.8 L242,542.7 L242.8,542.5 L243.5,542.4 L244.3,542.2 L245,542 L245.8,541.9 L246.5,541.7 L247.3,541.5 L248,541.3 L248.8,541 L249.5,540.8 L250.3,540.5 L251,540.2 L251.8,539.9 L252.5,539.6 L253.3,539.3 L254,539 L254.8,538.6 L255.5,538.2 L256.3,537.8 L257,537.3 L257.8,536.9 L258.5,536.4 L259.3,535.9 L260,535.5 L260.8,535 L261.5,534.5 L262.3,534.1 L263,533.8 L263.8,533.5 L264.5,533.4 L264.7,533.4 L265.3,533.4 L266,533.6 L266.8,533.9 L267.5,534.2 L268.3,534.6 L269,535 L269.8,535.4 L270.5,535.8 L271.3,536.3 L272,536.7 L272.8,537.1 L273.5,537.5 L274.3,537.9 L275,538.2 L275.8,538.6 L276.5,538.9 L277.3,539.2 L278,539.5 L278.8,539.8 L279.5,540 L280.3,540.3 L281,540.5 L281.8,540.8 L282.5,541 L283.3,541.2 L284,541.4 L284.8,541.6 L285.5,541.7 L286.3,541.9 L287,542 L287.8,542.2 L288.5,542.3 L289.3,542.5 L290,542.6 L290.8,542.7 L291.5,542.8 L292.3,542.9 L293,543 L293.8,543.1 L294.5,543.2 L295.3,543.3 L296,543.3 L296.8,543.4 L297.5,543.5 L298.3,543.6 L299,543.6 L299.8,543.7 L300.5,543.7 L301.3,543.8 L302,543.8 L302.8,543.9 L303.5,543.9 L304.3,544 L305,544 L305.8,544.1 L306.5,544.1 L307.3,544.1 L308,544.2 L308.8,544.2 L309.5,544.2 L310.3,544.2 L311,544.3 L311.8,544.3 L312.5,544.3 L313.3,544.3 L314,544.4 L314.8,544.4 L315.5,544.4 L316.3,544.4 L317,544.4 L317.8,544.5 L318.5,544.5 L319.3,544.5 L320,544.5 L320.8,544.5 L321.5,544.5 L322.3,544.5 L323,544.6 L323.8,544.6 L324.5,544.6 L325.3,544.6 L326,544.6 L326.8,544.6 L327.5,544.6 L328.3,544.6 L330.3,544.7 L332.3,544.7 L334.3,544.7 L336.3,544.7 L338.3,544.7 L340.3,544.7 L342.3,544.7 L344.3,544.8 L346.3,544.8 L348.3,544.8 L350.3,544.8 L352.3,544.8 L354.3,544.8 L356.3,544.8 L358.3,544.8 L360.3,544.8 L362.3,544.8 L364.3,544.8 L366.3,544.8 L368.3,544.8 L368.9,544.8" fill="none" stroke="#0f3d70" stroke-width="1.4" stroke-linejoin="round"/>
<path d="M127.9,558 L132.9,558 L137.9,558 L142.9,558 L147.9,558 L152.9,558 L157.9,558 L162.9,558 L167.9,558 L172.9,558 L177.9,558 L179.9,558 L181.9,558 L183.9,558 L185.9,558 L187.9,558 L189.9,558 L191.9,558 L193.9,558 L195.9,557.9 L197.9,557.9 L199.9,557.9 L201.9,557.9 L203.9,557.9 L205.9,557.9 L207.9,557.9 L209.9,557.8 L211.9,557.8 L212.6,557.8 L213.4,557.8 L214.1,557.8 L214.9,557.7 L215.6,557.7 L216.4,557.7 L217.1,557.7 L217.9,557.7 L218.6,557.7 L219.4,557.6 L220.1,557.6 L220.9,557.6 L221.6,557.6 L222.4,557.6 L223.1,557.5 L223.9,557.5 L224.6,557.5 L225.4,557.4 L226.1,557.4 L226.9,557.4 L227.6,557.3 L228.4,557.3 L229.1,557.2 L229.9,557.2 L230.6,557.1 L231.4,557.1 L232.1,557 L232.9,557 L233.6,556.9 L234.4,556.8 L235.1,556.7 L235.9,556.6 L236.6,556.6 L237.4,556.5 L238.1,556.4 L238.9,556.2 L239.6,556.1 L240.4,556 L241.1,555.9 L241.9,555.7 L242.6,555.6 L243.4,555.4 L244.1,555.2 L244.9,555 L245.6,554.8 L246.4,554.6 L247.1,554.4 L247.9,554.1 L248.6,553.9 L249.4,553.5 L250.1,553.3 L250.9,552.9 L251.6,552.6 L252.4,552.2 L253.1,551.8 L253.9,551.4 L254.6,551 L255.4,550.5 L256.1,550 L256.9,549.5 L257.6,549 L258.4,548.5 L259.1,548 L259.9,547.6 L260.6,547.2 L261.4,546.9 L262.1,546.8 L262.4,546.8 L262.9,546.8 L263.6,547 L264.4,547.3 L265.1,547.7 L265.9,548.2 L266.6,548.6 L267.4,549.2 L268.1,549.6 L268.9,550.2 L269.6,550.6 L270.4,551.1 L271.1,551.5 L271.9,551.9 L272.6,552.3 L273.4,552.7 L274.1,553 L274.9,553.3 L275.6,553.6 L276.4,553.9 L277.1,554.2 L277.9,554.4 L278.6,554.7 L279.4,554.9 L280.1,555.1 L280.9,555.3 L281.6,555.4 L282.4,555.6 L283.1,555.8 L283.9,555.9 L284.6,556 L285.4,556.2 L286.1,556.3 L286.9,556.4 L287.6,556.5 L288.4,556.6 L289.1,556.7 L289.9,556.8 L290.6,556.8 L291.4,556.9 L292.1,557 L292.9,557 L293.6,557.1 L294.4,557.1 L295.1,557.2 L295.9,557.2 L296.6,557.3 L297.4,557.3 L298.1,557.4 L298.9,557.4 L299.6,557.4 L300.4,557.5 L301.1,557.5 L301.9,557.5 L302.6,557.6 L303.4,557.6 L304.1,557.6 L304.9,557.6 L305.6,557.7 L306.4,557.7 L307.1,557.7 L307.9,557.7 L308.6,557.7 L309.4,557.7 L310.1,557.8 L310.9,557.8 L311.6,557.8 L312.4,557.8 L313.1,557.8 L313.9,557.8 L315.9,557.8 L317.9,557.9 L319.9,557.9 L321.9,557.9 L323.9,557.9 L325.9,557.9 L327.9,557.9 L329.9,557.9 L331.9,558 L333.9,558 L335.9,558 L337.9,558 L339.9,558 L341.9,558 L343.9,558 L345.9,558 L347.9,558 L349.9,558 L351.9,558 L355.2,558 L355.2,558.1 L127.9,558.1 Z" fill="#cfe0ec" stroke="#0f3d70" stroke-width="1.4" stroke-linejoin="round"/>
<line x1="261.8" x2="261.8" y1="557.7" y2="547.4" stroke="#14609f" stroke-width="2.0"/>
<line x1="127.9" x2="355.2" y1="558.1" y2="558.1" stroke="#174a7f" stroke-width="1.4"/>
<path d="M111.5,322.4 V569.3 H381.5" fill="none" stroke="#3a3a3a" stroke-width="1.1"/>
<line x1="108.3" x2="111.5" y1="334" y2="334" stroke="#333" stroke-width="1.3"/>
<text x="105.4" y="337.7" font-size="10.25" fill="#4d4d4d" stroke="#4d4d4d" stroke-width="0.2" text-anchor="end">Mudug</text>
<line x1="108.3" x2="111.5" y1="347.2" y2="347.2" stroke="#333" stroke-width="1.3"/>
<text x="105.4" y="350.9" font-size="10.25" fill="#4d4d4d" stroke="#4d4d4d" stroke-width="0.2" text-anchor="end">Shabeellaha Dhexe</text>
<line x1="108.3" x2="111.5" y1="360.4" y2="360.4" stroke="#333" stroke-width="1.3"/>
<text x="105.4" y="364.1" font-size="10.25" fill="#4d4d4d" stroke="#4d4d4d" stroke-width="0.2" text-anchor="end">Jubbada Dhexe</text>
<line x1="108.3" x2="111.5" y1="373.5" y2="373.5" stroke="#333" stroke-width="1.3"/>
<text x="105.4" y="377.2" font-size="10.25" fill="#4d4d4d" stroke="#4d4d4d" stroke-width="0.2" text-anchor="end">Shabeellaha Hoose</text>
<line x1="108.3" x2="111.5" y1="386.7" y2="386.7" stroke="#333" stroke-width="1.3"/>
<text x="105.4" y="390.4" font-size="10.25" fill="#4d4d4d" stroke="#4d4d4d" stroke-width="0.2" text-anchor="end">Jubbada Hoose</text>
<line x1="108.3" x2="111.5" y1="399.9" y2="399.9" stroke="#333" stroke-width="1.3"/>
<text x="105.4" y="403.6" font-size="10.25" fill="#4d4d4d" stroke="#4d4d4d" stroke-width="0.2" text-anchor="end">Hiiraan</text>
<line x1="108.3" x2="111.5" y1="413.1" y2="413.1" stroke="#333" stroke-width="1.3"/>
<text x="105.4" y="416.8" font-size="10.25" fill="#4d4d4d" stroke="#4d4d4d" stroke-width="0.2" text-anchor="end">Gedo</text>
<line x1="108.3" x2="111.5" y1="426.3" y2="426.3" stroke="#333" stroke-width="1.3"/>
<text x="105.4" y="430" font-size="10.25" fill="#4d4d4d" stroke="#4d4d4d" stroke-width="0.2" text-anchor="end">Galguduud</text>
<line x1="108.3" x2="111.5" y1="439.4" y2="439.4" stroke="#333" stroke-width="1.3"/>
<text x="105.4" y="443.1" font-size="10.25" fill="#4d4d4d" stroke="#4d4d4d" stroke-width="0.2" text-anchor="end">Bay</text>
<line x1="108.3" x2="111.5" y1="452.6" y2="452.6" stroke="#333" stroke-width="1.3"/>
<text x="105.4" y="456.3" font-size="10.25" fill="#4d4d4d" stroke="#4d4d4d" stroke-width="0.2" text-anchor="end">Banaadir</text>
<line x1="108.3" x2="111.5" y1="465.8" y2="465.8" stroke="#333" stroke-width="1.3"/>
<text x="105.4" y="469.5" font-size="10.25" fill="#4d4d4d" stroke="#4d4d4d" stroke-width="0.2" text-anchor="end">Bakool</text>
<line x1="108.3" x2="111.5" y1="479" y2="479" stroke="#333" stroke-width="1.3"/>
<text x="105.4" y="482.7" font-size="10.25" fill="#4d4d4d" stroke="#4d4d4d" stroke-width="0.2" text-anchor="end">Woqooyi Galbeed</text>
<line x1="108.3" x2="111.5" y1="492.2" y2="492.2" stroke="#333" stroke-width="1.3"/>
<text x="105.4" y="495.9" font-size="10.25" fill="#4d4d4d" stroke="#4d4d4d" stroke-width="0.2" text-anchor="end">Togdheer</text>
<line x1="108.3" x2="111.5" y1="505.3" y2="505.3" stroke="#333" stroke-width="1.3"/>
<text x="105.4" y="509" font-size="10.25" fill="#4d4d4d" stroke="#4d4d4d" stroke-width="0.2" text-anchor="end">Sool</text>
<line x1="108.3" x2="111.5" y1="518.5" y2="518.5" stroke="#333" stroke-width="1.3"/>
<text x="105.4" y="522.2" font-size="10.25" fill="#4d4d4d" stroke="#4d4d4d" stroke-width="0.2" text-anchor="end">Sanaag</text>
<line x1="108.3" x2="111.5" y1="531.7" y2="531.7" stroke="#333" stroke-width="1.3"/>
<text x="105.4" y="535.4" font-size="10.25" fill="#4d4d4d" stroke="#4d4d4d" stroke-width="0.2" text-anchor="end">Nugaal</text>
<line x1="108.3" x2="111.5" y1="544.9" y2="544.9" stroke="#333" stroke-width="1.3"/>
<text x="105.4" y="548.6" font-size="10.25" fill="#4d4d4d" stroke="#4d4d4d" stroke-width="0.2" text-anchor="end">Bari</text>
<line x1="108.3" x2="111.5" y1="558.1" y2="558.1" stroke="#333" stroke-width="1.3"/>
<text x="105.4" y="561.8" font-size="10.25" fill="#4d4d4d" stroke="#4d4d4d" stroke-width="0.2" text-anchor="end">Awdal</text>
<line x1="123.9" x2="123.9" y1="569.3" y2="572.6" stroke="#333" stroke-width="1.3"/>
<text x="123.9" y="582.4" font-size="10.3" fill="#4d4d4d" stroke="#4d4d4d" stroke-width="0.2" text-anchor="middle">−2</text>
<line x1="194.0" x2="194.0" y1="569.3" y2="572.6" stroke="#333" stroke-width="1.3"/>
<text x="194.0" y="582.4" font-size="10.3" fill="#4d4d4d" stroke="#4d4d4d" stroke-width="0.2" text-anchor="middle">−1</text>
<line x1="264.0" x2="264.0" y1="569.3" y2="572.6" stroke="#333" stroke-width="1.3"/>
<text x="264.0" y="582.4" font-size="10.3" fill="#4d4d4d" stroke="#4d4d4d" stroke-width="0.2" text-anchor="middle">0</text>
<line x1="334.1" x2="334.1" y1="569.3" y2="572.6" stroke="#333" stroke-width="1.3"/>
<text x="334.1" y="582.4" font-size="10.3" fill="#4d4d4d" stroke="#4d4d4d" stroke-width="0.2" text-anchor="middle">1</text>
<text transform="translate(9.1,446) rotate(-90)" font-size="12.2" fill="#000" stroke="#000" stroke-width="0.2" text-anchor="middle">region</text>
</g>
<g id="panel4">
<text x="416.8" y="309.7" font-size="15" fill="#000" stroke="#000" stroke-width="0.1">Intercept (<tspan font-size="14.0">ϕ</tspan><tspan font-size="10.3" dx="0.3" dy="2.8">i</tspan><tspan font-size="15" dx="0.3" dy="-2.8">)</tspan></text>
<line x1="585.1" x2="585.1" y1="322.4" y2="569.3" stroke="#e4e4e4" stroke-width="1"/>
<path d="M553.3,331.1 L558.3,331 L560.3,331 L562.3,331 L564.3,330.9 L566.3,330.8 L567.1,330.7 L567.8,330.7 L568.6,330.6 L569.3,330.5 L570.1,330.4 L570.8,330.3 L571.6,330.2 L572.3,330.1 L573.1,330 L573.8,329.8 L574.6,329.6 L575.3,329.4 L576.1,329.2 L576.8,329 L577.6,328.7 L578.3,328.4 L579.1,328.1 L579.8,327.8 L580.6,327.4 L581.3,327.1 L582.1,326.6 L582.8,326.3 L583.6,325.8 L584.3,325.5 L585.1,325 L585.8,324.7 L586.6,324.3 L587.3,324 L588.1,323.7 L588.8,323.5 L589.6,323.3 L590.3,323.2 L591,323.2 L591.1,323.2 L591.8,323.2 L592.6,323.3 L593.3,323.5 L594.1,323.7 L594.8,324 L595.6,324.3 L596.3,324.6 L597.1,325 L597.8,325.3 L598.6,325.7 L599.3,326.1 L600.1,326.5 L600.8,326.8 L601.6,327.2 L602.3,327.5 L603.1,327.9 L603.8,328.2 L604.6,328.5 L605.3,328.7 L606.1,329 L606.8,329.2 L607.6,329.4 L608.3,329.6 L609.1,329.8 L609.8,329.9 L610.6,330.1 L611.3,330.2 L612.1,330.3 L612.8,330.4 L613.6,330.5 L614.3,330.6 L615.1,330.6 L615.8,330.7 L616.6,330.7 L617.3,330.8 L618.1,330.8 L618.8,330.9 L620.8,330.9 L622.8,331 L624.8,331 L626.8,331 L628.8,331.1 L633.8,331.1 L638.6,331.1 L638.6,331.1 L553.3,331.1 Z" fill="#cfe0ec" stroke="#0f3d70" stroke-width="1.4" stroke-linejoin="round"/>
<line x1="591" x2="591" y1="330.7" y2="323.7" stroke="#14609f" stroke-width="2.0"/>
<line x1="553.3" x2="638.6" y1="331.1" y2="331.1" stroke="#174a7f" stroke-width="1.4"/>
<path d="M524.4,344.4 L529.4,344.4 L534.4,344.4 L539.4,344.4 L541.4,344.3 L543.4,344.3 L545.4,344.2 L546.1,344.2 L546.9,344.1 L547.6,344.1 L548.4,344 L549.1,343.9 L549.9,343.9 L550.6,343.8 L551.4,343.7 L552.1,343.6 L552.9,343.4 L553.6,343.3 L554.4,343.2 L555.1,343 L555.9,342.8 L556.6,342.6 L557.4,342.3 L558.1,342.1 L558.9,341.8 L559.6,341.5 L560.4,341.2 L561.1,340.8 L561.9,340.4 L562.6,340.1 L563.4,339.6 L564.1,339.2 L564.9,338.8 L565.6,338.4 L566.4,337.9 L567.1,337.5 L567.9,337.1 L568.6,336.8 L569.4,336.4 L570.1,336.2 L570.9,335.9 L571.6,335.8 L572.4,335.7 L572.9,335.7 L573.1,335.7 L573.9,335.8 L574.6,335.9 L575.4,336.1 L576.1,336.3 L576.9,336.6 L577.6,336.9 L578.4,337.3 L579.1,337.6 L579.9,338 L580.6,338.4 L581.4,338.9 L582.1,339.3 L582.9,339.7 L583.6,340.1 L584.4,340.5 L585.1,340.8 L585.9,341.2 L586.6,341.5 L587.4,341.8 L588.1,342 L588.9,342.3 L589.6,342.5 L590.4,342.7 L591.1,342.9 L591.9,343.1 L592.6,343.2 L593.4,343.4 L594.1,343.5 L594.9,343.6 L595.6,343.7 L596.4,343.8 L597.1,343.9 L597.9,344 L598.6,344 L599.4,344.1 L600.1,344.1 L600.9,344.2 L601.6,344.2 L602.4,344.2 L604.4,344.3 L606.4,344.3 L608.4,344.4 L610.4,344.4 L615.4,344.4 L620.4,344.4 L624.8,344.4 L624.8,344.5 L524.4,344.5 Z" fill="#cfe0ec" stroke="#0f3d70" stroke-width="1.4" stroke-linejoin="round"/>
<line x1="572.9" x2="572.9" y1="344.1" y2="336.2" stroke="#14609f" stroke-width="2.0"/>
<line x1="524.4" x2="624.8" y1="344.5" y2="344.5" stroke="#174a7f" stroke-width="1.4"/>
<path d="M511.9,357.8 L516.9,357.8 L521.9,357.8 L526.9,357.8 L531.9,357.8 L536.9,357.8 L541.9,357.7 L543.9,357.6 L545.9,357.5 L546.7,357.5 L547.4,357.5 L548.2,357.4 L548.9,357.3 L549.7,357.3 L550.4,357.2 L551.2,357.1 L551.9,357 L552.7,356.9 L553.4,356.7 L554.2,356.6 L554.9,356.4 L555.7,356.2 L556.4,356 L557.2,355.7 L557.9,355.5 L558.7,355.2 L559.4,354.9 L560.2,354.5 L560.9,354.2 L561.7,353.8 L562.4,353.4 L563.2,353 L563.9,352.6 L564.7,352.1 L565.4,351.7 L566.2,351.2 L566.9,350.9 L567.7,350.5 L568.4,350.2 L569.2,349.9 L569.9,349.7 L570.7,349.6 L571.4,349.5 L571.7,349.5 L572.2,349.5 L572.9,349.6 L573.7,349.7 L574.4,349.9 L575.2,350.2 L575.9,350.4 L576.7,350.8 L577.4,351.1 L578.2,351.5 L578.9,351.9 L579.7,352.3 L580.4,352.7 L581.2,353.1 L581.9,353.5 L582.7,353.9 L583.4,354.2 L584.2,354.5 L584.9,354.8 L585.7,355.1 L586.4,355.4 L587.2,355.7 L587.9,355.9 L588.7,356.1 L589.4,356.3 L590.2,356.5 L590.9,356.6 L591.7,356.8 L592.4,356.9 L593.2,357 L593.9,357.1 L594.7,357.2 L595.4,357.2 L596.2,357.3 L596.9,357.4 L597.7,357.4 L598.4,357.5 L599.2,357.5 L599.9,357.6 L601.9,357.6 L603.9,357.7 L605.9,357.7 L607.9,357.7 L609.9,357.8 L614.3,357.8 L614.3,357.8 L511.9,357.8 Z" fill="#cfe0ec" stroke="#0f3d70" stroke-width="1.4" stroke-linejoin="round"/>
<line x1="571.7" x2="571.7" y1="357.4" y2="350" stroke="#14609f" stroke-width="2.0"/>
<line x1="511.9" x2="614.3" y1="357.8" y2="357.8" stroke="#174a7f" stroke-width="1.4"/>
<path d="M544.6,371.1 L549.6,371.1 L554.6,371.1 L559.6,371.1 L561.6,371 L563.6,371 L565.6,370.8 L566.4,370.8 L567.1,370.7 L567.9,370.6 L568.6,370.6 L569.4,370.5 L570.1,370.3 L570.9,370.2 L571.6,370.1 L572.4,369.9 L573.1,369.7 L573.9,369.4 L574.6,369.2 L575.4,368.9 L576.1,368.6 L576.9,368.2 L577.6,367.8 L578.4,367.3 L579.1,366.9 L579.9,366.4 L580.6,365.9 L581.4,365.3 L582.1,364.8 L582.9,364.2 L583.6,363.7 L584.4,363.2 L585.1,362.8 L585.9,362.4 L586.6,362.1 L587.4,361.8 L588.1,361.7 L588.6,361.7 L588.9,361.7 L589.6,361.8 L590.4,362 L591.1,362.3 L591.9,362.6 L592.6,363.1 L593.4,363.6 L594.1,364.1 L594.9,364.6 L595.6,365.1 L596.4,365.7 L597.1,366.2 L597.9,366.7 L598.6,367.2 L599.4,367.7 L600.1,368 L600.9,368.4 L601.6,368.8 L602.4,369.1 L603.1,369.3 L603.9,369.6 L604.6,369.8 L605.4,370 L606.1,370.1 L606.9,370.3 L607.6,370.4 L608.4,370.5 L609.1,370.6 L609.9,370.7 L610.6,370.8 L611.4,370.8 L612.1,370.9 L612.9,370.9 L614.9,371 L616.9,371.1 L618.9,371.1 L620.9,371.1 L625.9,371.1 L630.4,371.1 L630.4,371.2 L544.6,371.2 Z" fill="#cfe0ec" stroke="#0f3d70" stroke-width="1.4" stroke-linejoin="round"/>
<line x1="588.6" x2="588.6" y1="370.8" y2="362.2" stroke="#14609f" stroke-width="2.0"/>
<line x1="544.6" x2="630.4" y1="371.2" y2="371.2" stroke="#174a7f" stroke-width="1.4"/>
<path d="M531.1,384.5 L536.1,384.5 L541.1,384.4 L543.1,384.4 L545.1,384.3 L547.1,384.2 L547.9,384.2 L548.6,384.1 L549.4,384.1 L550.1,384 L550.9,383.9 L551.6,383.8 L552.4,383.7 L553.1,383.6 L553.9,383.5 L554.6,383.3 L555.4,383.1 L556.1,382.9 L556.9,382.7 L557.6,382.4 L558.4,382.1 L559.1,381.8 L559.9,381.4 L560.6,381 L561.4,380.6 L562.1,380.2 L562.9,379.6 L563.6,379.2 L564.4,378.6 L565.1,378.1 L565.9,377.5 L566.6,377.1 L567.4,376.5 L568.1,376.1 L568.9,375.7 L569.6,375.4 L570.4,375.1 L571.1,375 L571.9,374.9 L572,374.9 L572.6,374.9 L573.4,375.1 L574.1,375.3 L574.9,375.6 L575.6,376 L576.4,376.4 L577.1,376.9 L577.9,377.4 L578.6,377.9 L579.4,378.5 L580.1,379 L580.9,379.6 L581.6,380 L582.4,380.5 L583.1,380.9 L583.9,381.4 L584.6,381.7 L585.4,382.1 L586.1,382.3 L586.9,382.6 L587.6,382.9 L588.4,383.1 L589.1,383.3 L589.9,383.4 L590.6,383.6 L591.4,383.7 L592.1,383.8 L592.9,383.9 L593.6,384 L594.4,384.1 L595.1,384.1 L595.9,384.2 L596.6,384.2 L597.4,384.3 L599.4,384.4 L601.4,384.4 L603.4,384.4 L605.4,384.5 L608.2,384.5 L608.2,384.5 L531.1,384.5 Z" fill="#cfe0ec" stroke="#0f3d70" stroke-width="1.4" stroke-linejoin="round"/>
<line x1="572" x2="572" y1="384.1" y2="375.4" stroke="#14609f" stroke-width="2.0"/>
<line x1="531.1" x2="608.2" y1="384.5" y2="384.5" stroke="#174a7f" stroke-width="1.4"/>
<path d="M559.8,397.8 L564.8,397.8 L566.8,397.8 L568.8,397.7 L570.8,397.6 L571.6,397.5 L572.3,397.5 L573.1,397.4 L573.8,397.3 L574.6,397.2 L575.3,397 L576.1,396.9 L576.8,396.7 L577.6,396.5 L578.3,396.2 L579.1,395.9 L579.8,395.6 L580.6,395.2 L581.3,394.8 L582.1,394.3 L582.8,393.8 L583.6,393.2 L584.3,392.6 L585.1,391.9 L585.8,391.2 L586.6,390.5 L587.3,389.8 L588.1,389.1 L588.8,388.5 L589.6,388 L590.3,387.6 L591.1,387.3 L591.8,387.1 L592.2,387.1 L592.6,387.1 L593.3,387.3 L594.1,387.6 L594.8,388 L595.6,388.5 L596.3,389.1 L597.1,389.8 L597.8,390.4 L598.6,391.2 L599.3,391.8 L600.1,392.5 L600.8,393.1 L601.6,393.7 L602.3,394.2 L603.1,394.7 L603.8,395.2 L604.6,395.6 L605.3,395.9 L606.1,396.2 L606.8,396.4 L607.6,396.7 L608.3,396.8 L609.1,397 L609.8,397.1 L610.6,397.3 L611.3,397.4 L612.1,397.4 L612.8,397.5 L613.6,397.6 L614.3,397.6 L616.3,397.7 L618.3,397.8 L620.3,397.8 L622.3,397.8 L627.3,397.8 L630.4,397.8 L630.4,397.9 L559.8,397.9 Z" fill="#cfe0ec" stroke="#0f3d70" stroke-width="1.4" stroke-linejoin="round"/>
<line x1="592.2" x2="592.2" y1="397.5" y2="387.6" stroke="#14609f" stroke-width="2.0"/>
<line x1="559.8" x2="630.4" y1="397.9" y2="397.9" stroke="#174a7f" stroke-width="1.4"/>
<path d="M525,411.2 L530,411.2 L535,411.2 L540,411.2 L545,411.2 L550,411.2 L555,411.2 L560,411.1 L562,411 L564,410.9 L564.8,410.9 L565.5,410.9 L566.2,410.8 L567,410.8 L567.8,410.7 L568.5,410.6 L569.2,410.5 L570,410.5 L570.8,410.3 L571.5,410.2 L572.2,410.1 L573,410 L573.8,409.8 L574.5,409.6 L575.2,409.4 L576,409.2 L576.8,408.9 L577.5,408.7 L578.2,408.4 L579,408.1 L579.8,407.7 L580.5,407.4 L581.2,407.1 L582,406.7 L582.8,406.3 L583.5,405.9 L584.2,405.5 L585,405.1 L585.8,404.7 L586.5,404.4 L587.2,404.1 L588,403.9 L588.8,403.6 L589.5,403.5 L590.2,403.4 L591,403.3 L591.2,403.3 L591.8,403.3 L592.5,403.4 L593.2,403.5 L594,403.7 L594.8,404 L595.5,404.3 L596.2,404.6 L597,404.9 L597.8,405.3 L598.5,405.7 L599.2,406.1 L600,406.5 L600.8,406.9 L601.5,407.2 L602.2,407.6 L603,407.9 L603.8,408.3 L604.5,408.5 L605.2,408.8 L606,409.1 L606.8,409.3 L607.5,409.5 L608.2,409.7 L609,409.9 L609.8,410 L610.5,410.2 L611.2,410.3 L612,410.4 L612.8,410.5 L613.5,410.6 L614.2,410.7 L615,410.7 L615.8,410.8 L616.5,410.8 L617.2,410.9 L618,410.9 L618.8,411 L620.8,411 L622.8,411.1 L624.8,411.1 L626.8,411.2 L628.8,411.2 L633.8,411.2 L634.5,411.2 L634.5,411.2 L525,411.2 Z" fill="#cfe0ec" stroke="#0f3d70" stroke-width="1.4" stroke-linejoin="round"/>
<line x1="591.2" x2="591.2" y1="410.8" y2="403.8" stroke="#14609f" stroke-width="2.0"/>
<line x1="525" x2="634.5" y1="411.2" y2="411.2" stroke="#174a7f" stroke-width="1.4"/>
<path d="M564.4,424.5 L569.4,424.5 L571.4,424.4 L573.4,424.2 L574.1,424.2 L574.9,424 L575.6,423.9 L576.4,423.8 L577.1,423.6 L577.9,423.3 L578.6,423.1 L579.4,422.7 L580.1,422.3 L580.9,421.8 L581.6,421.3 L582.4,420.6 L583.1,419.9 L583.9,419 L584.6,418.2 L585.4,417.2 L586.1,416.3 L586.9,415.3 L587.6,414.5 L588.4,413.6 L589.1,413.1 L589.9,412.6 L590.6,412.5 L590.7,412.5 L591.4,412.6 L592.1,412.9 L592.9,413.5 L593.6,414.2 L594.4,415.1 L595.1,415.9 L595.9,416.9 L596.6,417.8 L597.4,418.8 L598.1,419.5 L598.9,420.3 L599.6,421 L600.4,421.6 L601.1,422.1 L601.9,422.5 L602.6,422.9 L603.4,423.2 L604.1,423.4 L604.9,423.7 L605.6,423.8 L606.4,424 L607.1,424.1 L607.9,424.2 L608.6,424.3 L609.4,424.3 L611.4,424.4 L613.4,424.5 L615.4,424.5 L618.1,424.5 L618.1,424.6 L564.4,424.6 Z" fill="#cfe0ec" stroke="#0f3d70" stroke-width="1.4" stroke-linejoin="round"/>
<line x1="590.7" x2="590.7" y1="424.2" y2="413" stroke="#14609f" stroke-width="2.0"/>
<line x1="564.4" x2="618.1" y1="424.6" y2="424.6" stroke="#174a7f" stroke-width="1.4"/>
<path d="M554.5,437.9 L559.5,437.9 L564.5,437.9 L569.5,437.9 L574.5,437.9 L579.5,437.8 L581.5,437.8 L583.5,437.7 L585.5,437.5 L586.2,437.5 L587,437.4 L587.8,437.3 L588.5,437.2 L589.2,437.1 L590,437 L590.8,436.8 L591.5,436.6 L592.2,436.4 L593,436.2 L593.8,435.9 L594.5,435.6 L595.2,435.3 L596,434.9 L596.8,434.4 L597.5,434 L598.2,433.6 L599,433 L599.8,432.5 L600.5,432 L601.2,431.5 L602,430.9 L602.8,430.4 L603.5,430 L604.2,429.6 L605,429.3 L605.8,429 L606.5,428.9 L607,428.9 L607.2,428.9 L608,429 L608.8,429.2 L609.5,429.4 L610.2,429.7 L611,430.1 L611.8,430.6 L612.5,431 L613.2,431.5 L614,432 L614.8,432.6 L615.5,433 L616.2,433.5 L617,433.9 L617.8,434.4 L618.5,434.8 L619.2,435.1 L620,435.5 L620.8,435.8 L621.5,436 L622.2,436.2 L623,436.5 L623.8,436.7 L624.5,436.8 L625.2,437 L626,437.1 L626.8,437.2 L627.5,437.3 L628.2,437.4 L629,437.5 L629.8,437.5 L630.5,437.6 L631.2,437.6 L632,437.7 L634,437.8 L636,437.8 L638,437.8 L640,437.9 L645,437.9 L647.9,437.9 L647.9,437.9 L554.5,437.9 Z" fill="#cfe0ec" stroke="#0f3d70" stroke-width="1.4" stroke-linejoin="round"/>
<line x1="607" x2="607" y1="437.5" y2="429.4" stroke="#14609f" stroke-width="2.0"/>
<line x1="554.5" x2="647.9" y1="437.9" y2="437.9" stroke="#174a7f" stroke-width="1.4"/>
<path d="M582.2,451.2 L587.2,451.2 L592.2,451.2 L594.2,451.1 L596.2,451 L598.2,450.9 L599,450.8 L599.7,450.7 L600.5,450.6 L601.2,450.5 L602,450.3 L602.7,450.1 L603.5,449.8 L604.2,449.6 L605,449.2 L605.7,448.9 L606.5,448.4 L607.2,447.9 L608,447.3 L608.7,446.7 L609.5,445.9 L610.2,445.2 L611,444.4 L611.7,443.6 L612.5,442.7 L613.2,441.9 L614,441.1 L614.7,440.5 L615.5,440 L616.2,439.6 L617,439.4 L617.3,439.4 L617.7,439.4 L618.5,439.7 L619.2,440 L620,440.7 L620.7,441.3 L621.5,442.2 L622.2,442.9 L623,443.9 L623.7,444.7 L624.5,445.5 L625.2,446.2 L626,447 L626.7,447.6 L627.5,448.2 L628.2,448.6 L629,449.1 L629.7,449.4 L630.5,449.7 L631.2,450 L632,450.2 L632.7,450.4 L633.5,450.6 L634.2,450.7 L635,450.8 L635.7,450.9 L636.5,450.9 L637.2,451 L639.2,451.1 L641.2,451.2 L643.2,451.2 L647.9,451.2 L647.9,451.2 L582.2,451.2 Z" fill="#cfe0ec" stroke="#0f3d70" stroke-width="1.4" stroke-linejoin="round"/>
<line x1="617.3" x2="617.3" y1="450.9" y2="439.9" stroke="#14609f" stroke-width="2.0"/>
<line x1="582.2" x2="647.9" y1="451.2" y2="451.2" stroke="#174a7f" stroke-width="1.4"/>
<path d="M545.5,464.6 L550.5,464.6 L555.5,464.5 L557.5,464.4 L559.5,464.3 L560.2,464.3 L561,464.2 L561.8,464.1 L562.5,464 L563.2,463.9 L564,463.8 L564.8,463.6 L565.5,463.4 L566.2,463.2 L567,463 L567.8,462.7 L568.5,462.4 L569.2,462 L570,461.6 L570.8,461.1 L571.5,460.6 L572.2,460 L573,459.4 L573.8,458.7 L574.5,458.1 L575.2,457.5 L576,456.8 L576.8,456.2 L577.5,455.7 L578.2,455.2 L579,454.9 L579.8,454.7 L580.5,454.6 L581.2,454.7 L582,454.9 L582.8,455.2 L583.5,455.6 L584.2,456.1 L585,456.8 L585.8,457.4 L586.5,458 L587.2,458.6 L588,459.3 L588.8,460 L589.5,460.5 L590.2,461 L591,461.5 L591.8,461.9 L592.5,462.3 L593.2,462.6 L594,462.9 L594.8,463.2 L595.5,463.4 L596.2,463.6 L597,463.7 L597.8,463.9 L598.5,464 L599.2,464.1 L600,464.2 L600.8,464.3 L601.5,464.3 L602.2,464.4 L604.2,464.5 L606.2,464.5 L608.2,464.5 L610.2,464.6 L615.2,464.6 L616.1,464.6 L616.1,464.6 L545.5,464.6 Z" fill="#cfe0ec" stroke="#0f3d70" stroke-width="1.4" stroke-linejoin="round"/>
<line x1="580.5" x2="580.5" y1="464.2" y2="455.1" stroke="#14609f" stroke-width="2.0"/>
<line x1="545.5" x2="616.1" y1="464.6" y2="464.6" stroke="#174a7f" stroke-width="1.4"/>
<path d="M558.9,477.9 L563.9,477.9 L568.9,477.9 L573.9,477.9 L575.9,477.9 L577.9,477.8 L579.9,477.7 L581.9,477.6 L582.6,477.5 L583.4,477.5 L584.1,477.4 L584.9,477.3 L585.6,477.2 L586.4,477 L587.1,476.9 L587.9,476.7 L588.6,476.5 L589.4,476.3 L590.1,476 L590.9,475.7 L591.6,475.4 L592.4,475.1 L593.1,474.7 L593.9,474.3 L594.6,473.9 L595.4,473.4 L596.1,473 L596.9,472.5 L597.6,472.1 L598.4,471.6 L599.1,471.3 L599.9,470.9 L600.6,470.6 L601.4,470.4 L602.1,470.3 L602.7,470.3 L602.9,470.3 L603.6,470.3 L604.4,470.5 L605.1,470.6 L605.9,470.8 L606.6,471.1 L607.4,471.4 L608.1,471.7 L608.9,472.1 L609.6,472.4 L610.4,472.8 L611.1,473.2 L611.9,473.6 L612.6,473.9 L613.4,474.3 L614.1,474.6 L614.9,474.9 L615.6,475.2 L616.4,475.5 L617.1,475.7 L617.9,476 L618.6,476.2 L619.4,476.4 L620.1,476.6 L620.9,476.7 L621.6,476.9 L622.4,477 L623.1,477.1 L623.9,477.2 L624.6,477.3 L625.4,477.4 L626.1,477.5 L626.9,477.5 L627.6,477.6 L628.4,477.6 L629.1,477.7 L629.9,477.7 L631.9,477.8 L633.9,477.8 L635.9,477.9 L637.9,477.9 L639.9,477.9 L644.9,477.9 L649.9,477.9 L654.9,477.9 L659.9,477.9 L661.9,477.9 L661.9,478 L558.9,478 Z" fill="#cfe0ec" stroke="#0f3d70" stroke-width="1.4" stroke-linejoin="round"/>
<line x1="603.5" x2="603.5" y1="477.6" y2="470.8" stroke="#14609f" stroke-width="2.0"/>
<line x1="558.9" x2="661.9" y1="478" y2="478" stroke="#174a7f" stroke-width="1.4"/>
<path d="M549.5,491.3 L554.5,491.3 L559.5,491.2 L561.5,491.1 L563.5,490.9 L564.2,490.9 L565,490.8 L565.8,490.7 L566.5,490.6 L567.2,490.5 L568,490.3 L568.8,490.2 L569.5,490 L570.2,489.8 L571,489.5 L571.8,489.2 L572.5,488.9 L573.2,488.6 L574,488.1 L574.8,487.7 L575.5,487.2 L576.2,486.8 L577,486.2 L577.8,485.6 L578.5,485 L579.2,484.5 L580,483.9 L580.8,483.3 L581.5,482.9 L582.2,482.5 L583,482.2 L583.8,481.9 L584.5,481.8 L584.9,481.8 L585.2,481.8 L586,481.9 L586.8,482.2 L587.5,482.6 L588.2,483 L589,483.5 L589.8,484.2 L590.5,484.7 L591.2,485.3 L592,486 L592.8,486.6 L593.5,487.1 L594.2,487.6 L595,488.1 L595.8,488.6 L596.5,488.9 L597.2,489.2 L598,489.6 L598.8,489.8 L599.5,490 L600.2,490.2 L601,490.4 L601.8,490.6 L602.5,490.7 L603.2,490.8 L604,490.9 L604.8,490.9 L605.5,491 L606.2,491 L607,491.1 L609,491.2 L611,491.2 L613,491.3 L618,491.3 L622.8,491.3 L622.8,491.3 L549.5,491.3 Z" fill="#cfe0ec" stroke="#0f3d70" stroke-width="1.4" stroke-linejoin="round"/>
<line x1="584.9" x2="584.9" y1="490.9" y2="482.3" stroke="#14609f" stroke-width="2.0"/>
<line x1="549.5" x2="622.8" y1="491.3" y2="491.3" stroke="#174a7f" stroke-width="1.4"/>
<path d="M506.3,504.6 L511.3,504.6 L516.3,504.6 L518.3,504.6 L520.3,504.5 L522.3,504.5 L524.3,504.4 L525,504.3 L525.8,504.3 L526.5,504.2 L527.3,504.1 L528,504.1 L528.8,504 L529.5,503.8 L530.3,503.7 L531,503.6 L531.8,503.4 L532.5,503.2 L533.3,503 L534,502.8 L534.8,502.5 L535.5,502.2 L536.3,501.9 L537,501.6 L537.8,501.2 L538.5,500.8 L539.3,500.3 L540,499.9 L540.8,499.4 L541.5,499 L542.3,498.4 L543,498 L543.8,497.5 L544.5,497.1 L545.3,496.7 L546,496.3 L546.8,496 L547.5,495.9 L548.3,495.7 L548.9,495.7 L549,495.7 L549.8,495.8 L550.5,496 L551.3,496.3 L552,496.6 L552.8,497.1 L553.5,497.5 L554.3,498.1 L555,498.6 L555.8,499.2 L556.5,499.7 L557.3,500.2 L558,500.7 L558.8,501.2 L559.5,501.6 L560.3,502 L561,502.3 L561.8,502.7 L562.5,502.9 L563.3,503.2 L564,503.4 L564.8,503.6 L565.5,503.7 L566.3,503.9 L567,504 L567.8,504.1 L568.5,504.2 L569.3,504.3 L570,504.3 L570.8,504.4 L571.5,504.4 L573.5,504.5 L575.5,504.6 L577.5,504.6 L579.5,504.6 L580.2,504.6 L580.2,504.6 L506.3,504.6 Z" fill="#cfe0ec" stroke="#0f3d70" stroke-width="1.4" stroke-linejoin="round"/>
<line x1="548.9" x2="548.9" y1="504.2" y2="496.2" stroke="#14609f" stroke-width="2.0"/>
<line x1="506.3" x2="580.2" y1="504.6" y2="504.6" stroke="#174a7f" stroke-width="1.4"/>
<path d="M539,518 L544,518 L549,518 L554,517.9 L556,517.8 L558,517.6 L558.8,517.5 L559.5,517.4 L560.2,517.3 L561,517.2 L561.8,517 L562.5,516.8 L563.2,516.6 L564,516.3 L564.8,516 L565.5,515.7 L566.2,515.3 L567,514.9 L567.8,514.3 L568.5,513.8 L569.2,513.3 L570,512.6 L570.8,511.9 L571.5,511.2 L572.2,510.6 L573,509.9 L573.8,509.2 L574.5,508.7 L575.2,508.3 L576,507.9 L576.8,507.7 L577.3,507.7 L577.5,507.7 L578.2,507.8 L579,508 L579.8,508.3 L580.5,508.7 L581.2,509.1 L582,509.7 L582.8,510.3 L583.5,510.9 L584.2,511.5 L585,512.1 L585.8,512.7 L586.5,513.2 L587.2,513.7 L588,514.2 L588.8,514.7 L589.5,515.1 L590.2,515.4 L591,515.8 L591.8,516.1 L592.5,516.4 L593.2,516.6 L594,516.8 L594.8,517 L595.5,517.1 L596.2,517.2 L597,517.4 L597.8,517.5 L598.5,517.5 L599.2,517.6 L600,517.7 L600.8,517.7 L601.5,517.8 L603.5,517.8 L605.5,517.9 L607.5,517.9 L608.8,518 L608.8,518 L539,518 Z" fill="#cfe0ec" stroke="#0f3d70" stroke-width="1.4" stroke-linejoin="round"/>
<line x1="577.3" x2="577.3" y1="517.6" y2="508.2" stroke="#14609f" stroke-width="2.0"/>
<line x1="539" x2="608.8" y1="518" y2="518" stroke="#174a7f" stroke-width="1.4"/>
<path d="M546.3,531.3 L551.3,531.3 L556.3,531.3 L558.3,531.2 L560.3,531.1 L561.1,531 L561.8,531 L562.6,530.9 L563.3,530.8 L564.1,530.7 L564.8,530.6 L565.6,530.4 L566.3,530.3 L567.1,530.1 L567.8,529.9 L568.6,529.6 L569.3,529.3 L570.1,529 L570.8,528.6 L571.6,528.2 L572.3,527.7 L573.1,527.2 L573.8,526.6 L574.6,526 L575.3,525.4 L576.1,524.7 L576.8,524 L577.6,523.3 L578.3,522.7 L579.1,522.1 L579.8,521.6 L580.6,521.1 L581.3,520.8 L582.1,520.6 L582.8,520.5 L583.6,520.6 L584.3,520.8 L585.1,521.1 L585.8,521.6 L586.6,522.1 L587.3,522.7 L588.1,523.4 L588.8,524 L589.6,524.8 L590.3,525.4 L591.1,526.1 L591.8,526.6 L592.6,527.2 L593.3,527.7 L594.1,528.2 L594.8,528.6 L595.6,529 L596.3,529.3 L597.1,529.6 L597.8,529.9 L598.6,530.1 L599.3,530.3 L600.1,530.5 L600.8,530.6 L601.6,530.7 L602.3,530.8 L603.1,530.9 L603.8,531 L604.6,531 L605.3,531.1 L606.1,531.1 L608.1,531.2 L610.1,531.3 L612.1,531.3 L617.1,531.3 L621,531.3 L621,531.4 L546.3,531.4 Z" fill="#cfe0ec" stroke="#0f3d70" stroke-width="1.4" stroke-linejoin="round"/>
<line x1="582.8" x2="582.8" y1="531" y2="521" stroke="#14609f" stroke-width="2.0"/>
<line x1="546.3" x2="621" y1="531.4" y2="531.4" stroke="#174a7f" stroke-width="1.4"/>
<path d="M550.4,544.7 L555.4,544.7 L560.4,544.7 L565.4,544.6 L567.4,544.6 L569.4,544.5 L571.4,544.4 L572.1,544.4 L572.9,544.3 L573.6,544.2 L574.4,544.1 L575.1,544 L575.9,543.9 L576.6,543.8 L577.4,543.6 L578.1,543.4 L578.9,543.2 L579.6,542.9 L580.4,542.6 L581.1,542.3 L581.9,541.9 L582.6,541.5 L583.4,541.1 L584.1,540.6 L584.9,540 L585.6,539.5 L586.4,538.9 L587.1,538.4 L587.9,537.7 L588.6,537.2 L589.4,536.7 L590.1,536.3 L590.9,535.9 L591.6,535.6 L592.4,535.4 L593,535.4 L593.1,535.4 L593.9,535.5 L594.6,535.6 L595.4,535.8 L596.1,536.1 L596.9,536.5 L597.6,536.9 L598.4,537.4 L599.1,537.8 L599.9,538.3 L600.6,538.8 L601.4,539.3 L602.1,539.8 L602.9,540.3 L603.6,540.7 L604.4,541.1 L605.1,541.5 L605.9,541.9 L606.6,542.2 L607.4,542.5 L608.1,542.7 L608.9,543 L609.6,543.2 L610.4,543.4 L611.1,543.6 L611.9,543.7 L612.6,543.8 L613.4,544 L614.1,544.1 L614.9,544.1 L615.6,544.2 L616.4,544.3 L617.1,544.3 L617.9,544.4 L618.6,544.4 L619.4,544.5 L621.4,544.6 L623.4,544.6 L625.4,544.6 L627.4,544.7 L632.4,544.7 L637.4,544.7 L642.4,544.7 L647.4,544.7 L649.9,544.7 L649.9,544.7 L550.4,544.7 Z" fill="#cfe0ec" stroke="#0f3d70" stroke-width="1.4" stroke-linejoin="round"/>
<line x1="593" x2="593" y1="544.3" y2="535.9" stroke="#14609f" stroke-width="2.0"/>
<line x1="550.4" x2="649.9" y1="544.7" y2="544.7" stroke="#174a7f" stroke-width="1.4"/>
<path d="M497.9,558 L502.9,558 L507.9,558 L512.9,558 L517.9,558 L519.9,557.9 L521.9,557.9 L523.9,557.9 L525.9,557.8 L526.7,557.8 L527.4,557.7 L528.2,557.7 L528.9,557.7 L529.7,557.6 L530.4,557.6 L531.2,557.5 L531.9,557.5 L532.7,557.4 L533.4,557.3 L534.2,557.2 L534.9,557.2 L535.7,557.1 L536.4,557 L537.2,556.9 L537.9,556.8 L538.7,556.6 L539.4,556.5 L540.2,556.4 L540.9,556.2 L541.7,556.1 L542.4,555.9 L543.2,555.7 L543.9,555.6 L544.7,555.4 L545.4,555.2 L546.2,554.9 L546.9,554.7 L547.7,554.5 L548.4,554.3 L549.2,554 L549.9,553.8 L550.7,553.6 L551.4,553.3 L552.2,553.1 L552.9,552.9 L553.7,552.7 L554.4,552.5 L555.2,552.3 L555.9,552.2 L556.7,552 L557.4,551.9 L558.2,551.8 L558.9,551.7 L559.7,551.7 L560.2,551.7 L560.4,551.7 L561.2,551.7 L561.9,551.8 L562.7,551.9 L563.4,552 L564.2,552.1 L564.9,552.3 L565.7,552.5 L566.4,552.7 L567.2,552.9 L567.9,553.1 L568.7,553.4 L569.4,553.6 L570.2,553.9 L570.9,554.1 L571.7,554.4 L572.4,554.6 L573.2,554.8 L573.9,555 L574.7,555.3 L575.4,555.5 L576.2,555.7 L576.9,555.9 L577.7,556.1 L578.4,556.2 L579.2,556.4 L579.9,556.5 L580.7,556.7 L581.4,556.8 L582.2,556.9 L582.9,557 L583.7,557.1 L584.4,557.2 L585.2,557.3 L585.9,557.3 L586.7,557.4 L587.4,557.5 L588.2,557.5 L588.9,557.6 L589.7,557.6 L590.4,557.7 L591.2,557.7 L591.9,557.7 L592.7,557.8 L593.4,557.8 L595.4,557.9 L597.4,557.9 L599.4,557.9 L601.4,558 L603.4,558 L605.3,558 L605.3,558 L497.9,558 Z" fill="#cfe0ec" stroke="#0f3d70" stroke-width="1.4" stroke-linejoin="round"/>
<line x1="560.2" x2="560.2" y1="557.6" y2="552.2" stroke="#14609f" stroke-width="2.0"/>
<line x1="497.9" x2="605.3" y1="558" y2="558" stroke="#174a7f" stroke-width="1.4"/>
<path d="M417.0,322.4 V569.3 H685" fill="none" stroke="#3a3a3a" stroke-width="1.1"/>
<line x1="413.8" x2="417.0" y1="331.1" y2="331.1" stroke="#333" stroke-width="1.3"/>
<line x1="413.8" x2="417.0" y1="344.5" y2="344.5" stroke="#333" stroke-width="1.3"/>
<line x1="413.8" x2="417.0" y1="357.8" y2="357.8" stroke="#333" stroke-width="1.3"/>
<line x1="413.8" x2="417.0" y1="371.2" y2="371.2" stroke="#333" stroke-width="1.3"/>
<line x1="413.8" x2="417.0" y1="384.5" y2="384.5" stroke="#333" stroke-width="1.3"/>
<line x1="413.8" x2="417.0" y1="397.9" y2="397.9" stroke="#333" stroke-width="1.3"/>
<line x1="413.8" x2="417.0" y1="411.2" y2="411.2" stroke="#333" stroke-width="1.3"/>
<line x1="413.8" x2="417.0" y1="424.6" y2="424.6" stroke="#333" stroke-width="1.3"/>
<line x1="413.8" x2="417.0" y1="437.9" y2="437.9" stroke="#333" stroke-width="1.3"/>
<line x1="413.8" x2="417.0" y1="451.2" y2="451.2" stroke="#333" stroke-width="1.3"/>
<line x1="413.8" x2="417.0" y1="464.6" y2="464.6" stroke="#333" stroke-width="1.3"/>
<line x1="413.8" x2="417.0" y1="478" y2="478" stroke="#333" stroke-width="1.3"/>
<line x1="413.8" x2="417.0" y1="491.3" y2="491.3" stroke="#333" stroke-width="1.3"/>
<line x1="413.8" x2="417.0" y1="504.6" y2="504.6" stroke="#333" stroke-width="1.3"/>
<line x1="413.8" x2="417.0" y1="518" y2="518" stroke="#333" stroke-width="1.3"/>
<line x1="413.8" x2="417.0" y1="531.4" y2="531.4" stroke="#333" stroke-width="1.3"/>
<line x1="413.8" x2="417.0" y1="544.7" y2="544.7" stroke="#333" stroke-width="1.3"/>
<line x1="413.8" x2="417.0" y1="558" y2="558" stroke="#333" stroke-width="1.3"/>
<line x1="429.0" x2="429.0" y1="569.3" y2="572.6" stroke="#333" stroke-width="1.3"/>
<text x="429.0" y="582.4" font-size="10.3" fill="#4d4d4d" stroke="#4d4d4d" stroke-width="0.2" text-anchor="middle">−8</text>
<line x1="507.0" x2="507.0" y1="569.3" y2="572.6" stroke="#333" stroke-width="1.3"/>
<text x="507.0" y="582.4" font-size="10.3" fill="#4d4d4d" stroke="#4d4d4d" stroke-width="0.2" text-anchor="middle">−4</text>
<line x1="585.1" x2="585.1" y1="569.3" y2="572.6" stroke="#333" stroke-width="1.3"/>
<text x="585.1" y="582.4" font-size="10.3" fill="#4d4d4d" stroke="#4d4d4d" stroke-width="0.2" text-anchor="middle">0</text>
<line x1="663.4" x2="663.4" y1="569.3" y2="572.6" stroke="#333" stroke-width="1.3"/>
<text x="663.4" y="582.4" font-size="10.3" fill="#4d4d4d" stroke="#4d4d4d" stroke-width="0.2" text-anchor="middle">4</text>
</g>
</svg>
</body>
</html>
